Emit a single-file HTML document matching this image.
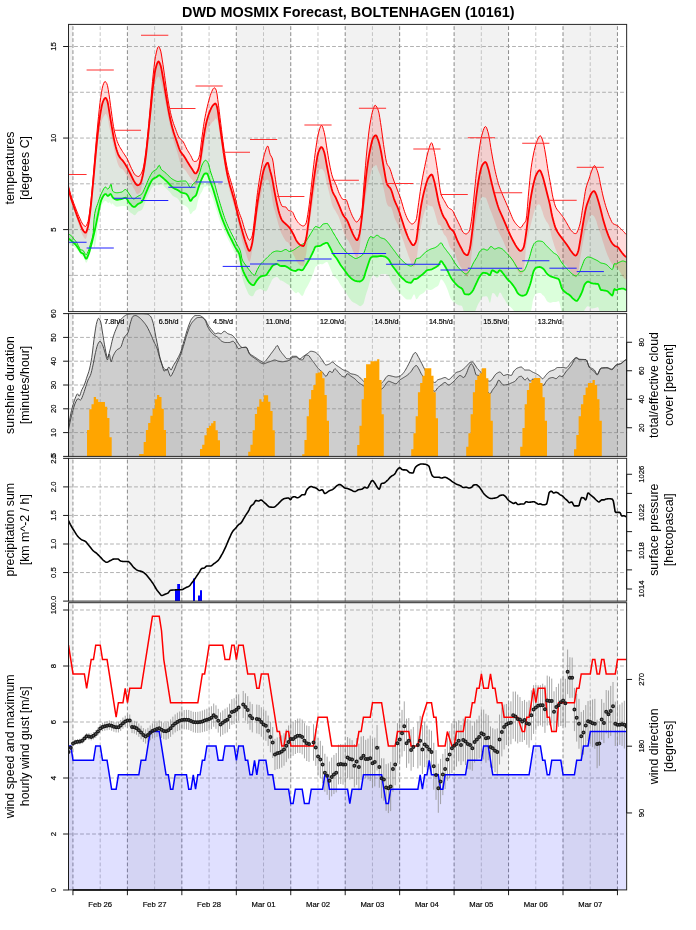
<!DOCTYPE html>
<html><head><meta charset="utf-8"><title>DWD MOSMIX Forecast, BOLTENHAGEN (10161)</title>
<style>html,body{margin:0;padding:0;background:#fff}svg{display:block}.s{stroke:#000;stroke-width:.18px}#w{will-change:transform;width:696px;height:930px}</style></head>
<body>
<div id="w">
<svg width="696" height="930" viewBox="0 0 696 930" font-family="'Liberation Sans', Arial, Helvetica, sans-serif">
<defs>
<clipPath id="c1"><rect x="68.5" y="24.4" width="558.15" height="287.2"/></clipPath>
<clipPath id="c2"><rect x="68.5" y="313.6" width="558.15" height="142.8"/></clipPath>
<clipPath id="c3"><rect x="68.5" y="458.3" width="558.15" height="142.8"/></clipPath>
<clipPath id="c4"><rect x="68.5" y="602.7" width="558.15" height="287.2"/></clipPath>
</defs>
<text x="348.3" y="16.6" text-anchor="middle" font-size="14.4" font-weight="bold">DWD MOSMIX Forecast, BOLTENHAGEN (10161)</text>
<g id="p1">
<rect x="68.5" y="24.4" width="4.45" height="287.2" fill="#f2f2f2"/><rect x="127.4" y="24.4" width="54.45" height="287.2" fill="#f2f2f2"/><rect x="236.3" y="24.4" width="54.45" height="287.2" fill="#f2f2f2"/><rect x="345.2" y="24.4" width="54.45" height="287.2" fill="#f2f2f2"/><rect x="454.1" y="24.4" width="54.45" height="287.2" fill="#f2f2f2"/><rect x="563" y="24.4" width="54.45" height="287.2" fill="#f2f2f2"/>
<g stroke-width="0.75" stroke-dasharray="3 3" stroke-linecap="round" fill="none"><path stroke="#b4b4b4" d="M100.18 311.6V24.4M154.62 311.6V24.4M209.07 311.6V24.4M263.53 311.6V24.4M317.98 311.6V24.4M372.43 311.6V24.4M426.88 311.6V24.4M481.32 311.6V24.4M535.78 311.6V24.4M590.23 311.6V24.4"/><path stroke="#666666" d="M127.4 311.6V24.4M181.85 311.6V24.4M236.3 311.6V24.4M290.75 311.6V24.4M345.2 311.6V24.4M399.65 311.6V24.4M454.1 311.6V24.4M508.55 311.6V24.4M563 311.6V24.4M617.45 311.6V24.4"/><path stroke="#6e6e6e" d="M72.95 311.6V24.4"/></g>
<path stroke="#989898" stroke-width="0.75" stroke-dasharray="3 3" stroke-linecap="round" fill="none" d="M68.5 46.5H626.65M68.5 92.28H626.65M68.5 138.05H626.65M68.5 183.82H626.65M68.5 229.6H626.65M68.5 275.38H626.65"/>
<g clip-path="url(#c1)">
<polygon fill="#285a28" fill-opacity="0.15" points="68.5,188.5 69.25,191.69 70,194.68 70.75,197.36 71.5,199.78 72.25,202.04 73,204.2 73.75,206.32 74.5,208.47 75.25,210.62 76,212.75 76.75,214.85 77.5,216.91 78.25,218.92 79,220.87 79.75,222.79 80.5,224.79 81.25,226.73 82,228.47 82.75,229.88 83.5,230.95 84.25,231.93 85,232.6 85.75,232.66 86.5,231.43 87.25,229.2 88,226.5 88.75,222.66 89.5,217.24 90.25,211.07 91,204.6 91.75,197.2 92.5,189.29 93.25,181.34 94,173.06 94.75,164.64 95.5,156.5 96.25,148.6 97,140.87 97.75,133.7 98.5,127.26 99.25,121.2 100,115.81 100.75,111.35 101.5,107.31 102.25,103.87 103,101.5 103.75,99.86 104.5,98.53 105.25,97.8 106,98.07 106.75,99.48 107.5,101.5 108.25,105.06 109,109.96 109.75,114.47 110.5,119.03 111.25,123.57 112,127.94 112.75,132.29 113.5,136.48 114.25,140.25 115,143.63 115.75,146.73 116.5,149.45 117.25,151.75 118,153.82 118.75,155.56 119.5,156.9 120.25,157.92 121,158.76 121.75,159.54 122.5,160.37 123.25,161.35 124,162.43 124.75,163.58 125.5,164.78 126.25,166.03 127,167.31 127.75,168.65 128.5,170.06 129.25,171.53 130,173.01 130.75,174.5 131.5,176.09 132.25,177.72 133,179.29 133.75,180.7 134.5,181.87 135.25,183.04 136,184.13 136.75,184.94 137.5,185.25 138.25,185.12 139,184.75 139.75,184.21 140.5,183.26 141.25,181.21 142,178.47 142.75,175.47 143.5,171.8 144.25,167.42 145,162.5 145.75,157.14 146.5,150.79 147.25,143.72 148,136.5 148.75,129.19 149.5,121.63 150.25,114.01 151,106.36 151.75,98.45 152.5,90.94 153.25,84.43 154,78.27 154.75,72.86 155.5,69 156.25,66.25 157,63.85 157.75,62.15 158.5,61.5 159.25,62.22 160,63.91 160.75,66.02 161.5,69.31 162.25,73.47 163,77.75 163.75,82.05 164.5,86.62 165.25,91.24 166,95.79 166.75,100.42 167.5,104.92 168.25,109.1 169,113.05 169.75,116.78 170.5,120.25 171.25,123.5 172,126.55 172.75,129.37 173.5,131.93 174.25,134.31 175,136.54 175.75,138.69 176.5,140.8 177.25,142.94 178,145.17 178.75,147.34 179.5,149.34 180.25,151.03 181,152.33 181.75,153.37 182.5,154.29 183.25,155.17 184,156.14 184.75,157.27 185.5,158.5 186.25,159.79 187,161.08 187.75,162.35 188.5,163.55 189.25,164.73 190,165.9 190.75,167.04 191.5,168.14 192.25,169.28 193,170.59 193.75,171.87 194.5,172.9 195.25,173.46 196,173.32 196.75,172.51 197.5,171.23 198.25,169.65 199,166.88 199.75,163.13 200.5,159 201.25,154.22 202,148.67 202.75,143.18 203.5,138.26 204.25,133.48 205,129.08 205.75,125.32 206.5,122.03 207.25,119.09 208,116.5 208.75,114.2 209.5,112.13 210.25,110.3 211,108.67 211.75,107.14 212.5,105.87 213.25,105 214,104.27 214.75,103.72 215.5,103.5 216.25,104.52 217,106.86 217.75,110.25 218.5,115.74 219.25,121.5 220,126.73 220.75,131.98 221.5,137.25 222.25,142.54 223,147.92 223.75,153.17 224.5,158.11 225.25,162.87 226,167.39 226.75,171.5 227.5,175.2 228.25,178.61 229,181.75 229.75,184.64 230.5,187.26 231.25,189.78 232,192.37 232.75,194.94 233.5,197.54 234.25,200.25 235,203.15 235.75,206.19 236.5,209.24 237.25,212.27 238,215.31 238.75,218.31 239.5,221.2 240.25,223.99 241,226.72 241.75,229.38 242.5,232.01 243.25,234.69 244,237.32 244.75,239.81 245.5,242.07 246.25,244.15 247,246.36 247.75,248.44 248.5,250.07 249.25,250.94 250,250.59 250.75,248.75 251.5,246.01 252.25,242.87 253,238.19 253.75,232.39 254.5,226.5 255.25,220.53 256,214.24 256.75,208.29 257.5,203.1 258.25,198.22 259,193.62 259.75,189.3 260.5,185.27 261.25,181.45 262,177.62 262.75,173.99 263.5,170.82 264.25,168.37 265,166.63 265.75,165.04 266.5,163.74 267.25,162.92 268,162.92 268.75,165.01 269.5,168.23 270.25,171.13 271,173.78 271.75,176.68 272.5,180.18 273.25,184.37 274,188.75 274.75,192.81 275.5,196.72 276.25,200.49 277,204 277.75,207.31 278.5,210.44 279.25,213.2 280,215.52 280.75,217.63 281.5,219.38 282.25,220.6 283,221.5 283.75,222.23 284.5,222.88 285.25,223.53 286,224.25 286.75,224.95 287.5,225.64 288.25,226.36 289,227.16 289.75,228.07 290.5,229.16 291.25,230.39 292,231.72 292.75,233.09 293.5,234.47 294.25,236.03 295,237.7 295.75,239.32 296.5,240.74 297.25,241.83 298,242.79 298.75,243.66 299.5,244.4 300.25,244.98 301,245.36 301.75,245.67 302.5,245.91 303.25,246 304,245.29 304.75,243.5 305.5,241.1 306.25,238.05 307,233.3 307.75,227.71 308.5,222.17 309.25,216.3 310,210.13 310.75,204 311.5,197.92 312.25,191.81 313,185.89 313.75,180.28 314.5,174.84 315.25,169.69 316,164.93 316.75,160.1 317.5,155.76 318.25,152.75 319,150.76 319.75,149.02 320.5,147.71 321.25,147.05 322,147.26 322.75,148.43 323.5,150.2 324.25,152.25 325,155.44 325.75,159.52 326.5,163.83 327.25,167.76 328,171.61 328.75,175.41 329.5,179 330.25,182.5 331,185.97 331.75,189.07 332.5,191.5 333.25,193.24 334,194.63 334.75,195.89 335.5,197.24 336.25,198.83 337,200.54 337.75,202.32 338.5,204.12 339.25,205.91 340,207.7 340.75,209.59 341.5,211.48 342.25,213.26 343,214.81 343.75,216.03 344.5,217.02 345.25,217.89 346,218.79 346.75,219.84 347.5,221.18 348.25,222.84 349,224.69 349.75,226.6 350.5,228.43 351.25,230.13 352,231.87 352.75,233.58 353.5,235.18 354.25,236.59 355,237.85 355.75,239.12 356.5,240.04 357.25,240.16 358,238.95 358.75,236.72 359.5,234 360.25,229.95 361,224.28 361.75,218.19 362.5,211.28 363.25,203.81 364,196.5 364.75,189.31 365.5,182.04 366.25,175.12 367,169 367.75,163.61 368.5,158.63 369.25,154.15 370,150.25 370.75,146.65 371.5,143.22 372.25,140.3 373,138.21 373.75,136.99 374.5,136.02 375.25,135.39 376,135.33 376.75,136.37 377.5,138.19 378.25,140.25 379,142.65 379.75,145.68 380.5,149.08 381.25,152.77 382,157.07 382.75,161.67 383.5,166.19 384.25,170.38 385,174.79 385.75,179.07 386.5,182.51 387.25,184.5 388,185.67 388.75,186.52 389.5,187.28 390.25,188.19 391,189.5 391.75,191.45 392.5,193.84 393.25,196.39 394,198.82 394.75,200.89 395.5,202.68 396.25,204.35 397,206 397.75,207.74 398.5,209.67 399.25,211.8 400,214.06 400.75,216.4 401.5,218.73 402.25,221.01 403,223.32 403.75,225.66 404.5,227.96 405.25,230.14 406,232.16 406.75,234.11 407.5,236.01 408.25,237.77 409,239.34 409.75,240.68 410.5,242.04 411.25,243.35 412,244.43 412.75,245.11 413.5,245.21 414.25,244.66 415,243.56 415.75,242.06 416.5,239.5 417.25,234.22 418,227.88 418.75,222.22 419.5,216.68 420.25,211.26 421,206.5 421.75,202.39 422.5,198.59 423.25,195.09 424,191.89 424.75,189 425.5,186.25 426.25,183.6 427,181.2 427.75,179.19 428.5,177.75 429.25,176.65 430,175.67 430.75,174.92 431.5,174.53 432.25,174.95 433,176.85 433.75,179.41 434.5,182.09 435.25,185.44 436,189 436.75,192.76 437.5,196.73 438.25,200.42 439,203.49 439.75,206.25 440.5,208.74 441.25,210.97 442,213.05 442.75,214.92 443.5,216.5 444.25,217.73 445,218.77 445.75,219.84 446.5,221.18 447.25,222.77 448,224.45 448.75,226.05 449.5,227.39 450.25,228.35 451,229.07 451.75,229.7 452.5,230.35 453.25,231.17 454,232.33 454.75,233.95 455.5,235.85 456.25,237.83 457,239.69 457.75,241.32 458.5,242.89 459.25,244.41 460,245.88 460.75,247.29 461.5,248.69 462.25,250.17 463,251.61 463.75,252.86 464.5,253.79 465.25,254.37 466,254.86 466.75,255.18 467.5,255.16 468.25,253.93 469,251.7 469.75,249 470.5,245.11 471.25,239.61 472,233.5 472.75,227.32 473.5,220.44 474.25,213.42 475,206.88 475.75,200.56 476.5,194.51 477.25,189 478,183.94 478.75,179.23 479.5,175.16 480.25,171.8 481,168.74 481.75,166.32 482.5,164.86 483.25,163.75 484,162.84 484.75,162.23 485.5,162 486.25,162.78 487,164.67 487.75,166.99 488.5,169.41 489.25,172.46 490,175.85 490.75,179.2 491.5,182.3 492.25,185.4 493,188.47 493.75,191.46 494.5,194.33 495.25,197.06 496,199.75 496.75,202.34 497.5,204.79 498.25,207.05 499,209.07 499.75,210.9 500.5,212.6 501.25,214.25 502,215.92 502.75,217.67 503.5,219.42 504.25,221.17 505,222.92 505.75,224.67 506.5,226.43 507.25,228.22 508,230.01 508.75,231.76 509.5,233.46 510.25,235.07 511,236.64 511.75,238.16 512.5,239.63 513.25,241.04 514,242.41 514.75,243.79 515.5,245.11 516.25,246.34 517,247.43 517.75,248.4 518.5,249.41 519.25,250.3 520,250.87 520.75,250.97 521.5,250.57 522.25,249.76 523,248.63 523.75,247.14 524.5,243.81 525.25,239.07 526,234 526.75,228.46 527.5,222.16 528.25,215.93 529,210.26 529.75,204.74 530.5,199.59 531.25,195.06 532,190.99 532.75,187.29 533.5,184 534.25,180.91 535,178.06 535.75,175.81 536.5,174.26 537.25,172.85 538,171.63 538.75,170.74 539.5,170.28 540.25,170.57 541,171.95 541.75,173.92 542.5,175.93 543.25,178.35 544,181.14 544.75,184 545.5,186.9 546.25,189.94 547,192.99 547.75,195.96 548.5,198.86 549.25,201.86 550,205.16 550.75,209.03 551.5,213.01 552.25,216.5 553,219.48 553.75,222.29 554.5,224.86 555.25,227.12 556,229 556.75,230.54 557.5,231.87 558.25,233.05 559,234.16 559.75,235.25 560.5,236.32 561.25,237.33 562,238.3 562.75,239.27 563.5,240.25 564.25,241.24 565,242.22 565.75,243.2 566.5,244.21 567.25,245.25 568,246.38 568.75,247.58 569.5,248.79 570.25,249.95 571,251 571.75,252 572.5,253 573.25,253.93 574,254.7 574.75,255.25 575.5,255.59 576.25,255.25 577,254.15 577.75,252.58 578.5,250.29 579.25,246.34 580,242 580.75,237.69 581.5,233.08 582.25,228.43 583,224 583.75,219.66 584.5,215.32 585.25,211.33 586,208 586.75,205.34 587.5,203.04 588.25,200.96 589,199 589.75,196.99 590.5,195.06 591.25,193.51 592,192.51 592.75,191.68 593.5,191.12 594.25,191.07 595,192 595.75,193.49 596.5,195.2 597.25,197.51 598,200 598.75,202.51 599.5,205.16 600.25,207.95 601,210.95 601.75,214.07 602.5,217.11 603.25,219.9 604,222.55 604.75,225.08 605.5,227.48 606.25,229.74 607,231.88 607.75,233.92 608.5,235.82 609.25,237.57 610,239.28 610.75,240.87 611.5,242.25 612.25,243.33 613,244.25 613.75,245.04 614.5,245.68 615.25,246.13 616,246.4 616.75,246.62 617.5,246.94 618.25,247.58 619,248.58 619.75,249.66 620.5,250.67 621.25,251.74 622,252.79 622.75,253.73 623.5,254.54 624.25,255.38 625,256.16 625.75,256.74 626.5,257 626.65,257 626.65,290 626.5,290 625.75,289.8 625,289.42 624.25,288.99 623.5,288.67 622.75,288.6 622,288.63 621.25,288.69 620.5,288.78 619.75,288.88 619,289 618.25,289.22 617.5,289.56 616.75,289.87 616,290 615.25,289.55 614.5,289.01 613.75,290.64 613,294.17 612.25,295.59 611.5,295.15 610.75,294.36 610,293.6 609.25,292.88 608.5,292.1 607.75,291.42 607,291 606.25,290.79 605.5,290.64 604.75,290.52 604,290.4 603.25,290.31 602.5,290.23 601.75,290.15 601,290 600.25,288.99 599.5,286.98 598.75,284.99 598,284 597.25,283.88 596.5,283.8 595.75,283.75 595,283.7 594.25,283.63 593.5,283.53 592.75,283.4 592,283.25 591.25,283.07 590.5,282.8 589.75,282.35 589,281.9 588.25,281.62 587.5,281.69 586.75,282.13 586,282.83 585.25,283.69 584.5,284.86 583.75,286.84 583,289.18 582.25,291.39 581.5,293.13 580.75,294.75 580,296.25 579.25,297.59 578.5,298.86 577.75,300.14 577,300.94 576.25,300.92 575.5,300.56 574.75,300.02 574,299.4 573.25,298.8 572.5,298.09 571.75,297.28 571,296.46 570.25,295.69 569.5,295.06 568.75,294.54 568,294.08 567.25,293.62 566.5,293.13 565.75,292.55 565,291.95 564.25,291.3 563.5,290.56 562.75,289.68 562,288.57 561.25,286.58 560.5,284.03 559.75,281.52 559,279.62 558.25,278.86 557.5,278.53 556.75,278.29 556,278.09 555.25,277.9 554.5,277.67 553.75,277.44 553,277.22 552.25,276.98 551.5,276.71 550.75,276.39 550,276 549.25,275.54 548.5,275.02 547.75,274.43 547,273.75 546.25,272.79 545.5,271.64 544.75,270.47 544,269.48 543.25,268.81 542.5,268.24 541.75,267.72 541,267.31 540.25,267.05 539.5,267 538.75,267.06 538,267.18 537.25,267.35 536.5,267.57 535.75,267.88 535,268.68 534.25,269.95 533.5,271.5 532.75,273.92 532,277.27 531.25,280.57 530.5,283.17 529.75,285.53 529,287.68 528.25,289.65 527.5,291.7 526.75,293.49 526,294.5 525.25,294.92 524.5,295.27 523.75,295.53 523,295.69 522.25,295.75 521.5,295.66 520.75,295.4 520,295.01 519.25,294.53 518.5,294 517.75,293.18 517,291.94 516.25,290.49 515.5,289.02 514.75,287.75 514,286.66 513.25,285.6 512.5,284.59 511.75,283.64 511,282.75 510.25,281.95 509.5,281.22 508.75,280.53 508,279.8 507.25,279 506.5,278.07 505.75,277.03 505,275.97 504.25,274.93 503.5,274 502.75,273.06 502,272.06 501.25,271.16 500.5,270.5 499.75,270.25 499,270.79 498.25,271.87 497.5,272.68 496.75,272.66 496,272.28 495.25,271.79 494.5,271.36 493.75,270.88 493,270.44 492.25,270.25 491.5,271.33 490.75,273.49 490,275.11 489.25,275.09 488.5,274.48 487.75,273.79 487,273.42 486.25,273.19 485.5,273 484.75,272.85 484,272.77 483.25,272.78 482.5,273.15 481.75,273.86 481,274.79 480.25,275.82 479.5,276.85 478.75,278.14 478,279.67 477.25,281.31 476.5,282.96 475.75,284.51 475,286.17 474.25,287.87 473.5,289.48 472.75,290.82 472,291.79 471.25,292.64 470.5,293.42 469.75,294.04 469,294.42 468.25,294.5 467.5,294.46 466.75,294.39 466,294.28 465.25,294.12 464.5,293.83 463.75,292.39 463,290.42 462.25,289 461.5,288.34 460.75,287.85 460,287.44 459.25,287.02 458.5,286.5 457.75,285.86 457,285.16 456.25,284.4 455.5,283.59 454.75,282.75 454,281.87 453.25,280.95 452.5,279.96 451.75,278.9 451,277.75 450.25,276.42 449.5,274.9 448.75,273.3 448,271.71 447.25,270.25 446.5,268.89 445.75,267.57 445,266.29 444.25,265.09 443.5,264 442.75,262.84 442,261.72 441.25,261.05 440.5,261.36 439.75,262.82 439,264.49 438.25,265.49 437.5,266.11 436.75,266.63 436,267.07 435.25,267.48 434.5,267.89 433.75,268.3 433,268.69 432.25,269.04 431.5,269.34 430.75,269.57 430,269.72 429.25,269.84 428.5,269.95 427.75,270.11 427,270.35 426.25,270.83 425.5,271.51 424.75,272.29 424,273.05 423.25,273.71 422.5,274.33 421.75,274.95 421,275.55 420.25,276.13 419.5,276.69 418.75,277.33 418,277.99 417.25,278.55 416.5,278.92 415.75,279 415,279 414.25,279.05 413.5,279.66 412.75,280.69 412,281.78 411.25,282.57 410.5,282.75 409.75,282.68 409,282.55 408.25,282.37 407.5,282.16 406.75,281.91 406,281.48 405.25,280.88 404.5,280.18 403.75,279.46 403,278.78 402.25,278.09 401.5,277.37 400.75,276.61 400,275.81 399.25,274.96 398.5,274.02 397.75,273.01 397,271.97 396.25,270.93 395.5,269.92 394.75,268.95 394,267.98 393.25,267 392.5,265.97 391.75,264.86 391,263.54 390.25,262.11 389.5,260.74 388.75,259.58 388,258.76 387.25,258.09 386.5,257.5 385.75,257.01 385,256.65 384.25,256.45 383.5,256.29 382.75,256.16 382,256.07 381.25,256.01 380.5,256.01 379.75,256.09 379,256.23 378.25,256.37 377.5,256.48 376.75,256.5 376,256.5 375.25,256.5 374.5,256.5 373.75,256.5 373,256.52 372.25,256.74 371.5,257.17 370.75,257.75 370,258.98 369.25,261.02 368.5,263.29 367.75,265.41 367,267.66 366.25,269.98 365.5,272.29 364.75,274.95 364,277.43 363.25,279 362.5,279.81 361.75,280.5 361,281.03 360.25,281.38 359.5,281.5 358.75,281.47 358,281.4 357.25,281.29 356.5,281.15 355.75,281 355,280.77 354.25,280.43 353.5,280 352.75,279.52 352,279 351.25,278.41 350.5,277.72 349.75,276.94 349,276.11 348.25,275.25 347.5,274.34 346.75,273.35 346,272.32 345.25,271.27 344.5,270.25 343.75,269.27 343,268.3 342.25,267.33 341.5,266.32 340.75,265.25 340,264.07 339.25,262.78 338.5,261.47 337.75,260.18 337,259 336.25,257.96 335.5,257.02 334.75,256.09 334,255.11 333.25,254 332.5,252.66 331.75,251.11 331,249.48 330.25,247.9 329.5,246.5 328.75,245.07 328,243.66 327.25,242.82 326.5,242.79 325.75,242.96 325,243.23 324.25,243.56 323.5,243.89 322.75,244.24 322,244.69 321.25,245.17 320.5,245.61 319.75,245.93 319,246.09 318.25,246.17 317.5,246.24 316.75,246.31 316,246.44 315.25,246.94 314.5,248.46 313.75,250.36 313,252 312.25,253.54 311.5,255.08 310.75,256.6 310,258.07 309.25,259.45 308.5,260.78 307.75,262.07 307,263.31 306.25,264.49 305.5,265.64 304.75,266.92 304,268.24 303.25,269.37 302.5,270.09 301.75,270.24 301,270.12 300.25,269.91 299.5,269.69 298.75,269.54 298,269.54 297.25,270.03 296.5,270.68 295.75,271 295,270.96 294.25,270.85 293.5,270.68 292.75,270.48 292,270.25 291.25,269.91 290.5,269.4 289.75,268.82 289,268.24 288.25,267.75 287.5,267.3 286.75,266.84 286,266.42 285.25,266.12 284.5,266 283.75,266 283,266 282.25,266 281.5,266 280.75,266 280,265.79 279.25,265.3 278.5,264.7 277.75,264.21 277,264 276.25,264.07 275.5,264.25 274.75,264.52 274,264.86 273.25,265.25 272.5,265.87 271.75,266.82 271,267.96 270.25,269.15 269.5,270.25 268.75,271.36 268,272.57 267.25,273.73 266.5,274.68 265.75,275.25 265,275.52 264.25,275.71 263.5,275.85 262.75,275.97 262,276.12 261.25,276.32 260.5,276.62 259.75,277.16 259,277.89 258.25,278.76 257.5,279.66 256.75,280.56 256,281.74 255.25,283.07 254.5,284.27 253.75,285.07 253,285.23 252.25,285 251.5,284.54 250.75,283.93 250,283.23 249.25,282.49 248.5,281.52 247.75,280.31 247,278.94 246.25,277.48 245.5,276.02 244.75,274.55 244,273.01 243.25,271.28 242.5,269.28 241.75,266.81 241,262.9 240.25,258.42 239.5,254.78 238.75,252.84 238,251.46 237.25,250.35 236.5,249.32 235.75,248.19 235,246.82 234.25,245.35 233.5,243.83 232.75,242.29 232,240.75 231.25,239.26 230.5,237.79 229.75,236.33 229,234.83 228.25,233.28 227.5,231.66 226.75,229.98 226,228.24 225.25,226.45 224.5,224.62 223.75,222.75 223,220.85 222.25,218.89 221.5,216.86 220.75,214.73 220,212.47 219.25,210.04 218.5,207.49 217.75,204.91 217,202.34 216.25,199.81 215.5,197.23 214.75,194.65 214,192.13 213.25,189.75 212.5,187.55 211.75,185.47 211,183.48 210.25,181.54 209.5,179.63 208.75,177.54 208,175.17 207.25,173.63 206.5,173.5 205.75,173.5 205,173.5 204.25,173.97 203.5,175.17 202.75,176.77 202,178.47 201.25,180.09 200.5,181.93 199.75,183.95 199,186.09 198.25,188.27 197.5,190.66 196.75,193.38 196,195.25 195.25,196.07 194.5,196.63 193.75,197.12 193,197.75 192.25,198.83 191.5,200.1 190.75,200.93 190,200.59 189.25,198.92 188.5,196.95 187.75,195.67 187,194.72 186.25,193.96 185.5,193.5 184.75,193.29 184,193.16 183.25,193.05 182.5,192.93 181.75,192.75 181,192.41 180.25,191.91 179.5,191.33 178.75,190.75 178,190.25 177.25,189.85 176.5,189.5 175.75,189.17 175,188.84 174.25,188.48 173.5,188.07 172.75,187.57 172,186.92 171.25,186.16 170.5,185.34 169.75,184.52 169,183.75 168.25,182.99 167.5,182.22 166.75,181.46 166,180.72 165.25,180.02 164.5,179.33 163.75,178.66 163,178.01 162.25,177.39 161.5,176.8 160.75,176.11 160,175.51 159.25,175.25 158.5,175.53 157.75,176.16 157,176.83 156.25,177.28 155.5,177.63 154.75,177.96 154,178.33 153.25,178.81 152.5,179.49 151.75,180.53 151,181.82 150.25,183.27 149.5,184.76 148.75,186.28 148,187.98 147.25,189.8 146.5,191.65 145.75,193.43 145,195.18 144.25,197.08 143.5,198.95 142.75,200.57 142,201.75 141.25,202.38 140.5,202.81 139.75,203.15 139,203.47 138.25,203.85 137.5,204.39 136.75,205.13 136,205.93 135.25,206.6 134.5,206.97 133.75,206.93 133,206.58 132.25,206.01 131.5,205.27 130.75,204.44 130,203.58 129.25,202.75 128.5,201.73 127.75,200.42 127,199.13 126.25,198.14 125.5,197.75 124.75,197.85 124,198.11 123.25,198.45 122.5,198.77 121.75,199 121,199.16 120.25,199.32 119.5,199.46 118.75,199.59 118,199.68 117.25,199.74 116.5,199.74 115.75,199.56 115,199.2 114.25,198.72 113.5,198.15 112.75,197.48 112,196.14 111.25,194.68 110.5,194 109.75,194.43 109,195.3 108.25,195.94 107.5,195.79 106.75,195 106,194.21 105.25,194.03 104.5,194.48 103.75,195.37 103,196.59 102.25,198 101.5,199.56 100.75,201.88 100,204.92 99.25,208.44 98.5,212.14 97.75,215.77 97,219.46 96.25,223.37 95.5,227.04 94.75,230.44 94,233.7 93.25,236.89 92.5,240.06 91.75,243.17 91,246.1 90.25,248.81 89.5,251.44 88.75,253.78 88,255.67 87.25,257.46 86.5,258.67 85.75,258.53 85,257.21 84.25,255.46 83.5,254.02 82.75,253.44 82,253.15 81.25,252.8 80.5,252.03 79.75,250.79 79,249.55 78.25,248.37 77.5,247.17 76.75,246.05 76,245.08 75.25,244.26 74.5,243.51 73.75,242.82 73,242.17 72.25,241.53 71.5,240.89 70.75,240.28 70,239.7 69.25,239.14 68.5,238.6"/>
<polygon fill="#00ff00" fill-opacity="0.14" points="68.5,234.1 69.25,234.38 70,234.82 70.75,235.38 71.5,236.04 72.25,236.75 73,237.76 73.75,238.79 74.5,239.69 75.25,240.57 76,241.56 76.75,242.76 77.5,244.14 78.25,245.56 79,246.99 79.75,248.59 80.5,249.64 81.25,249.89 82,250.02 82.75,250.22 83.5,250.98 84.25,252.25 85,253.58 85.75,254.52 86.5,254.57 87.25,253.4 88,251.66 88.75,249.8 89.5,247.45 90.25,244.82 91,242.18 91.75,239.85 92.5,237 93.25,232.59 94,219.52 94.75,213.48 95.5,210.05 96.25,207.54 97,205.51 97.75,203.49 98.5,201.22 99.25,198.98 100,196.88 100.75,194.95 101.5,193.25 102.25,191.74 103,190.18 103.75,188.74 104.5,187.63 105.25,187.04 106,187.31 106.75,188.37 107.5,189 108.25,188.7 109,188.02 109.75,186.73 110.5,184.63 111.25,184.49 112,188.99 112.75,191.21 113.5,191.76 114.25,192.17 115,192.47 115.75,192.66 116.5,192.74 117.25,192.74 118,192.69 118.75,192.61 119.5,192.49 120.25,192.35 121,192.18 121.75,192 122.5,191.62 123.25,190.98 124,190.29 124.75,189.73 125.5,189.5 126.25,189.83 127,190.66 127.75,191.77 128.5,192.96 129.25,194 130,195.02 130.75,196.18 131.5,197.31 132.25,198.27 133,198.87 133.75,198.98 134.5,198.72 135.25,198.24 136,197.65 136.75,197.03 137.5,196.5 138.25,196.09 139,195.72 139.75,195.35 140.5,194.94 141.25,194.42 142,193.74 142.75,192.61 143.5,191.1 144.25,189.39 145,187.62 145.75,185.95 146.5,184.19 147.25,182.34 148,180.5 148.75,178.78 149.5,177.26 150.25,175.79 151,174.38 151.75,173.11 152.5,172.05 153.25,171.28 154,170.73 154.75,170.31 155.5,169.91 156.25,169.42 157,168.7 157.75,167.34 158.5,165.91 159.25,165.25 160,166.49 160.75,168.56 161.5,169.59 162.25,170.32 163,170.91 163.75,171.43 164.5,171.95 165.25,172.53 166,173.22 166.75,173.98 167.5,174.77 168.25,175.54 169,176.27 169.75,176.95 170.5,177.62 171.25,178.27 172,178.86 172.75,179.36 173.5,179.78 174.25,180.19 175,180.59 175.75,180.95 176.5,181.24 177.25,181.43 178,181.5 178.75,181.45 179.5,181.32 180.25,181.18 181,181.05 181.75,181 182.5,181 183.25,181 184,181 184.75,181 185.5,181 186.25,181.44 187,182.46 187.75,183.65 188.5,184.82 189.25,186.29 190,187.47 190.75,187.67 191.5,186.69 192.25,185.21 193,184 193.75,183.32 194.5,182.8 195.25,182.25 196,181.5 196.75,180.3 197.5,178.64 198.25,176.7 199,174.67 199.75,172.53 200.5,169.97 201.25,167.36 202,165.1 202.75,163.55 203.5,162.24 204.25,161.12 205,160.41 205.75,160.28 206.5,160.76 207.25,161.64 208,162.75 208.75,164.7 209.5,167.62 210.25,170.63 211,173.08 211.75,175.3 212.5,177.46 213.25,179.64 214,181.94 214.75,184.46 215.5,187.18 216.25,190.01 217,192.86 217.75,195.62 218.5,198.24 219.25,200.8 220,203.32 220.75,205.79 221.5,208.21 222.25,210.58 223,212.94 223.75,215.26 224.5,217.48 225.25,219.58 226,221.54 226.75,223.38 227.5,225.13 228.25,226.82 229,228.46 229.75,230.06 230.5,231.59 231.25,233.07 232,234.53 232.75,236 233.5,237.5 234.25,239 235,240.5 235.75,242 236.5,243.5 237.25,244.94 238,246.21 238.75,247.48 239.5,248.94 240.25,250.77 241,253.82 241.75,258.08 242.5,260.23 243.25,261.7 244,262.87 244.75,263.88 245.5,264.89 246.25,265.98 247,267.05 247.75,268.07 248.5,269.04 249.25,269.96 250,270.86 250.75,271.84 251.5,272.84 252.25,273.76 253,274.53 253.75,275.06 254.5,275.25 255.25,274.46 256,272.67 256.75,270.76 257.5,269.33 258.25,267.96 259,266.65 259.75,265.42 260.5,264.33 261.25,263.39 262,262.56 262.75,261.81 263.5,261.1 264.25,260.42 265,259.72 265.75,259 266.5,258.24 267.25,257.47 268,256.71 268.75,255.97 269.5,255.25 270.25,254.52 271,253.75 271.75,253.03 272.5,252.42 273.25,252 274,251.7 274.75,251.43 275.5,251.21 276.25,251.06 277,251 277.75,251.05 278.5,251.18 279.25,251.32 280,251.45 280.75,251.5 281.5,251.38 282.25,251.07 283,250.65 283.75,250.2 284.5,249.81 285.25,249.56 286,249.53 286.75,249.85 287.5,250.4 288.25,250.98 289,251.4 289.75,251.49 290.5,251.37 291.25,251.13 292,250.82 292.75,250.48 293.5,250.13 294.25,249.7 295,249.19 295.75,248.65 296.5,248.1 297.25,247.58 298,247.08 298.75,246.58 299.5,246.08 300.25,245.58 301,245.09 301.75,244.63 302.5,244.18 303.25,243.71 304,243.17 304.75,242.52 305.5,241.68 306.25,240.7 307,239.62 307.75,238.5 308.5,237.37 309.25,236.15 310,234.84 310.75,233.53 311.5,232.27 312.25,231.11 313,229.83 313.75,228.51 314.5,227.38 315.25,226.66 316,226.52 316.75,226.72 317.5,227.06 318.25,227.43 319,227.69 319.75,227.71 320.5,227.14 321.25,226.16 322,225.1 322.75,224.27 323.5,223.94 324.25,223.79 325,223.66 325.75,223.56 326.5,223.51 327.25,223.55 328,224.22 328.75,225.34 329.5,226.5 330.25,227.61 331,228.85 331.75,230.15 332.5,231.47 333.25,232.75 334,234 334.75,235.25 335.5,236.5 336.25,237.75 337,239 337.75,240.27 338.5,241.57 339.25,242.85 340,244.09 340.75,245.25 341.5,246.34 342.25,247.4 343,248.41 343.75,249.36 344.5,250.25 345.25,251.09 346,251.9 346.75,252.66 347.5,253.36 348.25,254 349,254.57 349.75,255.1 350.5,255.59 351.25,256.05 352,256.5 352.75,256.99 353.5,257.52 354.25,258.01 355,258.36 355.75,258.5 356.5,258.41 357.25,258.16 358,257.82 358.75,257.41 359.5,257 360.25,256.58 361,256.11 361.75,255.54 362.5,254.85 363.25,254 364,252.62 364.75,250.63 365.5,248.45 366.25,246.26 367,243.77 367.75,241.45 368.5,239.74 369.25,238.21 370,236.99 370.75,236.5 371.5,236.77 372.25,237.31 373,237.72 373.75,237.63 374.5,237.1 375.25,236.38 376,235.69 376.75,235.28 377.5,235.35 378.25,235.77 379,236.4 379.75,237.07 380.5,237.62 381.25,237.95 382,238.18 382.75,238.38 383.5,238.6 384.25,238.88 385,239.3 385.75,239.93 386.5,240.71 387.25,241.58 388,242.46 388.75,243.35 389.5,244.31 390.25,245.33 391,246.38 391.75,247.41 392.5,248.42 393.25,249.42 394,250.42 394.75,251.42 395.5,252.42 396.25,253.43 397,254.47 397.75,255.51 398.5,256.52 399.25,257.46 400,258.31 400.75,259.11 401.5,259.87 402.25,260.59 403,261.28 403.75,261.95 404.5,262.62 405.25,263.27 406,263.86 406.75,264.36 407.5,264.77 408.25,265.19 409,265.56 409.75,265.84 410.5,265.99 411.25,265.95 412,265.69 412.75,265.22 413.5,264.58 414.25,263.79 415,262.14 415.75,259.41 416.5,258.71 417.25,258.44 418,258.27 418.75,258.11 419.5,257.86 420.25,257.43 421,256.75 421.75,255.91 422.5,255.04 423.25,254.23 424,253.56 424.75,252.91 425.5,252.28 426.25,251.7 427,251.16 427.75,250.69 428.5,250.24 429.25,249.83 430,249.45 430.75,249.1 431.5,248.81 432.25,248.57 433,248.36 433.75,248.13 434.5,247.86 435.25,247.51 436,247.08 436.75,246.59 437.5,246.04 438.25,245.45 439,244.73 439.75,243.75 440.5,242.95 441.25,242.82 442,243.73 442.75,245.17 443.5,246.5 444.25,247.54 445,248.55 445.75,249.53 446.5,250.51 447.25,251.5 448,252.48 448.75,253.45 449.5,254.42 450.25,255.43 451,256.5 451.75,257.68 452.5,258.97 453.25,260.28 454,261.57 454.75,262.75 455.5,263.84 456.25,264.9 457,265.91 457.75,266.86 458.5,267.75 459.25,268.59 460,269.4 460.75,270.16 461.5,270.86 462.25,271.5 463,272.14 463.75,272.81 464.5,273.41 465.25,273.84 466,274 466.75,273.77 467.5,273.16 468.25,272.29 469,271.28 469.75,270.25 470.5,269.05 471.25,267.54 472,265.89 472.75,264.24 473.5,262.75 474.25,261.45 475,260.23 475.75,259.03 476.5,257.81 477.25,256.5 478,254.91 478.75,253.19 479.5,251.81 480.25,250.99 481,250.28 481.75,249.67 482.5,249.24 483.25,249.02 484,249.06 484.75,249.32 485.5,249.69 486.25,250.03 487,250.23 487.75,250.07 488.5,249.28 489.25,248.19 490,247.16 490.75,246.55 491.5,246.62 492.25,247.15 493,247.87 493.75,248.56 494.5,248.97 495.25,248.94 496,248.68 496.75,248.31 497.5,247.97 498.25,247.77 499,247.78 499.75,247.94 500.5,248.19 501.25,248.51 502,248.88 502.75,249.31 503.5,249.97 504.25,250.78 505,251.65 505.75,252.49 506.5,253.24 507.25,253.96 508,254.68 508.75,255.42 509.5,256.22 510.25,257.09 511,258.02 511.75,259.01 512.5,260.05 513.25,261.13 514,262.28 514.75,263.57 515.5,264.91 516.25,266.21 517,267.4 517.75,268.48 518.5,269.63 519.25,270.66 520,271.35 520.75,271.5 521.5,271.44 522.25,271.31 523,271.14 523.75,270.88 524.5,270.07 525.25,268.72 526,267.03 526.75,265.2 527.5,263.39 528.25,261.29 529,258.94 529.75,256.5 530.5,253.82 531.25,250.97 532,248.44 532.75,246.48 533.5,244.7 534.25,243.32 535,242.56 535.75,242.02 536.5,241.57 537.25,241.23 538,241.04 538.75,241 539.5,241.04 540.25,241.12 541,241.24 541.75,241.39 542.5,241.58 543.25,242.09 544,242.87 544.75,243.79 545.5,244.71 546.25,245.5 547,246.25 547.75,247 548.5,247.75 549.25,248.5 550,249.25 550.75,250.04 551.5,250.84 552.25,251.61 553,252.33 553.75,252.94 554.5,253.43 555.25,253.86 556,254.29 556.75,254.82 557.5,255.51 558.25,256.57 559,257.89 559.75,259.32 560.5,260.69 561.25,261.87 562,262.95 562.75,263.99 563.5,264.98 564.25,265.91 565,266.78 565.75,267.58 566.5,268.32 567.25,269.04 568,269.76 568.75,270.5 569.5,271.31 570.25,272.13 571,272.92 571.75,273.61 572.5,274.18 573.25,274.72 574,275.25 574.75,275.67 575.5,275.94 576.25,275.97 577,275.53 577.75,274.72 578.5,273.71 579.25,272.61 580,271.08 580.75,269.2 581.5,267.23 582.25,265.39 583,263.38 583.75,261.37 584.5,259.72 585.25,258.74 586,258.02 586.75,257.44 587.5,257.08 588.25,257.01 589,257.09 589.75,257.26 590.5,257.46 591.25,257.68 592,257.98 592.75,258.35 593.5,258.75 594.25,259.12 595,259.48 595.75,259.83 596.5,260.2 597.25,260.59 598,261 598.75,261.51 599.5,262.1 600.25,262.64 601,263 601.75,263.18 602.5,263.31 603.25,263.43 604,263.6 604.75,263.85 605.5,264.17 606.25,264.55 607,265 607.75,265.63 608.5,266.44 609.25,267.29 610,268 610.75,268.65 611.5,269.26 612.25,269.59 613,268.3 613.75,265.09 614.5,263.6 615.25,263.82 616,264 616.75,263.81 617.5,263.36 618.25,262.83 619,262.4 619.75,262.06 620.5,261.71 621.25,261.39 622,261.14 622.75,261.01 623.5,261.05 624.25,261.28 625,261.58 625.75,261.86 626.5,262 626.65,262 626.65,318 626.5,318 625.75,317.75 625,317.25 624.25,316.7 623.5,316.29 622.75,316.19 622,316.13 621.25,316 620.5,315.85 619.75,315.71 619,315.6 618.25,315.62 617.5,315.76 616.75,315.92 616,316 615.25,315.27 614.5,314.42 613.75,316.19 613,320.04 612.25,321.58 611.5,321.03 610.75,320.08 610,319.2 609.25,318.48 608.5,317.77 607.75,317.22 607,317 606.25,317.03 605.5,317.11 604.75,317.18 604,317.2 603.25,317.18 602.5,317.16 601.75,317.11 601,317 600.25,315.33 599.5,311.86 598.75,308.46 598,307 597.25,307.17 596.5,307.41 595.75,307.67 595,307.93 594.25,308.14 593.5,308.31 592.75,308.45 592,308.52 591.25,308.46 590.5,308.14 589.75,307.45 589,306.71 588.25,306.24 587.5,306.31 586.75,306.82 586,307.64 585.25,308.65 584.5,310.01 583.75,312.31 583,314.99 582.25,317.38 581.5,319.02 580.75,320.3 580,321.41 579.25,322.57 578.5,324.01 577.75,325.56 577,326.34 576.25,325.88 575.5,325.19 574.75,324.36 574,323.55 573.25,322.87 572.5,322.01 571.75,320.95 571,319.99 570.25,319.25 569.5,318.8 568.75,318.57 568,318.39 567.25,318.2 566.5,317.93 565.75,317.52 565,317.11 564.25,316.68 563.5,316.14 562.75,315.37 562,314.18 561.25,311.29 560.5,307.37 559.75,303.71 559,301.36 558.25,301.15 557.5,301.54 556.75,301.76 556,301.89 555.25,301.94 554.5,301.9 553.75,301.94 553,302.11 552.25,302.35 551.5,302.58 550.75,302.73 550,302.74 549.25,302.58 548.5,302.29 547.75,301.86 547,301.26 546.25,300.09 545.5,298.57 544.75,297.16 544,296.09 543.25,295.53 542.5,294.9 541.75,294.05 541,293.37 540.25,292.98 539.5,292.97 538.75,293.11 538,293.31 537.25,293.46 536.5,293.58 535.75,293.74 535,294.8 534.25,296.57 533.5,298.3 532.75,301.37 532,306.1 531.25,310.18 530.5,312.52 529.75,314.56 529,316.42 528.25,318.01 527.5,320.02 526.75,321.78 526,321.97 525.25,321.12 524.5,320.47 523.75,320.18 523,320.25 522.25,320.19 521.5,319.87 520.75,319.3 520,318.67 519.25,318.4 518.5,318.37 517.75,317.88 517,316.48 516.25,314.76 515.5,313.14 514.75,311.93 514,311.03 513.25,310.07 512.5,309.14 511.75,308.27 511,307.48 510.25,306.81 509.5,306.23 508.75,305.63 508,304.92 507.25,304.04 506.5,302.9 505.75,301.58 505,300.28 504.25,299.08 503.5,298.03 502.75,296.81 502,295.25 501.25,293.81 500.5,292.82 499.75,292.56 499,293.8 498.25,295.97 497.5,297.39 496.75,297.01 496,295.89 495.25,294.64 494.5,293.76 493.75,293.2 493,293.01 492.25,293.35 491.5,296.04 490.75,300.43 490,303.06 489.25,302 488.5,299.67 487.75,297.5 487,296.61 486.25,296.36 485.5,296.32 484.75,296.39 484,296.47 483.25,296.54 482.5,297.06 481.75,298.04 481,299.3 480.25,300.64 479.5,301.9 478.75,303.09 478,304.43 477.25,306.13 476.5,308.11 475.75,309.99 475,312.11 474.25,314.3 473.5,316.2 472.75,317.4 472,317.68 471.25,317.74 470.5,317.79 469.75,317.83 469,317.56 468.25,316.71 467.5,315.77 466.75,315.01 466,314.55 465.25,314.41 464.5,314.25 463.75,311.97 463,308.69 462.25,306.5 461.5,305.82 460.75,305.54 460,305.48 459.25,305.45 458.5,305.25 457.75,304.87 457,304.41 456.25,303.9 455.5,303.34 454.75,302.75 454,302.18 453.25,301.61 452.5,300.96 451.75,300.12 451,299 450.25,297.41 449.5,295.38 448.75,293.14 448,290.94 447.25,289 446.5,287.28 445.75,285.6 445,284.04 444.25,282.65 443.5,281.5 442.75,280.52 442,279.72 441.25,279.28 440.5,279.78 439.75,281.89 439,284.25 438.25,285.52 437.5,286.19 436.75,286.67 436,287.06 435.25,287.45 434.5,287.92 433.75,288.47 433,289.02 432.25,289.52 431.5,289.87 430.75,290.03 430,289.99 429.25,289.85 428.5,289.67 427.75,289.53 427,289.53 426.25,289.97 425.5,290.74 424.75,291.66 424,292.54 423.25,293.18 422.5,293.62 421.75,293.98 421,294.35 420.25,294.83 419.5,295.52 418.75,296.55 418,297.71 417.25,298.67 416.5,299.13 415.75,298.59 415,295.86 414.25,294.3 413.5,294.73 412.75,296.15 412,297.87 411.25,299.19 410.5,299.5 409.75,299.52 409,299.55 408.25,299.56 407.5,299.54 406.75,299.45 406,299.09 405.25,298.48 404.5,297.74 403.75,296.97 403,296.28 402.25,295.59 401.5,294.87 400.75,294.11 400,293.31 399.25,292.46 398.5,291.52 397.75,290.51 397,289.47 396.25,288.43 395.5,287.42 394.75,286.47 394,285.55 393.25,284.58 392.5,283.53 391.75,282.31 391,280.71 390.25,278.9 389.5,277.17 388.75,275.81 388,275.07 387.25,274.61 386.5,274.28 385.75,274.08 385,274 384.25,274.01 383.5,273.99 382.75,273.95 382,273.95 381.25,274.07 380.5,274.39 379.75,275.1 379,276.05 378.25,276.97 377.5,277.61 376.75,277.72 376,277.31 375.25,276.62 374.5,275.9 373.75,275.37 373,275.32 372.25,276.17 371.5,277.58 370.75,279 370,280.96 369.25,283.83 368.5,286.84 367.75,289.37 367,291.56 366.25,293.7 365.5,296.13 364.75,299.26 364,302.25 363.25,304 362.5,304.76 361.75,305.45 361,305.95 360.25,306.17 359.5,306 358.75,305.54 358,304.99 357.25,304.42 356.5,303.9 355.75,303.5 355,303.18 354.25,302.85 353.5,302.48 352.75,302.04 352,301.5 351.25,300.77 350.5,299.84 349.75,298.77 349,297.64 348.25,296.5 347.5,295.32 346.75,294.05 346,292.74 345.25,291.45 344.5,290.25 343.75,289.18 343,288.2 342.25,287.26 341.5,286.3 340.75,285.25 340,284.04 339.25,282.72 338.5,281.37 337.75,280.09 337,279 336.25,278.17 335.5,277.53 334.75,276.93 334,276.22 333.25,275.25 332.5,273.85 331.75,272.07 331,270.12 330.25,268.19 329.5,266.5 328.75,264.79 328,263.1 327.25,262.08 326.5,262.06 325.75,262.36 325,262.81 324.25,263.33 323.5,263.85 322.75,264.21 322,264.27 321.25,264.18 320.5,264.09 319.75,264.16 319,264.49 318.25,264.92 317.5,265.41 316.75,265.9 316,266.36 315.25,267.23 314.5,269.53 313.75,272.21 313,274.18 312.25,275.96 311.5,277.88 310.75,279.67 310,281.29 309.25,282.76 308.5,284.2 307.75,285.65 307,287 306.25,288.29 305.5,289.59 304.75,291.33 304,293.31 303.25,295.02 302.5,296.01 301.75,295.85 301,295.15 300.25,294.24 299.5,293.31 298.75,292.49 298,292 297.25,292.47 296.5,293.26 295.75,293.35 295,292.72 294.25,291.99 293.5,291.23 292.75,290.47 292,289.68 291.25,288.69 290.5,287.44 289.75,286.14 289,285.07 288.25,284.52 287.5,284.21 286.75,283.82 286,283.31 285.25,282.68 284.5,282.19 283.75,281.8 283,281.35 282.25,280.93 281.5,280.62 280.75,280.5 280,280.14 279.25,279.27 278.5,278.23 277.75,277.36 277,277 276.25,277.08 275.5,277.29 274.75,277.62 274,278.03 273.25,278.5 272.5,279.31 271.75,280.61 271,282.17 270.25,283.79 269.5,285.25 268.75,286.75 268,288.44 267.25,290 266.5,291.12 265.75,291.5 265,291.32 264.25,291 263.5,290.59 262.75,290.14 262,289.67 261.25,289.24 260.5,288.91 259.75,288.89 259,289.14 258.25,289.55 257.5,289.99 256.75,290.36 256,290.81 255.25,291.68 254.5,293.29 253.75,295.09 253,295.93 252.25,296.23 251.5,296.24 250.75,296.01 250,295.6 249.25,295.03 248.5,294 247.75,292.55 247,290.82 246.25,288.97 245.5,287.14 244.75,285.22 244,283.14 243.25,280.85 242.5,278.33 241.75,275.54 241,271.98 240.25,266.07 239.5,260.63 238.75,258.19 238,256.71 237.25,255.76 236.5,255.14 235.75,254.37 235,253.14 234.25,251.7 233.5,250.16 232.75,248.57 232,246.98 231.25,245.45 230.5,244 229.75,242.6 229,241.21 228.25,239.75 227.5,238.19 226.75,236.57 226,234.94 225.25,233.32 224.5,231.76 223.75,230.25 223,228.75 222.25,227.2 221.5,225.51 220.75,223.68 220,221.62 219.25,219.27 218.5,216.75 217.75,214.2 217,211.82 216.25,209.61 215.5,207.28 214.75,204.84 214,202.33 213.25,199.87 212.5,197.64 211.75,195.63 211,193.88 210.25,192.45 209.5,191.65 208.75,190.37 208,187.58 207.25,185.61 206.5,186.24 205.75,186.72 205,186.59 204.25,186.82 203.5,188.09 202.75,189.99 202,191.84 201.25,192.83 200.5,193.89 199.75,195.37 199,197.51 198.25,199.85 197.5,202.69 196.75,206.47 196,209 195.25,209.9 194.5,210.46 193.75,210.92 193,211.5 192.25,212.45 191.5,213.51 190.75,214.19 190,213.71 189.25,211.54 188.5,209.08 187.75,207.69 187,206.98 186.25,206.48 185.5,206 184.75,205.58 184,205.32 183.25,205.11 182.5,204.87 181.75,204.5 181,203.77 180.25,202.65 179.5,201.34 178.75,200.05 178,199 177.25,198.27 176.5,197.76 175.75,197.39 175,197.09 174.25,196.77 173.5,196.36 172.75,195.78 172,194.99 171.25,194.05 170.5,193.06 169.75,192.09 169,191.22 168.25,190.43 167.5,189.67 166.75,188.94 166,188.22 165.25,187.51 164.5,186.71 163.75,185.89 163,185.12 162.25,184.47 161.5,184 160.75,183.66 160,184.52 159.25,185.25 158.5,185.15 157.75,184.99 157,184.95 156.25,185.14 155.5,185.36 154.75,185.61 154,185.93 153.25,186.34 152.5,186.94 151.75,187.95 151,189.26 150.25,190.74 149.5,192.26 148.75,193.77 148,195.46 147.25,197.26 146.5,199.11 145.75,200.92 145,202.73 144.25,204.76 143.5,206.79 142.75,208.54 142,209.76 141.25,210.34 140.5,210.69 139.75,210.95 139,211.22 138.25,211.61 137.5,212.27 136.75,213.24 136,214.21 135.25,214.95 134.5,215.22 133.75,214.88 133,214.29 132.25,213.75 131.5,213.23 130.75,212.7 130,212.14 129.25,211.5 128.5,210.49 127.75,209.07 127,207.61 126.25,206.46 125.5,206 124.75,205.98 124,205.94 123.25,205.91 122.5,205.92 121.75,206 121,206.14 120.25,206.29 119.5,206.43 118.75,206.57 118,206.67 117.25,206.74 116.5,206.73 115.75,206.45 115,205.93 114.25,205.27 113.5,204.55 112.75,203.75 112,203.28 111.25,204.88 110.5,203.37 109.75,202.13 109,202.58 108.25,203.18 107.5,202.58 106.75,201.63 106,201.1 105.25,201.02 104.5,201.34 103.75,202.01 103,203 102.25,204.26 101.5,205.87 100.75,208.81 100,212.97 99.25,217.89 98.5,223.06 97.75,228.04 97,233.42 96.25,239.2 95.5,244.02 94.75,247.39 94,247.89 93.25,241.19 92.5,243.11 91.75,246.49 91,250.02 90.25,252.81 89.5,255.42 88.75,257.77 88,259.68 87.25,261.52 86.5,262.76 85.75,262.55 85,260.85 84.25,258.66 83.5,257.06 82.75,256.65 82,256.28 81.25,255.71 80.5,254.41 79.75,252.98 79,252.11 78.25,251.18 77.5,250.2 76.75,249.34 76,248.61 75.25,247.95 74.5,247.34 73.75,246.85 73,246.58 72.25,246.3 71.5,245.75 70.75,245.19 70,244.58 69.25,243.89 68.5,243.1"/>
<polygon fill="#ff0000" fill-opacity="0.14" points="68.5,186 69.25,189.24 70,192.22 70.75,194.82 71.5,197.13 72.25,199.24 73,201.24 73.75,203.19 74.5,205.16 75.25,207.14 76,209.1 76.75,211.02 77.5,212.9 78.25,214.71 79,216.44 79.75,218.13 80.5,219.86 81.25,221.53 82,223.02 82.75,224.2 83.5,225.06 84.25,225.85 85,226.38 85.75,226.43 86.5,225.47 87.25,223.7 88,221.5 88.75,218.13 89.5,213.13 90.25,207.26 91,200.85 91.75,193.12 92.5,184.67 93.25,176.15 94,167.16 94.75,157.93 95.5,149 96.25,140.4 97,131.99 97.75,124.02 98.5,116.54 99.25,109.29 100,102.73 100.75,97.29 101.5,92.36 102.25,88.15 103,85.25 103.75,83.26 104.5,81.83 105.25,81.55 106,82.24 106.75,83.5 107.5,85.65 108.25,89.73 109,94.29 109.75,99.58 110.5,105.31 111.25,110.81 112,116.41 112.75,121.83 113.5,126.5 114.25,130.41 115,133.89 115.75,136.87 116.5,139.36 117.25,141.51 118,143.38 118.75,145.03 119.5,146.47 120.25,147.78 121,149.01 121.75,150.25 122.5,151.47 123.25,152.63 124,153.75 124.75,154.88 125.5,156.03 126.25,157.24 127,158.54 127.75,159.99 128.5,161.63 129.25,163.38 130,165.18 130.75,166.91 131.5,168.51 132.25,169.98 133,171.49 133.75,172.94 134.5,174.17 135.25,175.06 136,175.57 136.75,176 137.5,176.32 138.25,176.49 139,176.36 139.75,175.7 140.5,174.72 141.25,173.6 142,172.01 142.75,169.84 143.5,166.9 144.25,162.66 145,157.59 145.75,152.13 146.5,145.86 147.25,138.86 148,131.5 148.75,123.65 149.5,115.26 150.25,106.77 151,98.36 151.75,89.71 152.5,81.44 153.25,74.17 154,67.27 154.75,61.11 155.5,56.5 156.25,52.93 157,49.71 157.75,47.39 158.5,46.5 159.25,47.19 160,48.87 160.75,51.1 161.5,55.03 162.25,59.91 163,64.73 163.75,69.92 164.5,75.25 165.25,80.72 166,86.27 166.75,91.5 167.5,96.34 168.25,100.94 169,105.19 169.75,109.02 170.5,112.59 171.25,115.82 172,118.65 172.75,121.17 173.5,123.49 174.25,125.64 175,127.68 175.75,129.66 176.5,131.67 177.25,133.64 178,135.43 178.75,136.95 179.5,138.08 180.25,138.9 181,139.55 181.75,140.18 182.5,140.9 183.25,141.86 184,143.18 184.75,144.75 185.5,146.42 186.25,148.03 187,149.45 187.75,150.75 188.5,151.99 189.25,153.21 190,154.43 190.75,155.69 191.5,157.24 192.25,158.89 193,160.34 193.75,161.29 194.5,161.49 195.25,161.41 196,161.24 196.75,161 197.5,160.35 198.25,159.03 199,157.2 199.75,154.32 200.5,149.04 201.25,142.83 202,137.22 202.75,131.72 203.5,126.32 204.25,121.5 205,117.36 205.75,113.6 206.5,110.12 207.25,106.81 208,103.68 208.75,100.78 209.5,98.14 210.25,95.61 211,93.31 211.75,91.5 212.5,89.95 213.25,88.59 214,87.81 214.75,87.94 215.5,88.84 216.25,90.25 217,93.9 217.75,99.64 218.5,105.21 219.25,111.21 220,117.43 220.75,123.51 221.5,129.63 222.25,135.7 223,141.5 223.75,147.11 224.5,152.53 225.25,157.5 226,161.84 226.75,165.79 227.5,169.35 228.25,172.5 229,175.22 229.75,177.72 230.5,180.25 231.25,182.84 232,185.42 232.75,188.08 233.5,190.91 234.25,193.92 235,196.98 235.75,200.01 236.5,203.16 237.25,206.24 238,209 238.75,211.35 239.5,213.45 240.25,215.43 241,217.4 241.75,219.5 242.5,221.86 243.25,224.49 244,227.21 244.75,229.81 245.5,232.09 246.25,234.05 247,236.08 247.75,237.96 248.5,239.42 249.25,240.19 250,240.06 250.75,239.15 251.5,237.68 252.25,235.69 253,231.34 253.75,225.28 254.5,219 255.25,212.46 256,205.32 256.75,198.52 257.5,192.7 258.25,187.25 259,182.12 259.75,177.32 260.5,172.89 261.25,168.77 262,164.8 262.75,161.08 263.5,157.72 264.25,154.83 265,152.34 265.75,149.85 266.5,147.69 267.25,146.3 268,146.21 268.75,148.7 269.5,152.21 270.25,154.59 271,155.94 271.75,157.18 272.5,159 273.25,162.91 274,168.76 274.75,174.77 275.5,179.74 276.25,184.52 277,188.92 277.75,192.69 278.5,196.11 279.25,199.12 280,201.5 280.75,203.51 281.5,205.27 282.25,206.36 283,206.62 283.75,206.72 284.5,206.79 285.25,206.89 286,207.14 286.75,208.11 287.5,209.39 288.25,210.25 289,210.58 289.75,210.78 290.5,210.95 291.25,211.16 292,211.5 292.75,212.36 293.5,213.87 294.25,215.7 295,217.52 295.75,219 296.5,220.2 297.25,221.35 298,222.4 298.75,223.31 299.5,224 300.25,224.57 301,225.12 301.75,225.57 302.5,225.88 303.25,226 304,225.79 304.75,225.2 305.5,224.34 306.25,222.75 307,219.24 307.75,214.66 308.5,209.88 309.25,204.28 310,197.96 310.75,191.5 311.5,184.86 312.25,177.94 313,171.15 313.75,164.76 314.5,158.5 315.25,152.6 316,147.28 316.75,142.16 317.5,137.55 318.25,134 319,131.14 319.75,128.49 320.5,126.42 321.25,125.33 322,125.62 322.75,127.29 323.5,129.74 324.25,132.46 325,136.26 325.75,140.95 326.5,145.89 327.25,150.5 328,155.2 328.75,159.83 329.5,164 330.25,167.76 331,171.31 331.75,174.46 332.5,177 333.25,178.91 334,180.47 334.75,181.9 335.5,183.43 336.25,185.27 337,187.39 337.75,189.59 338.5,191.69 339.25,193.5 340,194.98 340.75,196.48 341.5,197.85 342.25,198.91 343,199.46 343.75,199.5 344.5,199.5 345.25,199.5 346,199.58 346.75,200.69 347.5,202.72 348.25,205.19 349,207.63 349.75,209.61 350.5,211.52 351.25,213.42 352,215.23 352.75,216.84 353.5,218.18 354.25,219.51 355,220.74 355.75,221.65 356.5,222 357.25,221.74 358,221.05 358.75,220.09 359.5,219 360.25,217.7 361,215.78 361.75,212.61 362.5,204.83 363.25,194.19 364,184 364.75,174.91 365.5,165.71 366.25,156.91 367,149 367.75,141.83 368.5,135.09 369.25,129.05 370,124 370.75,119.7 371.5,115.82 372.25,112.47 373,109.75 373.75,107.54 374.5,105.71 375.25,105.29 376,105.85 376.75,106.97 377.5,108.48 378.25,110.25 379,113.14 379.75,117.51 380.5,122.41 381.25,127.34 382,132.95 382.75,138.82 383.5,144.42 384.25,149.33 385,154.21 385.75,158.79 386.5,162.43 387.25,164.53 388,165.68 388.75,166.58 389.5,167.75 390.25,169.52 391,171.75 391.75,174.22 392.5,176.71 393.25,179 394,181.08 394.75,183.08 395.5,185.06 396.25,187.02 397,189 397.75,190.96 398.5,192.89 399.25,194.84 400,196.86 400.75,199 401.5,201.39 402.25,204.01 403,206.68 403.75,209.24 404.5,211.5 405.25,213.56 406,215.56 406.75,217.4 407.5,219 408.25,220.25 409,221.31 409.75,222.33 410.5,223.18 411.25,223.78 412,224 412.75,223.85 413.5,223.42 414.25,222.74 415,221.81 415.75,220.67 416.5,218.54 417.25,213.69 418,207.71 418.75,202.28 419.5,196.88 420.25,191.46 421,186.5 421.75,182.06 422.5,177.88 423.25,173.92 424,170.14 424.75,166.5 425.5,162.89 426.25,159.33 427,155.94 427.75,152.87 428.5,150.25 429.25,147.75 430,145.32 430.75,143.48 431.5,142.75 432.25,143.76 433,146.21 433.75,149.25 434.5,152.44 435.25,156.45 436,161.04 436.75,165.85 437.5,170.62 438.25,176.1 439,181.99 439.75,187.52 440.5,191.99 441.25,194.74 442,196.61 442.75,198.12 443.5,199.4 444.25,200.63 445,201.96 445.75,203.39 446.5,204.8 447.25,206.11 448,207.19 448.75,207.97 449.5,208.51 450.25,208.91 451,209.31 451.75,209.81 452.5,210.53 453.25,211.71 454,213.25 454.75,214.97 455.5,216.69 456.25,218.25 457,219.75 457.75,221.25 458.5,222.75 459.25,224.25 460,225.77 460.75,227.49 461.5,229.29 462.25,230.93 463,232.21 463.75,232.94 464.5,233.47 465.25,233.85 466,234 466.75,233.81 467.5,233.29 468.25,232.5 469,231.5 469.75,229.5 470.5,226.06 471.25,221.77 472,216.61 472.75,209.51 473.5,201.6 474.25,194.03 475,186.33 475.75,178.63 476.5,171.5 477.25,164.99 478,158.88 478.75,153.25 479.5,148.04 480.25,143 481,138.68 481.75,135.59 482.5,132.89 483.25,130.41 484,128.38 484.75,127.01 485.5,126.5 486.25,127.17 487,128.91 487.75,131.32 488.5,134 489.25,137.66 490,142.54 490.75,147.51 491.5,151.84 492.25,156.06 493,160.19 493.75,164.14 494.5,167.84 495.25,171.26 496,174.54 496.75,177.65 497.5,180.54 498.25,183.18 499,185.54 499.75,187.68 500.5,189.65 501.25,191.53 502,193.38 502.75,195.23 503.5,197 504.25,198.73 505,200.45 505.75,202.17 506.5,203.92 507.25,205.67 508,207.42 508.75,209.17 509.5,210.92 510.25,212.7 511,214.59 511.75,216.48 512.5,218.26 513.25,219.81 514,221.07 514.75,222.22 515.5,223.26 516.25,224.18 517,225 517.75,225.76 518.5,226.53 519.25,227.21 520,227.65 520.75,227.7 521.5,227.08 522.25,225.99 523,224.75 523.75,223.68 524.5,222.82 525.25,221.81 526,220.25 526.75,215.23 527.5,206.3 528.25,196.75 529,188.72 529.75,180.64 530.5,173.18 531.25,167.17 532,162.17 532.75,157.82 533.5,154 534.25,150.5 535,147.34 535.75,144.72 536.5,142.64 537.25,140.6 538,138.73 538.75,137.18 539.5,136.14 540.25,135.75 541,136.36 541.75,137.91 542.5,140.01 543.25,142.32 544,145.61 544.75,149.69 545.5,154 546.25,158.65 547,163.74 547.75,168.72 548.5,173.15 549.25,177.27 550,181.29 550.75,185.4 551.5,189.82 552.25,194.11 553,197.75 553.75,200.8 554.5,203.59 555.25,205.96 556,207.75 556.75,209.04 557.5,210.08 558.25,210.97 559,211.82 559.75,212.75 560.5,213.73 561.25,214.7 562,215.67 562.75,216.68 563.5,217.75 564.25,218.91 565,220.15 565.75,221.43 566.5,222.73 567.25,224 568,225.31 568.75,226.69 569.5,228.03 570.25,229.25 571,230.25 571.75,231.12 572.5,231.96 573.25,232.7 574,233.24 574.75,233.5 575.5,233.58 576.25,233.51 577,232.36 577.75,230.59 578.5,228.8 579.25,226.65 580,224 580.75,220.38 581.5,215.78 582.25,210.79 583,206 583.75,201.22 584.5,196.25 585.25,191.66 586,188 586.75,185.33 587.5,183.14 588.25,181.13 589,179 589.75,176.6 590.5,174.14 591.25,171.9 592,170 592.75,168.07 593.5,166.45 594.25,165.63 595,165.95 595.75,167.15 596.5,168.82 597.25,170.63 598,173.05 598.75,175.97 599.5,179.28 600.25,183.19 601,187 601.75,190.47 602.5,193.84 603.25,197.04 604,200 604.75,202.74 605.5,205.3 606.25,207.72 607,210 607.75,212.19 608.5,214.29 609.25,216.24 610,218 610.75,219.7 611.5,221.34 612.25,222.72 613,223.6 613.75,224.07 614.5,224.4 615.25,224.68 616,225 616.75,225.34 617.5,225.71 618.25,226.18 619,226.85 619.75,227.64 620.5,228.48 621.25,229.25 622,230 622.75,230.75 623.5,231.5 624.25,232.27 625,233.24 625.75,234.14 626.5,234.59 626.65,234.6 626.65,279.4 626.5,279.4 625.75,279.34 625,279.08 624.25,278.5 623.5,277.58 622.75,276.71 622,275.58 621.25,274.23 620.5,272.87 619.75,271.68 619,270.31 618.25,268.98 617.5,268.18 616.75,267.9 616,267.8 615.25,267.57 614.5,266.96 613.75,266.02 613,264.9 612.25,263.94 611.5,263.16 610.75,262.04 610,260.55 609.25,258.91 608.5,257.35 607.75,255.65 607,253.77 606.25,251.75 605.5,249.66 604.75,247.43 604,245.1 603.25,242.77 602.5,240.38 601.75,237.67 601,234.91 600.25,232.7 599.5,231.04 598.75,229.04 598,226.95 597.25,224.38 596.5,221.58 595.75,219.83 595,218.05 594.25,216.52 593.5,215.8 592.75,215.3 592,215.03 591.25,215.12 590.5,215.98 589.75,217.38 589,219 588.25,220.8 587.5,222.93 586.75,225.35 586,228 585.25,231 584.5,234.39 583.75,238.1 583,242 582.25,246.07 581.5,250.39 580.75,255.01 580,260 579.25,266.03 578.5,271.78 577.75,274.57 577,275.94 576.25,277 575.5,277.6 574.75,277 574,276.16 573.25,275.16 572.5,274.04 571.75,272.88 571,271.75 570.25,270.64 569.5,269.54 568.75,268.46 568,267.44 567.25,266.5 566.5,265.68 565.75,264.97 565,264.28 564.25,263.57 563.5,262.75 562.75,261.86 562,260.94 561.25,259.96 560.5,258.91 559.75,257.75 559,256.49 558.25,255.13 557.5,253.66 556.75,252.04 556,250.25 555.25,248.28 554.5,246.13 553.75,243.77 553,241.21 552.25,238.89 551.5,236.2 550.75,232.65 550,229.03 549.25,226.45 548.5,224.58 547.75,223.21 547,222.25 546.25,221.22 545.5,219.8 544.75,218.31 544,216.67 543.25,214.38 542.5,211.85 541.75,209.92 541,207.55 540.25,205.38 539.5,204.43 538.75,204.29 538,204.54 537.25,205.1 536.5,205.88 535.75,206.89 535,208.78 534.25,211.32 533.5,214 532.75,216.77 532,219.8 531.25,222.95 530.5,226 529.75,228.84 529,231.79 528.25,235.1 527.5,238.03 526.75,241.69 526,247.75 525.25,256.34 524.5,264.8 523.75,270.6 523,272.51 522.25,273.52 521.5,274.05 520.75,274.24 520,274.09 519.25,273.38 518.5,272.29 517.75,271.05 517,269.85 516.25,268.5 515.5,266.96 514.75,265.35 514,263.76 513.25,262.28 512.5,261 511.75,259.83 511,258.68 510.25,257.43 509.5,255.99 508.75,254.36 508,252.6 507.25,250.77 506.5,248.94 505.75,247.16 505,245.39 504.25,243.6 503.5,241.83 502.75,240.11 502,238.47 501.25,236.96 500.5,235.54 499.75,234.11 499,232.6 498.25,230.92 497.5,229.04 496.75,227.04 496,224.96 495.25,222.87 494.5,220.82 493.75,218.78 493,216.74 492.25,214.73 491.5,212.77 490.75,210.89 490,209.16 489.25,207.26 488.5,204.82 487.75,202.67 487,200.43 486.25,198.39 485.5,197.5 484.75,197.45 484,197.3 483.25,197.09 482.5,196.82 481.75,197.05 481,198.81 480.25,200.61 479.5,202.28 478.75,205.2 478,209 477.25,213.01 476.5,217.51 475.75,222.48 475,227.43 474.25,232.81 473.5,239.27 472.75,245.12 472,250.4 471.25,257.45 470.5,264.15 469.75,268.5 469,271.91 468.25,275.37 467.5,277.03 466.75,276.55 466,275.71 465.25,274.88 464.5,274.11 463.75,272.78 463,271.01 462.25,269.41 461.5,268.1 460.75,267.09 460,265.99 459.25,264.57 458.5,263.02 457.75,261.39 457,259.63 456.25,257.41 455.5,255.01 454.75,252.92 454,251.4 453.25,250.62 452.5,250.17 451.75,249.58 451,248.84 450.25,247.79 449.5,246.28 448.75,244.13 448,241.71 447.25,239.43 446.5,237.55 445.75,236.3 445,235.58 444.25,234.83 443.5,233.6 442.75,231.73 442,229.49 441.25,227.21 440.5,225.49 439.75,224.98 439,225 438.25,224.74 437.5,222.85 436.75,219.68 436,216.96 435.25,214.42 434.5,211.75 433.75,209.57 433,207.49 432.25,206.13 431.5,206.31 430.75,206.36 430,206.01 429.25,205.55 428.5,205.25 427.75,205.51 427,206.45 426.25,207.87 425.5,209.62 424.75,211.5 424,213.64 423.25,216.26 422.5,219.3 421.75,222.73 421,226.5 420.25,231.06 419.5,236.48 418.75,242.16 418,248.04 417.25,254.74 416.5,260.46 415.75,263.45 415,265.31 414.25,266.58 413.5,267 412.75,266.36 412,264.85 411.25,262.91 410.5,260.9 409.75,259.04 409,257.37 408.25,255.29 407.5,253.01 406.75,250.83 406,248.76 405.25,246.72 404.5,244.42 403.75,242.09 403,239.96 402.25,238 401.5,236.06 400.75,233.79 400,231.27 399.25,228.76 398.5,226.44 397.75,224.52 397,223 396.25,221.68 395.5,220.31 394.75,218.7 394,216.57 393.25,213.78 392.5,210.97 391.75,208.69 391,207.26 390.25,206.86 389.5,206.8 388.75,206.45 388,205.66 387.25,204.48 386.5,202.6 385.75,199.35 385,195.37 384.25,191.43 383.5,187.97 382.75,184.51 382,181.19 381.25,178.21 380.5,175.75 379.75,173.86 379,172.16 378.25,170.25 377.5,167.9 376.75,165.77 376,164.81 375.25,165.48 374.5,166.33 373.75,166.45 373,166.66 372.25,168.12 371.5,170.62 370.75,173.59 370,176.5 369.25,179.24 368.5,182.17 367.75,185.38 367,189 366.25,193.33 365.5,198.37 364.75,203.71 364,209 363.25,213.43 362.5,217.73 361.75,223.77 361,232.78 360.25,242.2 359.5,249 358.75,253.35 358,256.84 357.25,258.58 356.5,258.08 355.75,256.6 355,254.95 354.25,253.67 353.5,252.18 352.75,250.32 352,248.51 351.25,246.85 350.5,245.34 349.75,243.58 349,241.76 348.25,240.5 347.5,239.65 346.75,238.99 346,238 345.25,236.29 344.5,234.54 343.75,232.56 343,230.15 342.25,227.61 341.5,225.12 340.75,222.71 340,220.43 339.25,218.33 338.5,216.55 337.75,215.04 337,213.69 336.25,212.39 335.5,211.06 334.75,209.89 334,208.79 333.25,207.56 332.5,206 331.75,203.68 331,200.62 330.25,197.25 329.5,194 328.75,190.99 328,188.02 327.25,185.02 326.5,181.78 325.75,178.1 325,174.62 324.25,172.04 323.5,170.65 322.75,169.57 322,168.9 321.25,168.77 320.5,169.01 319.75,169.55 319,170.37 318.25,171.5 317.5,173.96 316.75,178.04 316,182.58 315.25,186.79 314.5,191.19 313.75,195.81 313,200.63 312.25,205.68 311.5,210.97 310.75,216.5 310,222.3 309.25,228.32 308.5,234.45 307.75,240.77 307,247.37 306.25,253.34 305.5,257.86 304.75,261.79 304,264.8 303.25,266 302.5,265.93 301.75,265.78 301,265.61 300.25,265.38 299.5,264.8 298.75,264.01 298,263.17 297.25,262.31 296.5,261.28 295.75,259.64 295,257.88 294.25,256.36 293.5,255.07 292.75,253.81 292,251.93 291.25,249.62 290.5,247.38 289.75,245.36 289,243.74 288.25,242.47 287.5,241.89 286.75,241.79 286,241.36 285.25,240.17 284.5,238.97 283.75,237.75 283,236.39 282.25,234.85 281.5,233.48 280.75,231.74 280,229.53 279.25,227.28 278.5,224.77 277.75,221.93 277,219.08 276.25,216.46 275.5,213.69 274.75,210.85 274,208.74 273.25,205.84 272.5,201.36 271.75,196.17 271,191.61 270.25,187.66 269.5,184.26 268.75,181.31 268,179.63 267.25,179.54 266.5,179.78 265.75,180.23 265,180.91 264.25,181.9 263.5,183.93 262.75,186.9 262,190.43 261.25,194.13 260.5,197.66 259.75,201.27 259,205.12 258.25,209.19 257.5,213.5 256.75,218.07 256,223.17 255.25,228.59 254.5,234 253.75,239.5 253,245.04 252.25,250.05 251.5,254.34 250.75,258.35 250,261.13 249.25,261.68 248.5,260.72 247.75,258.92 247,256.64 246.25,254.24 245.5,252.04 244.75,249.82 244,247.44 243.25,244.89 242.5,242.17 241.75,239.25 241,236.03 240.25,232.56 239.5,228.95 238.75,225.27 238,221.62 237.25,218.29 236.5,215.33 235.75,212.36 235,209.33 234.25,206.58 233.5,204.16 232.75,201.81 232,199.32 231.25,196.73 230.5,194.27 229.75,191.56 229,188.28 228.25,184.71 227.5,181.05 226.75,177.21 226,172.94 225.25,168.25 224.5,163.69 223.75,159.24 223,154.34 222.25,149.39 221.5,144.87 220.75,140.46 220,136.03 219.25,131.79 218.5,126.28 217.75,120.85 217,119.83 216.25,118.79 215.5,118.16 214.75,119.5 214,120.73 213.25,121.4 212.5,121.78 211.75,122.78 211,124.03 210.25,125 209.5,126.12 208.75,127.61 208,129.32 207.25,131.37 206.5,133.93 205.75,137.04 205,140.8 204.25,145.46 203.5,150.19 202.75,154.63 202,160.12 201.25,165.62 200.5,168.96 199.75,171.93 199,176.56 198.25,180.27 197.5,182.12 196.75,184.01 196,185.41 195.25,185.51 194.5,184.31 193.75,182.45 193,180.83 192.25,179.66 191.5,179.04 190.75,178.38 190,177.37 189.25,176.25 188.5,175.1 187.75,173.94 187,172.72 186.25,171.54 185.5,170.58 184.75,169.79 184,169.11 183.25,168.49 182.5,167.68 181.75,166.57 181,165.1 180.25,163.16 179.5,160.6 178.75,157.74 178,154.9 177.25,152.25 176.5,149.92 175.75,147.71 175,145.4 174.25,142.97 173.5,140.38 172.75,137.57 172,134.45 171.25,131.17 170.5,127.91 169.75,124.53 169,120.91 168.25,117.26 167.5,113.51 166.75,109.34 166,105.32 165.25,101.76 164.5,97.99 163.75,94.17 163,90.77 162.25,87.03 161.5,83.58 160.75,80.94 160,78.95 159.25,77.24 158.5,76.5 157.75,76.9 157,77.98 156.25,79.58 155.5,81.5 154.75,84.6 154,89.28 153.25,94.68 152.5,100.43 151.75,107.19 151,114.36 150.25,121.25 149.5,127.99 148.75,134.73 148,141.5 147.25,148.57 146.5,155.71 145.75,162.15 145,167.41 144.25,172.18 143.5,176.7 142.75,181.09 142,184.93 141.25,188.81 140.5,191.79 139.75,192.71 139,193.14 138.25,193.74 137.5,194.18 136.75,193.88 136,192.7 135.25,191.03 134.5,189.57 133.75,188.47 133,187.09 132.25,185.46 131.5,183.66 130.75,182.09 130,180.85 129.25,179.67 128.5,178.49 127.75,177.31 127,176.09 126.25,174.82 125.5,173.53 124.75,172.28 124,171.1 123.25,170.06 122.5,169.26 121.75,168.82 121,168.5 120.25,168.05 119.5,167.32 118.75,166.1 118,164.26 117.25,162 116.5,159.54 115.75,156.59 115,153.37 114.25,150.09 113.5,146.46 112.75,142.76 112,139.48 111.25,136.34 110.5,132.76 109.75,129.36 109,125.63 108.25,120.4 107.5,117.35 106.75,115.45 106,113.89 105.25,114.06 104.5,115.23 103.75,116.47 103,117.75 102.25,119.59 101.5,122.25 100.75,125.4 100,128.9 99.25,133.12 98.5,137.98 97.75,143.38 97,149.75 96.25,156.8 95.5,164 94.75,171.35 94,178.96 93.25,186.54 92.5,193.92 91.75,201.28 91,208.36 90.25,214.89 89.5,221.35 88.75,227.2 88,231.5 87.25,234.7 86.5,237.39 85.75,238.89 85,238.82 84.25,238.01 83.5,236.83 82.75,235.56 82,233.93 81.25,231.92 80.5,229.71 79.75,227.45 79,225.29 78.25,223.13 77.5,220.92 76.75,218.68 76,216.4 75.25,214.09 74.5,211.78 73.75,209.46 73,207.17 72.25,204.84 71.5,202.44 70.75,199.89 70,197.14 69.25,194.15 68.5,191"/>
<polyline fill="none" stroke="#00e000" stroke-width="1" points="68.5,234.1 69.25,234.38 70,234.82 70.75,235.38 71.5,236.04 72.25,236.75 73,237.76 73.75,238.79 74.5,239.69 75.25,240.57 76,241.56 76.75,242.76 77.5,244.14 78.25,245.56 79,246.99 79.75,248.59 80.5,249.64 81.25,249.89 82,250.02 82.75,250.22 83.5,250.98 84.25,252.25 85,253.58 85.75,254.52 86.5,254.57 87.25,253.4 88,251.66 88.75,249.8 89.5,247.45 90.25,244.82 91,242.18 91.75,239.85 92.5,237 93.25,232.59 94,219.52 94.75,213.48 95.5,210.05 96.25,207.54 97,205.51 97.75,203.49 98.5,201.22 99.25,198.98 100,196.88 100.75,194.95 101.5,193.25 102.25,191.74 103,190.18 103.75,188.74 104.5,187.63 105.25,187.04 106,187.31 106.75,188.37 107.5,189 108.25,188.7 109,188.02 109.75,186.73 110.5,184.63 111.25,184.49 112,188.99 112.75,191.21 113.5,191.76 114.25,192.17 115,192.47 115.75,192.66 116.5,192.74 117.25,192.74 118,192.69 118.75,192.61 119.5,192.49 120.25,192.35 121,192.18 121.75,192 122.5,191.62 123.25,190.98 124,190.29 124.75,189.73 125.5,189.5 126.25,189.83 127,190.66 127.75,191.77 128.5,192.96 129.25,194 130,195.02 130.75,196.18 131.5,197.31 132.25,198.27 133,198.87 133.75,198.98 134.5,198.72 135.25,198.24 136,197.65 136.75,197.03 137.5,196.5 138.25,196.09 139,195.72 139.75,195.35 140.5,194.94 141.25,194.42 142,193.74 142.75,192.61 143.5,191.1 144.25,189.39 145,187.62 145.75,185.95 146.5,184.19 147.25,182.34 148,180.5 148.75,178.78 149.5,177.26 150.25,175.79 151,174.38 151.75,173.11 152.5,172.05 153.25,171.28 154,170.73 154.75,170.31 155.5,169.91 156.25,169.42 157,168.7 157.75,167.34 158.5,165.91 159.25,165.25 160,166.49 160.75,168.56 161.5,169.59 162.25,170.32 163,170.91 163.75,171.43 164.5,171.95 165.25,172.53 166,173.22 166.75,173.98 167.5,174.77 168.25,175.54 169,176.27 169.75,176.95 170.5,177.62 171.25,178.27 172,178.86 172.75,179.36 173.5,179.78 174.25,180.19 175,180.59 175.75,180.95 176.5,181.24 177.25,181.43 178,181.5 178.75,181.45 179.5,181.32 180.25,181.18 181,181.05 181.75,181 182.5,181 183.25,181 184,181 184.75,181 185.5,181 186.25,181.44 187,182.46 187.75,183.65 188.5,184.82 189.25,186.29 190,187.47 190.75,187.67 191.5,186.69 192.25,185.21 193,184 193.75,183.32 194.5,182.8 195.25,182.25 196,181.5 196.75,180.3 197.5,178.64 198.25,176.7 199,174.67 199.75,172.53 200.5,169.97 201.25,167.36 202,165.1 202.75,163.55 203.5,162.24 204.25,161.12 205,160.41 205.75,160.28 206.5,160.76 207.25,161.64 208,162.75 208.75,164.7 209.5,167.62 210.25,170.63 211,173.08 211.75,175.3 212.5,177.46 213.25,179.64 214,181.94 214.75,184.46 215.5,187.18 216.25,190.01 217,192.86 217.75,195.62 218.5,198.24 219.25,200.8 220,203.32 220.75,205.79 221.5,208.21 222.25,210.58 223,212.94 223.75,215.26 224.5,217.48 225.25,219.58 226,221.54 226.75,223.38 227.5,225.13 228.25,226.82 229,228.46 229.75,230.06 230.5,231.59 231.25,233.07 232,234.53 232.75,236 233.5,237.5 234.25,239 235,240.5 235.75,242 236.5,243.5 237.25,244.94 238,246.21 238.75,247.48 239.5,248.94 240.25,250.77 241,253.82 241.75,258.08 242.5,260.23 243.25,261.7 244,262.87 244.75,263.88 245.5,264.89 246.25,265.98 247,267.05 247.75,268.07 248.5,269.04 249.25,269.96 250,270.86 250.75,271.84 251.5,272.84 252.25,273.76 253,274.53 253.75,275.06 254.5,275.25 255.25,274.46 256,272.67 256.75,270.76 257.5,269.33 258.25,267.96 259,266.65 259.75,265.42 260.5,264.33 261.25,263.39 262,262.56 262.75,261.81 263.5,261.1 264.25,260.42 265,259.72 265.75,259 266.5,258.24 267.25,257.47 268,256.71 268.75,255.97 269.5,255.25 270.25,254.52 271,253.75 271.75,253.03 272.5,252.42 273.25,252 274,251.7 274.75,251.43 275.5,251.21 276.25,251.06 277,251 277.75,251.05 278.5,251.18 279.25,251.32 280,251.45 280.75,251.5 281.5,251.38 282.25,251.07 283,250.65 283.75,250.2 284.5,249.81 285.25,249.56 286,249.53 286.75,249.85 287.5,250.4 288.25,250.98 289,251.4 289.75,251.49 290.5,251.37 291.25,251.13 292,250.82 292.75,250.48 293.5,250.13 294.25,249.7 295,249.19 295.75,248.65 296.5,248.1 297.25,247.58 298,247.08 298.75,246.58 299.5,246.08 300.25,245.58 301,245.09 301.75,244.63 302.5,244.18 303.25,243.71 304,243.17 304.75,242.52 305.5,241.68 306.25,240.7 307,239.62 307.75,238.5 308.5,237.37 309.25,236.15 310,234.84 310.75,233.53 311.5,232.27 312.25,231.11 313,229.83 313.75,228.51 314.5,227.38 315.25,226.66 316,226.52 316.75,226.72 317.5,227.06 318.25,227.43 319,227.69 319.75,227.71 320.5,227.14 321.25,226.16 322,225.1 322.75,224.27 323.5,223.94 324.25,223.79 325,223.66 325.75,223.56 326.5,223.51 327.25,223.55 328,224.22 328.75,225.34 329.5,226.5 330.25,227.61 331,228.85 331.75,230.15 332.5,231.47 333.25,232.75 334,234 334.75,235.25 335.5,236.5 336.25,237.75 337,239 337.75,240.27 338.5,241.57 339.25,242.85 340,244.09 340.75,245.25 341.5,246.34 342.25,247.4 343,248.41 343.75,249.36 344.5,250.25 345.25,251.09 346,251.9 346.75,252.66 347.5,253.36 348.25,254 349,254.57 349.75,255.1 350.5,255.59 351.25,256.05 352,256.5 352.75,256.99 353.5,257.52 354.25,258.01 355,258.36 355.75,258.5 356.5,258.41 357.25,258.16 358,257.82 358.75,257.41 359.5,257 360.25,256.58 361,256.11 361.75,255.54 362.5,254.85 363.25,254 364,252.62 364.75,250.63 365.5,248.45 366.25,246.26 367,243.77 367.75,241.45 368.5,239.74 369.25,238.21 370,236.99 370.75,236.5 371.5,236.77 372.25,237.31 373,237.72 373.75,237.63 374.5,237.1 375.25,236.38 376,235.69 376.75,235.28 377.5,235.35 378.25,235.77 379,236.4 379.75,237.07 380.5,237.62 381.25,237.95 382,238.18 382.75,238.38 383.5,238.6 384.25,238.88 385,239.3 385.75,239.93 386.5,240.71 387.25,241.58 388,242.46 388.75,243.35 389.5,244.31 390.25,245.33 391,246.38 391.75,247.41 392.5,248.42 393.25,249.42 394,250.42 394.75,251.42 395.5,252.42 396.25,253.43 397,254.47 397.75,255.51 398.5,256.52 399.25,257.46 400,258.31 400.75,259.11 401.5,259.87 402.25,260.59 403,261.28 403.75,261.95 404.5,262.62 405.25,263.27 406,263.86 406.75,264.36 407.5,264.77 408.25,265.19 409,265.56 409.75,265.84 410.5,265.99 411.25,265.95 412,265.69 412.75,265.22 413.5,264.58 414.25,263.79 415,262.14 415.75,259.41 416.5,258.71 417.25,258.44 418,258.27 418.75,258.11 419.5,257.86 420.25,257.43 421,256.75 421.75,255.91 422.5,255.04 423.25,254.23 424,253.56 424.75,252.91 425.5,252.28 426.25,251.7 427,251.16 427.75,250.69 428.5,250.24 429.25,249.83 430,249.45 430.75,249.1 431.5,248.81 432.25,248.57 433,248.36 433.75,248.13 434.5,247.86 435.25,247.51 436,247.08 436.75,246.59 437.5,246.04 438.25,245.45 439,244.73 439.75,243.75 440.5,242.95 441.25,242.82 442,243.73 442.75,245.17 443.5,246.5 444.25,247.54 445,248.55 445.75,249.53 446.5,250.51 447.25,251.5 448,252.48 448.75,253.45 449.5,254.42 450.25,255.43 451,256.5 451.75,257.68 452.5,258.97 453.25,260.28 454,261.57 454.75,262.75 455.5,263.84 456.25,264.9 457,265.91 457.75,266.86 458.5,267.75 459.25,268.59 460,269.4 460.75,270.16 461.5,270.86 462.25,271.5 463,272.14 463.75,272.81 464.5,273.41 465.25,273.84 466,274 466.75,273.77 467.5,273.16 468.25,272.29 469,271.28 469.75,270.25 470.5,269.05 471.25,267.54 472,265.89 472.75,264.24 473.5,262.75 474.25,261.45 475,260.23 475.75,259.03 476.5,257.81 477.25,256.5 478,254.91 478.75,253.19 479.5,251.81 480.25,250.99 481,250.28 481.75,249.67 482.5,249.24 483.25,249.02 484,249.06 484.75,249.32 485.5,249.69 486.25,250.03 487,250.23 487.75,250.07 488.5,249.28 489.25,248.19 490,247.16 490.75,246.55 491.5,246.62 492.25,247.15 493,247.87 493.75,248.56 494.5,248.97 495.25,248.94 496,248.68 496.75,248.31 497.5,247.97 498.25,247.77 499,247.78 499.75,247.94 500.5,248.19 501.25,248.51 502,248.88 502.75,249.31 503.5,249.97 504.25,250.78 505,251.65 505.75,252.49 506.5,253.24 507.25,253.96 508,254.68 508.75,255.42 509.5,256.22 510.25,257.09 511,258.02 511.75,259.01 512.5,260.05 513.25,261.13 514,262.28 514.75,263.57 515.5,264.91 516.25,266.21 517,267.4 517.75,268.48 518.5,269.63 519.25,270.66 520,271.35 520.75,271.5 521.5,271.44 522.25,271.31 523,271.14 523.75,270.88 524.5,270.07 525.25,268.72 526,267.03 526.75,265.2 527.5,263.39 528.25,261.29 529,258.94 529.75,256.5 530.5,253.82 531.25,250.97 532,248.44 532.75,246.48 533.5,244.7 534.25,243.32 535,242.56 535.75,242.02 536.5,241.57 537.25,241.23 538,241.04 538.75,241 539.5,241.04 540.25,241.12 541,241.24 541.75,241.39 542.5,241.58 543.25,242.09 544,242.87 544.75,243.79 545.5,244.71 546.25,245.5 547,246.25 547.75,247 548.5,247.75 549.25,248.5 550,249.25 550.75,250.04 551.5,250.84 552.25,251.61 553,252.33 553.75,252.94 554.5,253.43 555.25,253.86 556,254.29 556.75,254.82 557.5,255.51 558.25,256.57 559,257.89 559.75,259.32 560.5,260.69 561.25,261.87 562,262.95 562.75,263.99 563.5,264.98 564.25,265.91 565,266.78 565.75,267.58 566.5,268.32 567.25,269.04 568,269.76 568.75,270.5 569.5,271.31 570.25,272.13 571,272.92 571.75,273.61 572.5,274.18 573.25,274.72 574,275.25 574.75,275.67 575.5,275.94 576.25,275.97 577,275.53 577.75,274.72 578.5,273.71 579.25,272.61 580,271.08 580.75,269.2 581.5,267.23 582.25,265.39 583,263.38 583.75,261.37 584.5,259.72 585.25,258.74 586,258.02 586.75,257.44 587.5,257.08 588.25,257.01 589,257.09 589.75,257.26 590.5,257.46 591.25,257.68 592,257.98 592.75,258.35 593.5,258.75 594.25,259.12 595,259.48 595.75,259.83 596.5,260.2 597.25,260.59 598,261 598.75,261.51 599.5,262.1 600.25,262.64 601,263 601.75,263.18 602.5,263.31 603.25,263.43 604,263.6 604.75,263.85 605.5,264.17 606.25,264.55 607,265 607.75,265.63 608.5,266.44 609.25,267.29 610,268 610.75,268.65 611.5,269.26 612.25,269.59 613,268.3 613.75,265.09 614.5,263.6 615.25,263.82 616,264 616.75,263.81 617.5,263.36 618.25,262.83 619,262.4 619.75,262.06 620.5,261.71 621.25,261.39 622,261.14 622.75,261.01 623.5,261.05 624.25,261.28 625,261.58 625.75,261.86 626.5,262 626.65,262"/>
<polyline fill="none" stroke="#ff0000" stroke-width="1" points="68.5,186 69.25,189.24 70,192.22 70.75,194.82 71.5,197.13 72.25,199.24 73,201.24 73.75,203.19 74.5,205.16 75.25,207.14 76,209.1 76.75,211.02 77.5,212.9 78.25,214.71 79,216.44 79.75,218.13 80.5,219.86 81.25,221.53 82,223.02 82.75,224.2 83.5,225.06 84.25,225.85 85,226.38 85.75,226.43 86.5,225.47 87.25,223.7 88,221.5 88.75,218.13 89.5,213.13 90.25,207.26 91,200.85 91.75,193.12 92.5,184.67 93.25,176.15 94,167.16 94.75,157.93 95.5,149 96.25,140.4 97,131.99 97.75,124.02 98.5,116.54 99.25,109.29 100,102.73 100.75,97.29 101.5,92.36 102.25,88.15 103,85.25 103.75,83.26 104.5,81.83 105.25,81.55 106,82.24 106.75,83.5 107.5,85.65 108.25,89.73 109,94.29 109.75,99.58 110.5,105.31 111.25,110.81 112,116.41 112.75,121.83 113.5,126.5 114.25,130.41 115,133.89 115.75,136.87 116.5,139.36 117.25,141.51 118,143.38 118.75,145.03 119.5,146.47 120.25,147.78 121,149.01 121.75,150.25 122.5,151.47 123.25,152.63 124,153.75 124.75,154.88 125.5,156.03 126.25,157.24 127,158.54 127.75,159.99 128.5,161.63 129.25,163.38 130,165.18 130.75,166.91 131.5,168.51 132.25,169.98 133,171.49 133.75,172.94 134.5,174.17 135.25,175.06 136,175.57 136.75,176 137.5,176.32 138.25,176.49 139,176.36 139.75,175.7 140.5,174.72 141.25,173.6 142,172.01 142.75,169.84 143.5,166.9 144.25,162.66 145,157.59 145.75,152.13 146.5,145.86 147.25,138.86 148,131.5 148.75,123.65 149.5,115.26 150.25,106.77 151,98.36 151.75,89.71 152.5,81.44 153.25,74.17 154,67.27 154.75,61.11 155.5,56.5 156.25,52.93 157,49.71 157.75,47.39 158.5,46.5 159.25,47.19 160,48.87 160.75,51.1 161.5,55.03 162.25,59.91 163,64.73 163.75,69.92 164.5,75.25 165.25,80.72 166,86.27 166.75,91.5 167.5,96.34 168.25,100.94 169,105.19 169.75,109.02 170.5,112.59 171.25,115.82 172,118.65 172.75,121.17 173.5,123.49 174.25,125.64 175,127.68 175.75,129.66 176.5,131.67 177.25,133.64 178,135.43 178.75,136.95 179.5,138.08 180.25,138.9 181,139.55 181.75,140.18 182.5,140.9 183.25,141.86 184,143.18 184.75,144.75 185.5,146.42 186.25,148.03 187,149.45 187.75,150.75 188.5,151.99 189.25,153.21 190,154.43 190.75,155.69 191.5,157.24 192.25,158.89 193,160.34 193.75,161.29 194.5,161.49 195.25,161.41 196,161.24 196.75,161 197.5,160.35 198.25,159.03 199,157.2 199.75,154.32 200.5,149.04 201.25,142.83 202,137.22 202.75,131.72 203.5,126.32 204.25,121.5 205,117.36 205.75,113.6 206.5,110.12 207.25,106.81 208,103.68 208.75,100.78 209.5,98.14 210.25,95.61 211,93.31 211.75,91.5 212.5,89.95 213.25,88.59 214,87.81 214.75,87.94 215.5,88.84 216.25,90.25 217,93.9 217.75,99.64 218.5,105.21 219.25,111.21 220,117.43 220.75,123.51 221.5,129.63 222.25,135.7 223,141.5 223.75,147.11 224.5,152.53 225.25,157.5 226,161.84 226.75,165.79 227.5,169.35 228.25,172.5 229,175.22 229.75,177.72 230.5,180.25 231.25,182.84 232,185.42 232.75,188.08 233.5,190.91 234.25,193.92 235,196.98 235.75,200.01 236.5,203.16 237.25,206.24 238,209 238.75,211.35 239.5,213.45 240.25,215.43 241,217.4 241.75,219.5 242.5,221.86 243.25,224.49 244,227.21 244.75,229.81 245.5,232.09 246.25,234.05 247,236.08 247.75,237.96 248.5,239.42 249.25,240.19 250,240.06 250.75,239.15 251.5,237.68 252.25,235.69 253,231.34 253.75,225.28 254.5,219 255.25,212.46 256,205.32 256.75,198.52 257.5,192.7 258.25,187.25 259,182.12 259.75,177.32 260.5,172.89 261.25,168.77 262,164.8 262.75,161.08 263.5,157.72 264.25,154.83 265,152.34 265.75,149.85 266.5,147.69 267.25,146.3 268,146.21 268.75,148.7 269.5,152.21 270.25,154.59 271,155.94 271.75,157.18 272.5,159 273.25,162.91 274,168.76 274.75,174.77 275.5,179.74 276.25,184.52 277,188.92 277.75,192.69 278.5,196.11 279.25,199.12 280,201.5 280.75,203.51 281.5,205.27 282.25,206.36 283,206.62 283.75,206.72 284.5,206.79 285.25,206.89 286,207.14 286.75,208.11 287.5,209.39 288.25,210.25 289,210.58 289.75,210.78 290.5,210.95 291.25,211.16 292,211.5 292.75,212.36 293.5,213.87 294.25,215.7 295,217.52 295.75,219 296.5,220.2 297.25,221.35 298,222.4 298.75,223.31 299.5,224 300.25,224.57 301,225.12 301.75,225.57 302.5,225.88 303.25,226 304,225.79 304.75,225.2 305.5,224.34 306.25,222.75 307,219.24 307.75,214.66 308.5,209.88 309.25,204.28 310,197.96 310.75,191.5 311.5,184.86 312.25,177.94 313,171.15 313.75,164.76 314.5,158.5 315.25,152.6 316,147.28 316.75,142.16 317.5,137.55 318.25,134 319,131.14 319.75,128.49 320.5,126.42 321.25,125.33 322,125.62 322.75,127.29 323.5,129.74 324.25,132.46 325,136.26 325.75,140.95 326.5,145.89 327.25,150.5 328,155.2 328.75,159.83 329.5,164 330.25,167.76 331,171.31 331.75,174.46 332.5,177 333.25,178.91 334,180.47 334.75,181.9 335.5,183.43 336.25,185.27 337,187.39 337.75,189.59 338.5,191.69 339.25,193.5 340,194.98 340.75,196.48 341.5,197.85 342.25,198.91 343,199.46 343.75,199.5 344.5,199.5 345.25,199.5 346,199.58 346.75,200.69 347.5,202.72 348.25,205.19 349,207.63 349.75,209.61 350.5,211.52 351.25,213.42 352,215.23 352.75,216.84 353.5,218.18 354.25,219.51 355,220.74 355.75,221.65 356.5,222 357.25,221.74 358,221.05 358.75,220.09 359.5,219 360.25,217.7 361,215.78 361.75,212.61 362.5,204.83 363.25,194.19 364,184 364.75,174.91 365.5,165.71 366.25,156.91 367,149 367.75,141.83 368.5,135.09 369.25,129.05 370,124 370.75,119.7 371.5,115.82 372.25,112.47 373,109.75 373.75,107.54 374.5,105.71 375.25,105.29 376,105.85 376.75,106.97 377.5,108.48 378.25,110.25 379,113.14 379.75,117.51 380.5,122.41 381.25,127.34 382,132.95 382.75,138.82 383.5,144.42 384.25,149.33 385,154.21 385.75,158.79 386.5,162.43 387.25,164.53 388,165.68 388.75,166.58 389.5,167.75 390.25,169.52 391,171.75 391.75,174.22 392.5,176.71 393.25,179 394,181.08 394.75,183.08 395.5,185.06 396.25,187.02 397,189 397.75,190.96 398.5,192.89 399.25,194.84 400,196.86 400.75,199 401.5,201.39 402.25,204.01 403,206.68 403.75,209.24 404.5,211.5 405.25,213.56 406,215.56 406.75,217.4 407.5,219 408.25,220.25 409,221.31 409.75,222.33 410.5,223.18 411.25,223.78 412,224 412.75,223.85 413.5,223.42 414.25,222.74 415,221.81 415.75,220.67 416.5,218.54 417.25,213.69 418,207.71 418.75,202.28 419.5,196.88 420.25,191.46 421,186.5 421.75,182.06 422.5,177.88 423.25,173.92 424,170.14 424.75,166.5 425.5,162.89 426.25,159.33 427,155.94 427.75,152.87 428.5,150.25 429.25,147.75 430,145.32 430.75,143.48 431.5,142.75 432.25,143.76 433,146.21 433.75,149.25 434.5,152.44 435.25,156.45 436,161.04 436.75,165.85 437.5,170.62 438.25,176.1 439,181.99 439.75,187.52 440.5,191.99 441.25,194.74 442,196.61 442.75,198.12 443.5,199.4 444.25,200.63 445,201.96 445.75,203.39 446.5,204.8 447.25,206.11 448,207.19 448.75,207.97 449.5,208.51 450.25,208.91 451,209.31 451.75,209.81 452.5,210.53 453.25,211.71 454,213.25 454.75,214.97 455.5,216.69 456.25,218.25 457,219.75 457.75,221.25 458.5,222.75 459.25,224.25 460,225.77 460.75,227.49 461.5,229.29 462.25,230.93 463,232.21 463.75,232.94 464.5,233.47 465.25,233.85 466,234 466.75,233.81 467.5,233.29 468.25,232.5 469,231.5 469.75,229.5 470.5,226.06 471.25,221.77 472,216.61 472.75,209.51 473.5,201.6 474.25,194.03 475,186.33 475.75,178.63 476.5,171.5 477.25,164.99 478,158.88 478.75,153.25 479.5,148.04 480.25,143 481,138.68 481.75,135.59 482.5,132.89 483.25,130.41 484,128.38 484.75,127.01 485.5,126.5 486.25,127.17 487,128.91 487.75,131.32 488.5,134 489.25,137.66 490,142.54 490.75,147.51 491.5,151.84 492.25,156.06 493,160.19 493.75,164.14 494.5,167.84 495.25,171.26 496,174.54 496.75,177.65 497.5,180.54 498.25,183.18 499,185.54 499.75,187.68 500.5,189.65 501.25,191.53 502,193.38 502.75,195.23 503.5,197 504.25,198.73 505,200.45 505.75,202.17 506.5,203.92 507.25,205.67 508,207.42 508.75,209.17 509.5,210.92 510.25,212.7 511,214.59 511.75,216.48 512.5,218.26 513.25,219.81 514,221.07 514.75,222.22 515.5,223.26 516.25,224.18 517,225 517.75,225.76 518.5,226.53 519.25,227.21 520,227.65 520.75,227.7 521.5,227.08 522.25,225.99 523,224.75 523.75,223.68 524.5,222.82 525.25,221.81 526,220.25 526.75,215.23 527.5,206.3 528.25,196.75 529,188.72 529.75,180.64 530.5,173.18 531.25,167.17 532,162.17 532.75,157.82 533.5,154 534.25,150.5 535,147.34 535.75,144.72 536.5,142.64 537.25,140.6 538,138.73 538.75,137.18 539.5,136.14 540.25,135.75 541,136.36 541.75,137.91 542.5,140.01 543.25,142.32 544,145.61 544.75,149.69 545.5,154 546.25,158.65 547,163.74 547.75,168.72 548.5,173.15 549.25,177.27 550,181.29 550.75,185.4 551.5,189.82 552.25,194.11 553,197.75 553.75,200.8 554.5,203.59 555.25,205.96 556,207.75 556.75,209.04 557.5,210.08 558.25,210.97 559,211.82 559.75,212.75 560.5,213.73 561.25,214.7 562,215.67 562.75,216.68 563.5,217.75 564.25,218.91 565,220.15 565.75,221.43 566.5,222.73 567.25,224 568,225.31 568.75,226.69 569.5,228.03 570.25,229.25 571,230.25 571.75,231.12 572.5,231.96 573.25,232.7 574,233.24 574.75,233.5 575.5,233.58 576.25,233.51 577,232.36 577.75,230.59 578.5,228.8 579.25,226.65 580,224 580.75,220.38 581.5,215.78 582.25,210.79 583,206 583.75,201.22 584.5,196.25 585.25,191.66 586,188 586.75,185.33 587.5,183.14 588.25,181.13 589,179 589.75,176.6 590.5,174.14 591.25,171.9 592,170 592.75,168.07 593.5,166.45 594.25,165.63 595,165.95 595.75,167.15 596.5,168.82 597.25,170.63 598,173.05 598.75,175.97 599.5,179.28 600.25,183.19 601,187 601.75,190.47 602.5,193.84 603.25,197.04 604,200 604.75,202.74 605.5,205.3 606.25,207.72 607,210 607.75,212.19 608.5,214.29 609.25,216.24 610,218 610.75,219.7 611.5,221.34 612.25,222.72 613,223.6 613.75,224.07 614.5,224.4 615.25,224.68 616,225 616.75,225.34 617.5,225.71 618.25,226.18 619,226.85 619.75,227.64 620.5,228.48 621.25,229.25 622,230 622.75,230.75 623.5,231.5 624.25,232.27 625,233.24 625.75,234.14 626.5,234.59 626.65,234.6"/>
<polyline fill="none" stroke="#00ee00" stroke-width="1.8" stroke-linejoin="round" points="68.5,238.6 69.25,239.14 70,239.7 70.75,240.28 71.5,240.89 72.25,241.53 73,242.17 73.75,242.82 74.5,243.51 75.25,244.26 76,245.08 76.75,246.05 77.5,247.17 78.25,248.37 79,249.55 79.75,250.79 80.5,252.03 81.25,252.8 82,253.15 82.75,253.44 83.5,254.02 84.25,255.46 85,257.21 85.75,258.53 86.5,258.67 87.25,257.46 88,255.67 88.75,253.78 89.5,251.44 90.25,248.81 91,246.1 91.75,243.17 92.5,240.06 93.25,236.89 94,233.7 94.75,230.44 95.5,227.04 96.25,223.37 97,219.46 97.75,215.77 98.5,212.14 99.25,208.44 100,204.92 100.75,201.88 101.5,199.56 102.25,198 103,196.59 103.75,195.37 104.5,194.48 105.25,194.03 106,194.21 106.75,195 107.5,195.79 108.25,195.94 109,195.3 109.75,194.43 110.5,194 111.25,194.68 112,196.14 112.75,197.48 113.5,198.15 114.25,198.72 115,199.2 115.75,199.56 116.5,199.74 117.25,199.74 118,199.68 118.75,199.59 119.5,199.46 120.25,199.32 121,199.16 121.75,199 122.5,198.77 123.25,198.45 124,198.11 124.75,197.85 125.5,197.75 126.25,198.14 127,199.13 127.75,200.42 128.5,201.73 129.25,202.75 130,203.58 130.75,204.44 131.5,205.27 132.25,206.01 133,206.58 133.75,206.93 134.5,206.97 135.25,206.6 136,205.93 136.75,205.13 137.5,204.39 138.25,203.85 139,203.47 139.75,203.15 140.5,202.81 141.25,202.38 142,201.75 142.75,200.57 143.5,198.95 144.25,197.08 145,195.18 145.75,193.43 146.5,191.65 147.25,189.8 148,187.98 148.75,186.28 149.5,184.76 150.25,183.27 151,181.82 151.75,180.53 152.5,179.49 153.25,178.81 154,178.33 154.75,177.96 155.5,177.63 156.25,177.28 157,176.83 157.75,176.16 158.5,175.53 159.25,175.25 160,175.51 160.75,176.11 161.5,176.8 162.25,177.39 163,178.01 163.75,178.66 164.5,179.33 165.25,180.02 166,180.72 166.75,181.46 167.5,182.22 168.25,182.99 169,183.75 169.75,184.52 170.5,185.34 171.25,186.16 172,186.92 172.75,187.57 173.5,188.07 174.25,188.48 175,188.84 175.75,189.17 176.5,189.5 177.25,189.85 178,190.25 178.75,190.75 179.5,191.33 180.25,191.91 181,192.41 181.75,192.75 182.5,192.93 183.25,193.05 184,193.16 184.75,193.29 185.5,193.5 186.25,193.96 187,194.72 187.75,195.67 188.5,196.95 189.25,198.92 190,200.59 190.75,200.93 191.5,200.1 192.25,198.83 193,197.75 193.75,197.12 194.5,196.63 195.25,196.07 196,195.25 196.75,193.38 197.5,190.66 198.25,188.27 199,186.09 199.75,183.95 200.5,181.93 201.25,180.09 202,178.47 202.75,176.77 203.5,175.17 204.25,173.97 205,173.5 205.75,173.5 206.5,173.5 207.25,173.63 208,175.17 208.75,177.54 209.5,179.63 210.25,181.54 211,183.48 211.75,185.47 212.5,187.55 213.25,189.75 214,192.13 214.75,194.65 215.5,197.23 216.25,199.81 217,202.34 217.75,204.91 218.5,207.49 219.25,210.04 220,212.47 220.75,214.73 221.5,216.86 222.25,218.89 223,220.85 223.75,222.75 224.5,224.62 225.25,226.45 226,228.24 226.75,229.98 227.5,231.66 228.25,233.28 229,234.83 229.75,236.33 230.5,237.79 231.25,239.26 232,240.75 232.75,242.29 233.5,243.83 234.25,245.35 235,246.82 235.75,248.19 236.5,249.32 237.25,250.35 238,251.46 238.75,252.84 239.5,254.78 240.25,258.42 241,262.9 241.75,266.81 242.5,269.28 243.25,271.28 244,273.01 244.75,274.55 245.5,276.02 246.25,277.48 247,278.94 247.75,280.31 248.5,281.52 249.25,282.49 250,283.23 250.75,283.93 251.5,284.54 252.25,285 253,285.23 253.75,285.07 254.5,284.27 255.25,283.07 256,281.74 256.75,280.56 257.5,279.66 258.25,278.76 259,277.89 259.75,277.16 260.5,276.62 261.25,276.32 262,276.12 262.75,275.97 263.5,275.85 264.25,275.71 265,275.52 265.75,275.25 266.5,274.68 267.25,273.73 268,272.57 268.75,271.36 269.5,270.25 270.25,269.15 271,267.96 271.75,266.82 272.5,265.87 273.25,265.25 274,264.86 274.75,264.52 275.5,264.25 276.25,264.07 277,264 277.75,264.21 278.5,264.7 279.25,265.3 280,265.79 280.75,266 281.5,266 282.25,266 283,266 283.75,266 284.5,266 285.25,266.12 286,266.42 286.75,266.84 287.5,267.3 288.25,267.75 289,268.24 289.75,268.82 290.5,269.4 291.25,269.91 292,270.25 292.75,270.48 293.5,270.68 294.25,270.85 295,270.96 295.75,271 296.5,270.68 297.25,270.03 298,269.54 298.75,269.54 299.5,269.69 300.25,269.91 301,270.12 301.75,270.24 302.5,270.09 303.25,269.37 304,268.24 304.75,266.92 305.5,265.64 306.25,264.49 307,263.31 307.75,262.07 308.5,260.78 309.25,259.45 310,258.07 310.75,256.6 311.5,255.08 312.25,253.54 313,252 313.75,250.36 314.5,248.46 315.25,246.94 316,246.44 316.75,246.31 317.5,246.24 318.25,246.17 319,246.09 319.75,245.93 320.5,245.61 321.25,245.17 322,244.69 322.75,244.24 323.5,243.89 324.25,243.56 325,243.23 325.75,242.96 326.5,242.79 327.25,242.82 328,243.66 328.75,245.07 329.5,246.5 330.25,247.9 331,249.48 331.75,251.11 332.5,252.66 333.25,254 334,255.11 334.75,256.09 335.5,257.02 336.25,257.96 337,259 337.75,260.18 338.5,261.47 339.25,262.78 340,264.07 340.75,265.25 341.5,266.32 342.25,267.33 343,268.3 343.75,269.27 344.5,270.25 345.25,271.27 346,272.32 346.75,273.35 347.5,274.34 348.25,275.25 349,276.11 349.75,276.94 350.5,277.72 351.25,278.41 352,279 352.75,279.52 353.5,280 354.25,280.43 355,280.77 355.75,281 356.5,281.15 357.25,281.29 358,281.4 358.75,281.47 359.5,281.5 360.25,281.38 361,281.03 361.75,280.5 362.5,279.81 363.25,279 364,277.43 364.75,274.95 365.5,272.29 366.25,269.98 367,267.66 367.75,265.41 368.5,263.29 369.25,261.02 370,258.98 370.75,257.75 371.5,257.17 372.25,256.74 373,256.52 373.75,256.5 374.5,256.5 375.25,256.5 376,256.5 376.75,256.5 377.5,256.48 378.25,256.37 379,256.23 379.75,256.09 380.5,256.01 381.25,256.01 382,256.07 382.75,256.16 383.5,256.29 384.25,256.45 385,256.65 385.75,257.01 386.5,257.5 387.25,258.09 388,258.76 388.75,259.58 389.5,260.74 390.25,262.11 391,263.54 391.75,264.86 392.5,265.97 393.25,267 394,267.98 394.75,268.95 395.5,269.92 396.25,270.93 397,271.97 397.75,273.01 398.5,274.02 399.25,274.96 400,275.81 400.75,276.61 401.5,277.37 402.25,278.09 403,278.78 403.75,279.46 404.5,280.18 405.25,280.88 406,281.48 406.75,281.91 407.5,282.16 408.25,282.37 409,282.55 409.75,282.68 410.5,282.75 411.25,282.57 412,281.78 412.75,280.69 413.5,279.66 414.25,279.05 415,279 415.75,279 416.5,278.92 417.25,278.55 418,277.99 418.75,277.33 419.5,276.69 420.25,276.13 421,275.55 421.75,274.95 422.5,274.33 423.25,273.71 424,273.05 424.75,272.29 425.5,271.51 426.25,270.83 427,270.35 427.75,270.11 428.5,269.95 429.25,269.84 430,269.72 430.75,269.57 431.5,269.34 432.25,269.04 433,268.69 433.75,268.3 434.5,267.89 435.25,267.48 436,267.07 436.75,266.63 437.5,266.11 438.25,265.49 439,264.49 439.75,262.82 440.5,261.36 441.25,261.05 442,261.72 442.75,262.84 443.5,264 444.25,265.09 445,266.29 445.75,267.57 446.5,268.89 447.25,270.25 448,271.71 448.75,273.3 449.5,274.9 450.25,276.42 451,277.75 451.75,278.9 452.5,279.96 453.25,280.95 454,281.87 454.75,282.75 455.5,283.59 456.25,284.4 457,285.16 457.75,285.86 458.5,286.5 459.25,287.02 460,287.44 460.75,287.85 461.5,288.34 462.25,289 463,290.42 463.75,292.39 464.5,293.83 465.25,294.12 466,294.28 466.75,294.39 467.5,294.46 468.25,294.5 469,294.42 469.75,294.04 470.5,293.42 471.25,292.64 472,291.79 472.75,290.82 473.5,289.48 474.25,287.87 475,286.17 475.75,284.51 476.5,282.96 477.25,281.31 478,279.67 478.75,278.14 479.5,276.85 480.25,275.82 481,274.79 481.75,273.86 482.5,273.15 483.25,272.78 484,272.77 484.75,272.85 485.5,273 486.25,273.19 487,273.42 487.75,273.79 488.5,274.48 489.25,275.09 490,275.11 490.75,273.49 491.5,271.33 492.25,270.25 493,270.44 493.75,270.88 494.5,271.36 495.25,271.79 496,272.28 496.75,272.66 497.5,272.68 498.25,271.87 499,270.79 499.75,270.25 500.5,270.5 501.25,271.16 502,272.06 502.75,273.06 503.5,274 504.25,274.93 505,275.97 505.75,277.03 506.5,278.07 507.25,279 508,279.8 508.75,280.53 509.5,281.22 510.25,281.95 511,282.75 511.75,283.64 512.5,284.59 513.25,285.6 514,286.66 514.75,287.75 515.5,289.02 516.25,290.49 517,291.94 517.75,293.18 518.5,294 519.25,294.53 520,295.01 520.75,295.4 521.5,295.66 522.25,295.75 523,295.69 523.75,295.53 524.5,295.27 525.25,294.92 526,294.5 526.75,293.49 527.5,291.7 528.25,289.65 529,287.68 529.75,285.53 530.5,283.17 531.25,280.57 532,277.27 532.75,273.92 533.5,271.5 534.25,269.95 535,268.68 535.75,267.88 536.5,267.57 537.25,267.35 538,267.18 538.75,267.06 539.5,267 540.25,267.05 541,267.31 541.75,267.72 542.5,268.24 543.25,268.81 544,269.48 544.75,270.47 545.5,271.64 546.25,272.79 547,273.75 547.75,274.43 548.5,275.02 549.25,275.54 550,276 550.75,276.39 551.5,276.71 552.25,276.98 553,277.22 553.75,277.44 554.5,277.67 555.25,277.9 556,278.09 556.75,278.29 557.5,278.53 558.25,278.86 559,279.62 559.75,281.52 560.5,284.03 561.25,286.58 562,288.57 562.75,289.68 563.5,290.56 564.25,291.3 565,291.95 565.75,292.55 566.5,293.13 567.25,293.62 568,294.08 568.75,294.54 569.5,295.06 570.25,295.69 571,296.46 571.75,297.28 572.5,298.09 573.25,298.8 574,299.4 574.75,300.02 575.5,300.56 576.25,300.92 577,300.94 577.75,300.14 578.5,298.86 579.25,297.59 580,296.25 580.75,294.75 581.5,293.13 582.25,291.39 583,289.18 583.75,286.84 584.5,284.86 585.25,283.69 586,282.83 586.75,282.13 587.5,281.69 588.25,281.62 589,281.9 589.75,282.35 590.5,282.8 591.25,283.07 592,283.25 592.75,283.4 593.5,283.53 594.25,283.63 595,283.7 595.75,283.75 596.5,283.8 597.25,283.88 598,284 598.75,284.99 599.5,286.98 600.25,288.99 601,290 601.75,290.15 602.5,290.23 603.25,290.31 604,290.4 604.75,290.52 605.5,290.64 606.25,290.79 607,291 607.75,291.42 608.5,292.1 609.25,292.88 610,293.6 610.75,294.36 611.5,295.15 612.25,295.59 613,294.17 613.75,290.64 614.5,289.01 615.25,289.55 616,290 616.75,289.87 617.5,289.56 618.25,289.22 619,289 619.75,288.88 620.5,288.78 621.25,288.69 622,288.63 622.75,288.6 623.5,288.67 624.25,288.99 625,289.42 625.75,289.8 626.5,290 626.65,290"/>
<polyline fill="none" stroke="#ff0000" stroke-width="1.8" stroke-linejoin="round" points="68.5,188.5 69.25,191.69 70,194.68 70.75,197.36 71.5,199.78 72.25,202.04 73,204.2 73.75,206.32 74.5,208.47 75.25,210.62 76,212.75 76.75,214.85 77.5,216.91 78.25,218.92 79,220.87 79.75,222.79 80.5,224.79 81.25,226.73 82,228.47 82.75,229.88 83.5,230.95 84.25,231.93 85,232.6 85.75,232.66 86.5,231.43 87.25,229.2 88,226.5 88.75,222.66 89.5,217.24 90.25,211.07 91,204.6 91.75,197.2 92.5,189.29 93.25,181.34 94,173.06 94.75,164.64 95.5,156.5 96.25,148.6 97,140.87 97.75,133.7 98.5,127.26 99.25,121.2 100,115.81 100.75,111.35 101.5,107.31 102.25,103.87 103,101.5 103.75,99.86 104.5,98.53 105.25,97.8 106,98.07 106.75,99.48 107.5,101.5 108.25,105.06 109,109.96 109.75,114.47 110.5,119.03 111.25,123.57 112,127.94 112.75,132.29 113.5,136.48 114.25,140.25 115,143.63 115.75,146.73 116.5,149.45 117.25,151.75 118,153.82 118.75,155.56 119.5,156.9 120.25,157.92 121,158.76 121.75,159.54 122.5,160.37 123.25,161.35 124,162.43 124.75,163.58 125.5,164.78 126.25,166.03 127,167.31 127.75,168.65 128.5,170.06 129.25,171.53 130,173.01 130.75,174.5 131.5,176.09 132.25,177.72 133,179.29 133.75,180.7 134.5,181.87 135.25,183.04 136,184.13 136.75,184.94 137.5,185.25 138.25,185.12 139,184.75 139.75,184.21 140.5,183.26 141.25,181.21 142,178.47 142.75,175.47 143.5,171.8 144.25,167.42 145,162.5 145.75,157.14 146.5,150.79 147.25,143.72 148,136.5 148.75,129.19 149.5,121.63 150.25,114.01 151,106.36 151.75,98.45 152.5,90.94 153.25,84.43 154,78.27 154.75,72.86 155.5,69 156.25,66.25 157,63.85 157.75,62.15 158.5,61.5 159.25,62.22 160,63.91 160.75,66.02 161.5,69.31 162.25,73.47 163,77.75 163.75,82.05 164.5,86.62 165.25,91.24 166,95.79 166.75,100.42 167.5,104.92 168.25,109.1 169,113.05 169.75,116.78 170.5,120.25 171.25,123.5 172,126.55 172.75,129.37 173.5,131.93 174.25,134.31 175,136.54 175.75,138.69 176.5,140.8 177.25,142.94 178,145.17 178.75,147.34 179.5,149.34 180.25,151.03 181,152.33 181.75,153.37 182.5,154.29 183.25,155.17 184,156.14 184.75,157.27 185.5,158.5 186.25,159.79 187,161.08 187.75,162.35 188.5,163.55 189.25,164.73 190,165.9 190.75,167.04 191.5,168.14 192.25,169.28 193,170.59 193.75,171.87 194.5,172.9 195.25,173.46 196,173.32 196.75,172.51 197.5,171.23 198.25,169.65 199,166.88 199.75,163.13 200.5,159 201.25,154.22 202,148.67 202.75,143.18 203.5,138.26 204.25,133.48 205,129.08 205.75,125.32 206.5,122.03 207.25,119.09 208,116.5 208.75,114.2 209.5,112.13 210.25,110.3 211,108.67 211.75,107.14 212.5,105.87 213.25,105 214,104.27 214.75,103.72 215.5,103.5 216.25,104.52 217,106.86 217.75,110.25 218.5,115.74 219.25,121.5 220,126.73 220.75,131.98 221.5,137.25 222.25,142.54 223,147.92 223.75,153.17 224.5,158.11 225.25,162.87 226,167.39 226.75,171.5 227.5,175.2 228.25,178.61 229,181.75 229.75,184.64 230.5,187.26 231.25,189.78 232,192.37 232.75,194.94 233.5,197.54 234.25,200.25 235,203.15 235.75,206.19 236.5,209.24 237.25,212.27 238,215.31 238.75,218.31 239.5,221.2 240.25,223.99 241,226.72 241.75,229.38 242.5,232.01 243.25,234.69 244,237.32 244.75,239.81 245.5,242.07 246.25,244.15 247,246.36 247.75,248.44 248.5,250.07 249.25,250.94 250,250.59 250.75,248.75 251.5,246.01 252.25,242.87 253,238.19 253.75,232.39 254.5,226.5 255.25,220.53 256,214.24 256.75,208.29 257.5,203.1 258.25,198.22 259,193.62 259.75,189.3 260.5,185.27 261.25,181.45 262,177.62 262.75,173.99 263.5,170.82 264.25,168.37 265,166.63 265.75,165.04 266.5,163.74 267.25,162.92 268,162.92 268.75,165.01 269.5,168.23 270.25,171.13 271,173.78 271.75,176.68 272.5,180.18 273.25,184.37 274,188.75 274.75,192.81 275.5,196.72 276.25,200.49 277,204 277.75,207.31 278.5,210.44 279.25,213.2 280,215.52 280.75,217.63 281.5,219.38 282.25,220.6 283,221.5 283.75,222.23 284.5,222.88 285.25,223.53 286,224.25 286.75,224.95 287.5,225.64 288.25,226.36 289,227.16 289.75,228.07 290.5,229.16 291.25,230.39 292,231.72 292.75,233.09 293.5,234.47 294.25,236.03 295,237.7 295.75,239.32 296.5,240.74 297.25,241.83 298,242.79 298.75,243.66 299.5,244.4 300.25,244.98 301,245.36 301.75,245.67 302.5,245.91 303.25,246 304,245.29 304.75,243.5 305.5,241.1 306.25,238.05 307,233.3 307.75,227.71 308.5,222.17 309.25,216.3 310,210.13 310.75,204 311.5,197.92 312.25,191.81 313,185.89 313.75,180.28 314.5,174.84 315.25,169.69 316,164.93 316.75,160.1 317.5,155.76 318.25,152.75 319,150.76 319.75,149.02 320.5,147.71 321.25,147.05 322,147.26 322.75,148.43 323.5,150.2 324.25,152.25 325,155.44 325.75,159.52 326.5,163.83 327.25,167.76 328,171.61 328.75,175.41 329.5,179 330.25,182.5 331,185.97 331.75,189.07 332.5,191.5 333.25,193.24 334,194.63 334.75,195.89 335.5,197.24 336.25,198.83 337,200.54 337.75,202.32 338.5,204.12 339.25,205.91 340,207.7 340.75,209.59 341.5,211.48 342.25,213.26 343,214.81 343.75,216.03 344.5,217.02 345.25,217.89 346,218.79 346.75,219.84 347.5,221.18 348.25,222.84 349,224.69 349.75,226.6 350.5,228.43 351.25,230.13 352,231.87 352.75,233.58 353.5,235.18 354.25,236.59 355,237.85 355.75,239.12 356.5,240.04 357.25,240.16 358,238.95 358.75,236.72 359.5,234 360.25,229.95 361,224.28 361.75,218.19 362.5,211.28 363.25,203.81 364,196.5 364.75,189.31 365.5,182.04 366.25,175.12 367,169 367.75,163.61 368.5,158.63 369.25,154.15 370,150.25 370.75,146.65 371.5,143.22 372.25,140.3 373,138.21 373.75,136.99 374.5,136.02 375.25,135.39 376,135.33 376.75,136.37 377.5,138.19 378.25,140.25 379,142.65 379.75,145.68 380.5,149.08 381.25,152.77 382,157.07 382.75,161.67 383.5,166.19 384.25,170.38 385,174.79 385.75,179.07 386.5,182.51 387.25,184.5 388,185.67 388.75,186.52 389.5,187.28 390.25,188.19 391,189.5 391.75,191.45 392.5,193.84 393.25,196.39 394,198.82 394.75,200.89 395.5,202.68 396.25,204.35 397,206 397.75,207.74 398.5,209.67 399.25,211.8 400,214.06 400.75,216.4 401.5,218.73 402.25,221.01 403,223.32 403.75,225.66 404.5,227.96 405.25,230.14 406,232.16 406.75,234.11 407.5,236.01 408.25,237.77 409,239.34 409.75,240.68 410.5,242.04 411.25,243.35 412,244.43 412.75,245.11 413.5,245.21 414.25,244.66 415,243.56 415.75,242.06 416.5,239.5 417.25,234.22 418,227.88 418.75,222.22 419.5,216.68 420.25,211.26 421,206.5 421.75,202.39 422.5,198.59 423.25,195.09 424,191.89 424.75,189 425.5,186.25 426.25,183.6 427,181.2 427.75,179.19 428.5,177.75 429.25,176.65 430,175.67 430.75,174.92 431.5,174.53 432.25,174.95 433,176.85 433.75,179.41 434.5,182.09 435.25,185.44 436,189 436.75,192.76 437.5,196.73 438.25,200.42 439,203.49 439.75,206.25 440.5,208.74 441.25,210.97 442,213.05 442.75,214.92 443.5,216.5 444.25,217.73 445,218.77 445.75,219.84 446.5,221.18 447.25,222.77 448,224.45 448.75,226.05 449.5,227.39 450.25,228.35 451,229.07 451.75,229.7 452.5,230.35 453.25,231.17 454,232.33 454.75,233.95 455.5,235.85 456.25,237.83 457,239.69 457.75,241.32 458.5,242.89 459.25,244.41 460,245.88 460.75,247.29 461.5,248.69 462.25,250.17 463,251.61 463.75,252.86 464.5,253.79 465.25,254.37 466,254.86 466.75,255.18 467.5,255.16 468.25,253.93 469,251.7 469.75,249 470.5,245.11 471.25,239.61 472,233.5 472.75,227.32 473.5,220.44 474.25,213.42 475,206.88 475.75,200.56 476.5,194.51 477.25,189 478,183.94 478.75,179.23 479.5,175.16 480.25,171.8 481,168.74 481.75,166.32 482.5,164.86 483.25,163.75 484,162.84 484.75,162.23 485.5,162 486.25,162.78 487,164.67 487.75,166.99 488.5,169.41 489.25,172.46 490,175.85 490.75,179.2 491.5,182.3 492.25,185.4 493,188.47 493.75,191.46 494.5,194.33 495.25,197.06 496,199.75 496.75,202.34 497.5,204.79 498.25,207.05 499,209.07 499.75,210.9 500.5,212.6 501.25,214.25 502,215.92 502.75,217.67 503.5,219.42 504.25,221.17 505,222.92 505.75,224.67 506.5,226.43 507.25,228.22 508,230.01 508.75,231.76 509.5,233.46 510.25,235.07 511,236.64 511.75,238.16 512.5,239.63 513.25,241.04 514,242.41 514.75,243.79 515.5,245.11 516.25,246.34 517,247.43 517.75,248.4 518.5,249.41 519.25,250.3 520,250.87 520.75,250.97 521.5,250.57 522.25,249.76 523,248.63 523.75,247.14 524.5,243.81 525.25,239.07 526,234 526.75,228.46 527.5,222.16 528.25,215.93 529,210.26 529.75,204.74 530.5,199.59 531.25,195.06 532,190.99 532.75,187.29 533.5,184 534.25,180.91 535,178.06 535.75,175.81 536.5,174.26 537.25,172.85 538,171.63 538.75,170.74 539.5,170.28 540.25,170.57 541,171.95 541.75,173.92 542.5,175.93 543.25,178.35 544,181.14 544.75,184 545.5,186.9 546.25,189.94 547,192.99 547.75,195.96 548.5,198.86 549.25,201.86 550,205.16 550.75,209.03 551.5,213.01 552.25,216.5 553,219.48 553.75,222.29 554.5,224.86 555.25,227.12 556,229 556.75,230.54 557.5,231.87 558.25,233.05 559,234.16 559.75,235.25 560.5,236.32 561.25,237.33 562,238.3 562.75,239.27 563.5,240.25 564.25,241.24 565,242.22 565.75,243.2 566.5,244.21 567.25,245.25 568,246.38 568.75,247.58 569.5,248.79 570.25,249.95 571,251 571.75,252 572.5,253 573.25,253.93 574,254.7 574.75,255.25 575.5,255.59 576.25,255.25 577,254.15 577.75,252.58 578.5,250.29 579.25,246.34 580,242 580.75,237.69 581.5,233.08 582.25,228.43 583,224 583.75,219.66 584.5,215.32 585.25,211.33 586,208 586.75,205.34 587.5,203.04 588.25,200.96 589,199 589.75,196.99 590.5,195.06 591.25,193.51 592,192.51 592.75,191.68 593.5,191.12 594.25,191.07 595,192 595.75,193.49 596.5,195.2 597.25,197.51 598,200 598.75,202.51 599.5,205.16 600.25,207.95 601,210.95 601.75,214.07 602.5,217.11 603.25,219.9 604,222.55 604.75,225.08 605.5,227.48 606.25,229.74 607,231.88 607.75,233.92 608.5,235.82 609.25,237.57 610,239.28 610.75,240.87 611.5,242.25 612.25,243.33 613,244.25 613.75,245.04 614.5,245.68 615.25,246.13 616,246.4 616.75,246.62 617.5,246.94 618.25,247.58 619,248.58 619.75,249.66 620.5,250.67 621.25,251.74 622,252.79 622.75,253.73 623.5,254.54 624.25,255.38 625,256.16 625.75,256.74 626.5,257 626.65,257"/>
<path fill="none" stroke="#ff3030" stroke-width="1" d="M68.5 174.5H86.6M86.6 70H113.8M113.8 130.25H141M141 35.25H168.3M168.3 108.5H195.5M195.5 86H222.7M222.7 152.25H250M250 139.5H277.2M277.2 196.5H304.4M304.4 125H331.6M331.6 180.25H358.9M358.9 108.25H386.1M386.1 183.5H413.3M413.3 149H440.5M440.5 194.5H467.8M467.8 137.75H495M495 192.75H522.2M522.2 143.25H549.4M549.4 200.3H576.7M576.7 167.3H603.9"/>
<path fill="none" stroke="#2020ff" stroke-width="1" d="M68.5 242.25H86.6M86.6 248H113.8M113.8 198.25H141M141 200.5H168.3M168.3 187.25H195.5M195.5 182H222.7M222.7 266.4H250M250 264H277.2M277.2 260.75H304.4M304.4 259H331.6M331.6 253.5H358.9M358.9 253.5H386.1M386.1 264.25H413.3M413.3 264.25H440.5M440.5 270H467.8M467.8 268.25H495M495 268.25H522.2M522.2 260.75H549.4M549.4 268.2H576.7M576.7 271.6H603.9"/>
</g>
<rect x="68.5" y="24.4" width="558.15" height="287.2" fill="none" stroke="#262626" stroke-width="1"/>
<path stroke="#1a1a1a" stroke-width="1" fill="none" d="M63.1 46.5H68.5M63.1 138.05H68.5M63.1 229.6H68.5M68.5 46.5V229.6"/><text transform="translate(56.3 46.5) rotate(-90)" text-anchor="middle" class="s" font-size="7.7">15</text><text transform="translate(56.3 138.05) rotate(-90)" text-anchor="middle" class="s" font-size="7.7">10</text><text transform="translate(56.3 229.6) rotate(-90)" text-anchor="middle" class="s" font-size="7.7">5</text>
<text transform="translate(14.3 168) rotate(-90)" text-anchor="middle" font-size="12.4">temperatures</text><text transform="translate(28.8 168) rotate(-90)" text-anchor="middle" font-size="12.4">[degrees C]</text>
</g>
<g id="p2">
<rect x="68.5" y="313.6" width="4.45" height="142.8" fill="#f2f2f2"/><rect x="127.4" y="313.6" width="54.45" height="142.8" fill="#f2f2f2"/><rect x="236.3" y="313.6" width="54.45" height="142.8" fill="#f2f2f2"/><rect x="345.2" y="313.6" width="54.45" height="142.8" fill="#f2f2f2"/><rect x="454.1" y="313.6" width="54.45" height="142.8" fill="#f2f2f2"/><rect x="563" y="313.6" width="54.45" height="142.8" fill="#f2f2f2"/>
<g stroke-width="0.75" stroke-dasharray="3 3" stroke-linecap="round" fill="none"><path stroke="#b4b4b4" d="M100.18 456.4V313.6M154.62 456.4V313.6M209.07 456.4V313.6M263.53 456.4V313.6M317.98 456.4V313.6M372.43 456.4V313.6M426.88 456.4V313.6M481.32 456.4V313.6M535.78 456.4V313.6M590.23 456.4V313.6"/><path stroke="#666666" d="M127.4 456.4V313.6M181.85 456.4V313.6M236.3 456.4V313.6M290.75 456.4V313.6M345.2 456.4V313.6M399.65 456.4V313.6M454.1 456.4V313.6M508.55 456.4V313.6M563 456.4V313.6M617.45 456.4V313.6"/><path stroke="#6e6e6e" d="M72.95 456.4V313.6"/></g>
<path stroke="#989898" stroke-width="0.75" stroke-dasharray="3 3" stroke-linecap="round" fill="none" d="M68.5 337.4H626.65M68.5 361.2H626.65M68.5 385H626.65M68.5 408.8H626.65M68.5 432.6H626.65"/>
<g clip-path="url(#c2)">
<polygon fill="#828282" fill-opacity="0.216" points="68.5,427.5 69.25,422.29 70,417.66 70.75,413.8 71.5,410.53 72.25,407.65 73,405 73.75,402.48 74.5,400.14 75.25,398.1 76,396.27 76.75,394.53 77.5,393.75 78.25,394.73 79,396.11 79.75,395.78 80.5,393.82 81.25,391.36 82,389.46 82.75,388.02 83.5,386.61 84.25,385 85,382.97 85.75,380.64 86.5,378.26 87.25,376.06 88,373.98 88.75,371.74 89.5,369.03 90.25,365.73 91,361.87 91.75,357.5 92.5,352 93.25,345.53 94,339.31 94.75,334.02 95.5,328.91 96.25,324.59 97,321.64 97.75,319.3 98.5,318.25 99.25,318.78 100,320.12 100.75,322.03 101.5,326.02 102.25,330.97 103,335.53 103.75,340.31 104.5,344.87 105.25,348.75 106,352.75 106.75,356.1 107.5,357.5 108.25,356.43 109,353.89 109.75,350.91 110.5,348.1 111.25,344.82 112,341.43 112.75,338.37 113.5,335.91 114.25,333.72 115,331.71 115.75,329.84 116.5,328.07 117.25,326.35 118,324.66 118.75,323.04 119.5,321.59 120.25,320.35 121,319.36 121.75,318.48 122.5,317.7 123.25,317.02 124,316.43 124.75,315.9 125.5,315.39 126.25,314.93 127,314.56 127.75,314.3 128.5,314.17 129.25,314.05 130,313.95 130.75,313.87 131.5,313.8 132.25,313.76 133,313.75 133.75,313.75 134.5,313.75 135.25,313.75 136,313.75 136.75,313.75 137.5,313.75 138.25,313.75 139,313.75 139.75,313.75 140.5,313.75 141.25,313.75 142,313.76 142.75,313.78 143.5,313.81 144.25,313.84 145,313.88 145.75,313.93 146.5,313.98 147.25,314.08 148,314.35 148.75,314.77 149.5,315.33 150.25,316 151,316.96 151.75,318.65 152.5,320.86 153.25,323.41 154,326.9 154.75,330.99 155.5,335 156.25,338.75 157,342.5 157.75,346.25 158.5,350.14 159.25,354.29 160,358.06 160.75,360.81 161.5,363.13 162.25,365.22 163,366.95 163.75,368.22 164.5,368.94 165.25,369.47 166,369.85 166.75,370 167.5,369.05 168.25,367.47 169,367.1 169.75,368.25 170.5,369.62 171.25,369.89 172,368.57 172.75,366.75 173.5,365.38 174.25,364.15 175,362.94 175.75,361.73 176.5,360.45 177.25,359.1 178,357.74 178.75,356.33 179.5,354.8 180.25,353.11 181,351.15 181.75,348.8 182.5,346.2 183.25,343.5 184,340.85 184.75,338.3 185.5,335.67 186.25,333.04 187,330.52 187.75,328.21 188.5,326.12 189.25,324.06 190,322.12 190.75,320.43 191.5,319.09 192.25,318.12 193,317.21 193.75,316.41 194.5,315.82 195.25,315.52 196,315.5 196.75,315.5 197.5,315.5 198.25,315.5 199,315.5 199.75,315.56 200.5,315.82 201.25,316.25 202,316.77 202.75,317.32 203.5,317.88 204.25,318.56 205,319.37 205.75,320.37 206.5,321.85 207.25,323.53 208,325 208.75,326.16 209.5,327.22 210.25,328.21 211,329.13 211.75,330 212.5,330.94 213.25,331.94 214,332.84 214.75,333.5 215.5,333.75 216.25,333.59 217,333.26 217.75,333.02 218.5,333.06 219.25,333.28 220,333.56 220.75,333.74 221.5,333.59 222.25,332.93 223,332.07 223.75,331.41 224.5,331.27 225.25,331.6 226,332.18 226.75,332.85 227.5,333.46 228.25,333.85 229,334.11 229.75,334.32 230.5,334.52 231.25,334.78 232,335.14 232.75,335.68 233.5,336.39 234.25,337.22 235,338.12 235.75,339.09 236.5,340.33 237.25,341.72 238,343.03 238.75,344.07 239.5,345.09 240.25,346.07 241,346.88 241.75,347.39 242.5,347.49 243.25,347.41 244,347.27 244.75,347.13 245.5,347.02 246.25,347.07 247,347.99 247.75,349.61 248.5,351.46 249.25,353.06 250,353.98 250.75,354.58 251.5,355.07 252.25,355.5 253,355.93 253.75,356.42 254.5,356.92 255.25,357.42 256,357.92 256.75,358.42 257.5,358.92 258.25,359.44 259,359.96 259.75,360.47 260.5,360.95 261.25,361.4 262,361.89 262.75,362.32 263.5,362.5 264.25,362.25 265,361.59 265.75,360.69 266.5,359.69 267.25,358.75 268,357.84 268.75,356.85 269.5,355.82 270.25,354.77 271,353.75 271.75,352.75 272.5,351.74 273.25,350.74 274,349.74 274.75,348.75 275.5,347.56 276.25,346.33 277,345.56 277.75,345.84 278.5,347.27 279.25,349.04 280,350.38 280.75,351.49 281.5,352.52 282.25,353.5 283,354.42 283.75,355.3 284.5,356.27 285.25,357.26 286,358.1 286.75,358.63 287.5,358.75 288.25,358.75 289,358.75 289.75,358.75 290.5,358.21 291.25,357.13 292,356.32 292.75,356.25 293.5,356.25 294.25,356.25 295,356.25 295.75,356.25 296.5,356.37 297.25,356.9 298,357.62 298.75,358.31 299.5,358.72 300.25,358.67 301,358.29 301.75,357.71 302.5,357.05 303.25,356.43 304,355.92 304.75,355.42 305.5,354.92 306.25,354.42 307,353.92 307.75,353.38 308.5,352.73 309.25,352.08 310,351.56 310.75,351.27 311.5,351.27 312.25,351.36 313,351.5 313.75,351.7 314.5,351.92 315.25,352.21 316,352.68 316.75,353.29 317.5,354 318.25,354.75 319,355.54 319.75,356.48 320.5,357.52 321.25,358.6 322,359.66 322.75,360.74 323.5,362.04 324.25,363.33 325,364.38 325.75,364.96 326.5,364.97 327.25,364.8 328,364.54 328.75,364.22 329.5,363.87 330.25,363.42 331,362.73 331.75,362.14 332.5,362.03 333.25,362.38 334,363.03 334.75,363.82 335.5,364.58 336.25,365.18 337,365.7 337.75,366.2 338.5,366.68 339.25,367.17 340,367.67 340.75,368.21 341.5,368.76 342.25,369.29 343,369.75 343.75,370.11 344.5,370.37 345.25,370.59 346,370.8 346.75,371.05 347.5,371.37 348.25,371.87 349,372.46 349.75,373.05 350.5,373.54 351.25,373.82 352,373.99 352.75,374.12 353.5,374.24 354.25,374.38 355,374.57 355.75,374.83 356.5,375.15 357.25,375.52 358,375.94 358.75,376.42 359.5,377.07 360.25,377.86 361,378.71 361.75,379.52 362.5,380.23 363.25,380.94 364,381.67 364.75,382.4 365.5,383.09 366.25,383.73 367,384.28 367.75,384.71 368.5,385 369.25,385.21 370,385.4 370.75,385.58 371.5,385.74 372.25,385.89 373,386.01 373.75,386.11 374.5,386.19 375.25,386.23 376,386.25 376.75,386.18 377.5,385.97 378.25,385.64 379,385.2 379.75,384.67 380.5,384.08 381.25,383.42 382,382.72 382.75,381.99 383.5,381.25 384.25,380.24 385,378.96 385.75,377.79 386.5,376.96 387.25,376.17 388,375.62 388.75,375.51 389.5,375.59 390.25,375.75 391,375.94 391.75,376.14 392.5,376.3 393.25,376.49 394,376.69 394.75,376.86 395.5,376.98 396.25,377 397,376.93 397.75,376.81 398.5,376.63 399.25,376.41 400,376.15 400.75,375.71 401.5,375.06 402.25,374.28 403,373.4 403.75,372.5 404.5,371.49 405.25,370.3 406,369 406.75,367.63 407.5,366.25 408.25,364.84 409,363.35 409.75,361.82 410.5,360.27 411.25,358.75 412,357.1 412.75,355.4 413.5,354.05 414.25,353.24 415,352.64 415.75,352.57 416.5,353.42 417.25,354.82 418,356.25 418.75,357.58 419.5,359.01 420.25,360.51 421,362.01 421.75,363.49 422.5,364.99 423.25,366.5 424,368.01 424.75,369.63 425.5,371.33 426.25,373.02 427,374.62 427.75,376.04 428.5,377.19 429.25,378.08 430,378.95 430.75,379.78 431.5,380.55 432.25,381.23 433,381.8 433.75,382.21 434.5,382.45 435.25,382.44 436,381.74 436.75,380.73 437.5,380 438.25,379.66 439,379.4 439.75,379.18 440.5,378.98 441.25,378.75 442,378.46 442.75,378.13 443.5,377.82 444.25,377.59 445,377.5 445.75,377.71 446.5,378.2 447.25,378.8 448,379.29 448.75,379.5 449.5,379.27 450.25,378.69 451,377.9 451.75,377.03 452.5,376.25 453.25,375.47 454,374.61 454.75,373.76 455.5,373.02 456.25,372.5 457,372.18 457.75,371.95 458.5,371.75 459.25,371.53 460,371.25 460.75,370.87 461.5,370.42 462.25,369.9 463,369.34 463.75,368.75 464.5,368.1 465.25,367.36 466,366.57 466.75,365.77 467.5,365 468.25,364.15 469,363.26 469.75,362.61 470.5,362.34 471.25,362.15 472,362.03 472.75,362.05 473.5,362.74 474.25,363.86 475,365 475.75,366.11 476.5,367.32 477.25,368.43 478,369.3 478.75,370.01 479.5,370.71 480.25,371.56 481,372.66 481.75,373.93 482.5,375.26 483.25,376.55 484,377.68 484.75,378.54 485.5,379.12 486.25,379.67 487,380.17 487.75,380.6 488.5,380.95 489.25,381.17 490,381.25 490.75,380.89 491.5,380.04 492.25,379.05 493,378.12 493.75,377.02 494.5,375.85 495.25,374.78 496,373.95 496.75,373.41 497.5,372.91 498.25,372.49 499,372.17 499.75,372.01 500.5,372.17 501.25,372.91 502,373.92 502.75,374.89 503.5,375.46 504.25,375.45 505,375.24 505.75,374.95 506.5,374.68 507.25,374.51 508,374.55 508.75,374.76 509.5,375.05 510.25,375.32 511,375.49 511.75,375.15 512.5,373.74 513.25,372.07 514,370.96 514.75,370.13 515.5,369.38 516.25,368.74 517,368.24 517.75,367.9 518.5,367.61 519.25,367.35 520,367.15 520.75,367.03 521.5,367.04 522.25,367.53 523,368.35 523.75,369.22 524.5,369.85 525.25,370 526,370 526.75,370 527.5,370 528.25,370 529,370.02 529.75,370.25 530.5,370.68 531.25,371.2 532,371.72 532.75,372.12 533.5,372.47 534.25,372.8 535,373.13 535.75,373.49 536.5,373.89 537.25,374.33 538,374.8 538.75,375.3 539.5,375.86 540.25,376.48 541,377.42 541.75,378.34 542.5,378.75 543.25,378.44 544,377.65 544.75,376.63 545.5,375.59 546.25,374.74 547,373.9 547.75,373.06 548.5,372.3 549.25,371.72 550,371.31 550.75,370.99 551.5,370.72 552.25,370.48 553,370.22 553.75,369.94 554.5,369.58 555.25,369.02 556,368.37 556.75,367.81 557.5,367.51 558.25,367.5 559,367.5 559.75,367.5 560.5,367.5 561.25,367.5 562,367.5 562.75,367.5 563.5,367.5 564.25,367.61 565,367.82 565.75,367.99 566.5,367.89 567.25,367.38 568,366.55 568.75,365.53 569.5,364.43 570.25,363.38 571,362.5 571.75,361.67 572.5,360.75 573.25,359.82 574,358.95 574.75,358.23 575.5,357.72 576.25,357.5 577,357.69 577.75,358.21 578.5,358.79 579.25,359.15 580,359.25 580.75,359.31 581.5,359.36 582.25,359.39 583,359.42 583.75,359.45 584.5,359.49 585.25,359.56 586,359.67 586.75,360.51 587.5,362.33 588.25,364.45 589,366.19 589.75,367.07 590.5,367.65 591.25,368.09 592,368.48 592.75,368.87 593.5,369.32 594.25,369.92 595,370.95 595.75,372.42 596.5,373.7 597.25,374.16 598,373.44 598.75,371.95 599.5,370.19 600.25,368.7 601,368 601.75,367.88 602.5,367.77 603.25,367.69 604,367.62 604.75,367.56 605.5,367.53 606.25,367.5 607,367.51 607.75,367.65 608.5,367.93 609.25,368.29 610,368.66 610.75,368.97 611.5,369.15 612.25,369.07 613,368.49 613.75,367.57 614.5,366.54 615.25,365.61 616,365 616.75,364.67 617.5,364.41 618.25,364.19 619,364 619.75,363.79 620.5,363.54 621.25,363.21 622,362.7 622.75,362.05 623.5,361.36 624.25,360.69 625,360.13 625.75,359.76 626.5,359.67 626.65,359.67 626.65,456.4 68.5,456.4"/>
<polygon fill="#828282" fill-opacity="0.216" points="68.5,430 69.25,426.03 70,422.31 70.75,418.89 71.5,415.7 72.25,412.72 73,410 73.75,407.44 74.5,405.04 75.25,403.04 76,401.47 76.75,400 77.5,398.98 78.25,398.79 79,399.19 79.75,399.73 80.5,400 81.25,399.3 82,397.62 82.75,395.63 83.5,393.69 84.25,391.44 85,389.05 85.75,386.74 86.5,384.36 87.25,382.03 88,380 88.75,378.46 89.5,377.14 90.25,375.63 91,373.46 91.75,370.56 92.5,367.25 93.25,363.84 94,359.99 94.75,356.01 95.5,352.5 96.25,349.38 97,346.49 97.75,344.27 98.5,342.85 99.25,341.72 100,341.25 100.75,341.75 101.5,342.96 102.25,344.49 103,346.18 103.75,348.44 104.5,350.92 105.25,353.32 106,356.22 106.75,358.85 107.5,360 108.25,357.54 109,354.1 109.75,355.39 110.5,360.36 111.25,361.81 112,359.67 112.75,356.91 113.5,355.19 114.25,353.69 115,352.34 115.75,351.18 116.5,350.25 117.25,349.58 118,349.12 118.75,348.74 119.5,348.33 120.25,347.75 121,346.72 121.75,344.81 122.5,342.42 123.25,340 124,338 124.75,336.71 125.5,335.79 126.25,335.01 127,334.14 127.75,332.99 128.5,331.04 129.25,327.81 130,324.36 130.75,321.71 131.5,319.32 132.25,317.31 133,316.25 133.75,315.89 134.5,315.64 135.25,315.51 136,315.56 136.75,315.83 137.5,316.25 138.25,316.78 139,317.32 139.75,317.88 140.5,318.54 141.25,319.3 142,320.11 142.75,320.96 143.5,321.83 144.25,322.74 145,323.7 145.75,324.74 146.5,325.86 147.25,327.09 148,328.49 148.75,330 149.5,331.59 150.25,333.21 151,334.86 151.75,336.62 152.5,338.43 153.25,340.23 154,341.96 154.75,343.5 155.5,344.87 156.25,346.34 157,348.19 157.75,350.72 158.5,353.57 159.25,356.25 160,358.58 160.75,360.81 161.5,363.13 162.25,365.49 163,368.44 163.75,370.71 164.5,371.14 165.25,369.93 166,369.85 166.75,370 167.5,369.05 168.25,371.07 169,373.13 169.75,375.2 170.5,376.25 171.25,375.72 172,374.47 172.75,372.97 173.5,371.53 174.25,369.88 175,368.07 175.75,366.19 176.5,364.34 177.25,362.6 178,360.92 178.75,359.24 179.5,357.5 180.25,355.65 181,353.62 181.75,351.41 182.5,349.08 183.25,346.7 184,344.19 184.75,341.6 185.5,339.01 186.25,336.54 187,334.25 187.75,332 188.5,329.8 189.25,327.76 190,325.98 190.75,324.56 191.5,323.34 192.25,322.25 193,321.3 193.75,320.47 194.5,319.77 195.25,319.08 196,318.43 196.75,317.9 197.5,317.57 198.25,317.5 199,317.5 199.75,317.5 200.5,317.5 201.25,317.5 202,317.52 202.75,317.81 203.5,318.37 204.25,319.13 205,320 205.75,321.48 206.5,323.61 207.25,325.69 208,327.23 208.75,328.6 209.5,329.84 210.25,330.93 211,331.86 211.75,332.7 212.5,333.46 213.25,334.16 214,334.8 214.75,335.38 215.5,335.87 216.25,336.33 217,336.79 217.75,337.31 218.5,337.95 219.25,338.78 220,339.66 220.75,340.48 221.5,341.11 222.25,341.5 223,341.85 223.75,342.16 224.5,342.38 225.25,342.49 226,342.5 226.75,342.5 227.5,342.5 228.25,342.5 229,342.5 229.75,342.44 230.5,342.18 231.25,341.81 232,341.47 232.75,341.27 233.5,341.41 234.25,342.11 235,343.09 235.75,344.11 236.5,345.6 237.25,347.25 238,348.47 238.75,348.73 239.5,348.53 240.25,348.19 241,347.82 241.75,347.56 242.5,347.5 243.25,347.5 244,347.5 244.75,347.5 245.5,347.5 246.25,347.57 247,348.51 247.75,350.16 248.5,352.06 249.25,353.74 250,354.77 250.75,355.49 251.5,356.09 252.25,356.63 253,357.15 253.75,357.68 254.5,358.19 255.25,358.67 256,359.15 256.75,359.65 257.5,360.19 258.25,360.83 259,361.53 259.75,362.19 260.5,362.74 261.25,363.11 262,363.42 262.75,363.65 263.5,363.75 264.25,363.66 265,363.43 265.75,363.12 266.5,362.79 267.25,362.5 268,362.25 268.75,362 269.5,361.75 270.25,361.5 271,361.25 271.75,360.96 272.5,360.63 273.25,360.32 274,360.09 274.75,360 275.5,360.11 276.25,360.37 277,360.71 277.75,361.03 278.5,361.25 279.25,361.39 280,361.53 280.75,361.64 281.5,361.72 282.25,361.75 283,361.72 283.75,361.64 284.5,361.53 285.25,361.39 286,361.25 286.75,361.09 287.5,360.89 288.25,360.65 289,360.36 289.75,360 290.5,359.31 291.25,358.35 292,357.61 292.75,357.38 293.5,357.23 294.25,357.12 295,357.04 295.75,357 296.5,357.1 297.25,357.57 298,358.23 298.75,358.9 299.5,359.4 300.25,359.65 301,359.84 301.75,359.97 302.5,359.94 303.25,359.12 304,357.75 304.75,356.3 305.5,355.24 306.25,355.01 307,355.09 307.75,355.26 308.5,355.5 309.25,356.12 310,357.22 310.75,358.4 311.5,359.41 312.25,360.41 313,361.41 313.75,362.41 314.5,363.42 315.25,364.43 316,365.5 316.75,366.56 317.5,367.57 318.25,368.48 319,369.25 319.75,369.9 320.5,370.51 321.25,371.11 322,371.76 322.75,372.58 323.5,373.65 324.25,374.76 325,375.7 325.75,376.21 326.5,376.01 327.25,374.95 328,373.5 328.75,372.13 329.5,371.31 330.25,371.38 331,371.88 331.75,372.37 332.5,372.39 333.25,371.18 334,369.56 334.75,368.75 335.5,369.02 336.25,369.71 337,370.64 337.75,371.63 338.5,372.5 339.25,373.32 340,374.2 340.75,375.05 341.5,375.77 342.25,376.25 343,376.58 343.75,376.84 344.5,376.99 345.25,376.66 346,375.38 346.75,374.09 347.5,373.77 348.25,374.06 349,374.58 349.75,375.23 350.5,375.88 351.25,376.41 352,376.89 352.75,377.36 353.5,377.84 354.25,378.37 355,378.96 355.75,379.68 356.5,380.49 357.25,381.31 358,382.06 358.75,382.7 359.5,383.25 360.25,383.75 361,384.23 361.75,384.69 362.5,385.16 363.25,385.67 364,386.22 364.75,386.78 365.5,387.36 366.25,387.91 367,388.44 367.75,388.91 368.5,389.33 369.25,389.65 370,389.88 370.75,389.99 371.5,390 372.25,390 373,390 373.75,390 374.5,390 375.25,390 376,390 376.75,390 377.5,390 378.25,390 379,389.97 379.75,389.8 380.5,389.51 381.25,389.13 382,388.68 382.75,388.17 383.5,387.52 384.25,386.46 385,385.21 385.75,384.07 386.5,383.12 387.25,382.14 388,381.42 388.75,381.26 389.5,381.4 390.25,381.67 391,381.99 391.75,382.31 392.5,382.59 393.25,382.9 394,383.23 394.75,383.52 395.5,383.71 396.25,383.71 397,383.24 397.75,382.4 398.5,381.4 399.25,380.47 400,379.81 400.75,379.3 401.5,378.83 402.25,378.4 403,377.96 403.75,377.5 404.5,377.03 405.25,376.56 406,376.08 406.75,375.57 407.5,375 408.25,374.37 409,373.69 409.75,372.94 410.5,372.13 411.25,371.25 412,370.16 412.75,368.9 413.5,367.79 414.25,366.96 415,366.17 415.75,365.62 416.5,365.56 417.25,366.27 418,367.47 418.75,368.75 419.5,370.14 420.25,371.75 421,373.3 421.75,374.57 422.5,375.68 423.25,376.75 424,377.89 424.75,379.14 425.5,380.46 426.25,381.8 427,383.14 427.75,384.42 428.5,385.6 429.25,386.64 430,387.5 430.75,388.27 431.5,389.05 432.25,389.78 433,390.41 433.75,390.9 434.5,391.19 435.25,391.18 436,390.35 436.75,389.07 437.5,388 438.25,387.29 439,386.66 439.75,386.09 440.5,385.54 441.25,385 442,384.39 442.75,383.73 443.5,383.12 444.25,382.67 445,382.5 445.75,382.76 446.5,383.38 447.25,384.12 448,384.74 448.75,385 449.5,384.84 450.25,384.41 451,383.81 451.75,383.14 452.5,382.5 453.25,381.84 454,381.08 454.75,380.28 455.5,379.49 456.25,378.75 457,377.97 457.75,377.1 458.5,376.31 459.25,375.73 460,375.5 460.75,375.71 461.5,376.2 462.25,376.8 463,377.29 463.75,377.5 464.5,376.99 465.25,375.75 466,374.23 466.75,372.65 467.5,370.62 468.25,368.6 469,367.02 469.75,365.5 470.5,364.26 471.25,363.75 472,364.25 472.75,365.46 473.5,366.99 474.25,368.89 475,371.76 475.75,374.26 476.5,375.08 477.25,375.23 478,375.33 478.75,375.5 479.5,376.05 480.25,377.11 481,378.57 481.75,380.28 482.5,382.12 483.25,383.96 484,385.66 484.75,387.1 485.5,388.28 486.25,389.53 487,390.78 487.75,391.93 488.5,392.87 489.25,393.51 490,393.75 490.75,393.16 491.5,391.83 492.25,390.39 493,389.32 493.75,388.37 494.5,387.44 495.25,386.47 496,385.39 496.75,383.96 497.5,381.99 498.25,380.39 499,380.06 499.75,380.83 500.5,382 501.25,383 502,383.78 502.75,384.53 503.5,384.97 504.25,384.99 505,384.93 505.75,384.82 506.5,384.7 507.25,384.55 508,384.38 508.75,384.12 509.5,383.8 510.25,383.46 511,383.11 511.75,382.79 512.5,382.49 513.25,382.18 514,381.83 514.75,381.41 515.5,380.82 516.25,379.91 517,378.85 517.75,377.86 518.5,377.14 519.25,376.78 520,376.48 520.75,376.29 521.5,376.3 522.25,376.91 523,377.94 523.75,379.03 524.5,379.82 525.25,379.94 526,379.3 526.75,378.43 527.5,378 528.25,378.7 529,380.11 529.75,381.16 530.5,381.06 531.25,380.31 532,379.49 532.75,379.17 533.5,379.29 534.25,379.57 535,379.97 535.75,380.44 536.5,380.94 537.25,381.42 538,381.87 538.75,382.4 539.5,383 540.25,383.63 541,384.23 541.75,384.75 542.5,385.13 543.25,385.32 544,385.05 544.75,383.88 545.5,382.43 546.25,381.36 547,380.44 547.75,379.58 548.5,378.85 549.25,378.37 550,378.08 550.75,377.82 551.5,377.63 552.25,377.52 553,377.53 553.75,377.79 554.5,378.17 555.25,378.52 556,378.67 556.75,378.36 557.5,377.63 558.25,376.78 559,376.08 559.75,375.84 560.5,376.11 561.25,376.52 562,376.65 562.75,376.23 563.5,375.38 564.25,374.27 565,373.08 565.75,371.98 566.5,371.08 567.25,370.23 568,369.38 568.75,368.54 569.5,367.68 570.25,366.78 571,365.83 571.75,364.69 572.5,363.32 573.25,361.85 574,360.44 574.75,359.23 575.5,358.37 576.25,358 577,358.21 577.75,358.76 578.5,359.35 579.25,359.66 580,359.67 580.75,359.67 581.5,359.67 582.25,359.67 583,359.67 583.75,359.67 584.5,359.67 585.25,359.67 586,359.67 586.75,360.51 587.5,362.53 588.25,364.93 589,366.94 589.75,368 590.5,368.74 591.25,369.34 592,369.87 592.75,370.38 593.5,370.93 594.25,371.59 595,372.52 595.75,373.68 596.5,374.65 597.25,374.99 598,374.21 598.75,372.57 599.5,370.66 600.25,369.06 601,368.33 601.75,368.25 602.5,368.18 603.25,368.12 604,368.08 604.75,368.04 605.5,368.02 606.25,368 607,368.01 607.75,368.15 608.5,368.43 609.25,368.79 610,369.16 610.75,369.47 611.5,369.65 612.25,369.56 613,368.96 613.75,368 614.5,366.93 615.25,365.96 616,365.33 616.75,365 617.5,364.74 618.25,364.52 619,364.33 619.75,364.12 620.5,363.87 621.25,363.54 622,363.03 622.75,362.39 623.5,361.69 624.25,361.02 625,360.46 625.75,360.1 626.5,360 626.65,360 626.65,456.4 68.5,456.4"/>
<polyline fill="none" stroke="#3c3c3c" stroke-width="0.9" points="68.5,427.5 69.25,422.29 70,417.66 70.75,413.8 71.5,410.53 72.25,407.65 73,405 73.75,402.48 74.5,400.14 75.25,398.1 76,396.27 76.75,394.53 77.5,393.75 78.25,394.73 79,396.11 79.75,395.78 80.5,393.82 81.25,391.36 82,389.46 82.75,388.02 83.5,386.61 84.25,385 85,382.97 85.75,380.64 86.5,378.26 87.25,376.06 88,373.98 88.75,371.74 89.5,369.03 90.25,365.73 91,361.87 91.75,357.5 92.5,352 93.25,345.53 94,339.31 94.75,334.02 95.5,328.91 96.25,324.59 97,321.64 97.75,319.3 98.5,318.25 99.25,318.78 100,320.12 100.75,322.03 101.5,326.02 102.25,330.97 103,335.53 103.75,340.31 104.5,344.87 105.25,348.75 106,352.75 106.75,356.1 107.5,357.5 108.25,356.43 109,353.89 109.75,350.91 110.5,348.1 111.25,344.82 112,341.43 112.75,338.37 113.5,335.91 114.25,333.72 115,331.71 115.75,329.84 116.5,328.07 117.25,326.35 118,324.66 118.75,323.04 119.5,321.59 120.25,320.35 121,319.36 121.75,318.48 122.5,317.7 123.25,317.02 124,316.43 124.75,315.9 125.5,315.39 126.25,314.93 127,314.56 127.75,314.3 128.5,314.17 129.25,314.05 130,313.95 130.75,313.87 131.5,313.8 132.25,313.76 133,313.75 133.75,313.75 134.5,313.75 135.25,313.75 136,313.75 136.75,313.75 137.5,313.75 138.25,313.75 139,313.75 139.75,313.75 140.5,313.75 141.25,313.75 142,313.76 142.75,313.78 143.5,313.81 144.25,313.84 145,313.88 145.75,313.93 146.5,313.98 147.25,314.08 148,314.35 148.75,314.77 149.5,315.33 150.25,316 151,316.96 151.75,318.65 152.5,320.86 153.25,323.41 154,326.9 154.75,330.99 155.5,335 156.25,338.75 157,342.5 157.75,346.25 158.5,350.14 159.25,354.29 160,358.06 160.75,360.81 161.5,363.13 162.25,365.22 163,366.95 163.75,368.22 164.5,368.94 165.25,369.47 166,369.85 166.75,370 167.5,369.05 168.25,367.47 169,367.1 169.75,368.25 170.5,369.62 171.25,369.89 172,368.57 172.75,366.75 173.5,365.38 174.25,364.15 175,362.94 175.75,361.73 176.5,360.45 177.25,359.1 178,357.74 178.75,356.33 179.5,354.8 180.25,353.11 181,351.15 181.75,348.8 182.5,346.2 183.25,343.5 184,340.85 184.75,338.3 185.5,335.67 186.25,333.04 187,330.52 187.75,328.21 188.5,326.12 189.25,324.06 190,322.12 190.75,320.43 191.5,319.09 192.25,318.12 193,317.21 193.75,316.41 194.5,315.82 195.25,315.52 196,315.5 196.75,315.5 197.5,315.5 198.25,315.5 199,315.5 199.75,315.56 200.5,315.82 201.25,316.25 202,316.77 202.75,317.32 203.5,317.88 204.25,318.56 205,319.37 205.75,320.37 206.5,321.85 207.25,323.53 208,325 208.75,326.16 209.5,327.22 210.25,328.21 211,329.13 211.75,330 212.5,330.94 213.25,331.94 214,332.84 214.75,333.5 215.5,333.75 216.25,333.59 217,333.26 217.75,333.02 218.5,333.06 219.25,333.28 220,333.56 220.75,333.74 221.5,333.59 222.25,332.93 223,332.07 223.75,331.41 224.5,331.27 225.25,331.6 226,332.18 226.75,332.85 227.5,333.46 228.25,333.85 229,334.11 229.75,334.32 230.5,334.52 231.25,334.78 232,335.14 232.75,335.68 233.5,336.39 234.25,337.22 235,338.12 235.75,339.09 236.5,340.33 237.25,341.72 238,343.03 238.75,344.07 239.5,345.09 240.25,346.07 241,346.88 241.75,347.39 242.5,347.49 243.25,347.41 244,347.27 244.75,347.13 245.5,347.02 246.25,347.07 247,347.99 247.75,349.61 248.5,351.46 249.25,353.06 250,353.98 250.75,354.58 251.5,355.07 252.25,355.5 253,355.93 253.75,356.42 254.5,356.92 255.25,357.42 256,357.92 256.75,358.42 257.5,358.92 258.25,359.44 259,359.96 259.75,360.47 260.5,360.95 261.25,361.4 262,361.89 262.75,362.32 263.5,362.5 264.25,362.25 265,361.59 265.75,360.69 266.5,359.69 267.25,358.75 268,357.84 268.75,356.85 269.5,355.82 270.25,354.77 271,353.75 271.75,352.75 272.5,351.74 273.25,350.74 274,349.74 274.75,348.75 275.5,347.56 276.25,346.33 277,345.56 277.75,345.84 278.5,347.27 279.25,349.04 280,350.38 280.75,351.49 281.5,352.52 282.25,353.5 283,354.42 283.75,355.3 284.5,356.27 285.25,357.26 286,358.1 286.75,358.63 287.5,358.75 288.25,358.75 289,358.75 289.75,358.75 290.5,358.21 291.25,357.13 292,356.32 292.75,356.25 293.5,356.25 294.25,356.25 295,356.25 295.75,356.25 296.5,356.37 297.25,356.9 298,357.62 298.75,358.31 299.5,358.72 300.25,358.67 301,358.29 301.75,357.71 302.5,357.05 303.25,356.43 304,355.92 304.75,355.42 305.5,354.92 306.25,354.42 307,353.92 307.75,353.38 308.5,352.73 309.25,352.08 310,351.56 310.75,351.27 311.5,351.27 312.25,351.36 313,351.5 313.75,351.7 314.5,351.92 315.25,352.21 316,352.68 316.75,353.29 317.5,354 318.25,354.75 319,355.54 319.75,356.48 320.5,357.52 321.25,358.6 322,359.66 322.75,360.74 323.5,362.04 324.25,363.33 325,364.38 325.75,364.96 326.5,364.97 327.25,364.8 328,364.54 328.75,364.22 329.5,363.87 330.25,363.42 331,362.73 331.75,362.14 332.5,362.03 333.25,362.38 334,363.03 334.75,363.82 335.5,364.58 336.25,365.18 337,365.7 337.75,366.2 338.5,366.68 339.25,367.17 340,367.67 340.75,368.21 341.5,368.76 342.25,369.29 343,369.75 343.75,370.11 344.5,370.37 345.25,370.59 346,370.8 346.75,371.05 347.5,371.37 348.25,371.87 349,372.46 349.75,373.05 350.5,373.54 351.25,373.82 352,373.99 352.75,374.12 353.5,374.24 354.25,374.38 355,374.57 355.75,374.83 356.5,375.15 357.25,375.52 358,375.94 358.75,376.42 359.5,377.07 360.25,377.86 361,378.71 361.75,379.52 362.5,380.23 363.25,380.94 364,381.67 364.75,382.4 365.5,383.09 366.25,383.73 367,384.28 367.75,384.71 368.5,385 369.25,385.21 370,385.4 370.75,385.58 371.5,385.74 372.25,385.89 373,386.01 373.75,386.11 374.5,386.19 375.25,386.23 376,386.25 376.75,386.18 377.5,385.97 378.25,385.64 379,385.2 379.75,384.67 380.5,384.08 381.25,383.42 382,382.72 382.75,381.99 383.5,381.25 384.25,380.24 385,378.96 385.75,377.79 386.5,376.96 387.25,376.17 388,375.62 388.75,375.51 389.5,375.59 390.25,375.75 391,375.94 391.75,376.14 392.5,376.3 393.25,376.49 394,376.69 394.75,376.86 395.5,376.98 396.25,377 397,376.93 397.75,376.81 398.5,376.63 399.25,376.41 400,376.15 400.75,375.71 401.5,375.06 402.25,374.28 403,373.4 403.75,372.5 404.5,371.49 405.25,370.3 406,369 406.75,367.63 407.5,366.25 408.25,364.84 409,363.35 409.75,361.82 410.5,360.27 411.25,358.75 412,357.1 412.75,355.4 413.5,354.05 414.25,353.24 415,352.64 415.75,352.57 416.5,353.42 417.25,354.82 418,356.25 418.75,357.58 419.5,359.01 420.25,360.51 421,362.01 421.75,363.49 422.5,364.99 423.25,366.5 424,368.01 424.75,369.63 425.5,371.33 426.25,373.02 427,374.62 427.75,376.04 428.5,377.19 429.25,378.08 430,378.95 430.75,379.78 431.5,380.55 432.25,381.23 433,381.8 433.75,382.21 434.5,382.45 435.25,382.44 436,381.74 436.75,380.73 437.5,380 438.25,379.66 439,379.4 439.75,379.18 440.5,378.98 441.25,378.75 442,378.46 442.75,378.13 443.5,377.82 444.25,377.59 445,377.5 445.75,377.71 446.5,378.2 447.25,378.8 448,379.29 448.75,379.5 449.5,379.27 450.25,378.69 451,377.9 451.75,377.03 452.5,376.25 453.25,375.47 454,374.61 454.75,373.76 455.5,373.02 456.25,372.5 457,372.18 457.75,371.95 458.5,371.75 459.25,371.53 460,371.25 460.75,370.87 461.5,370.42 462.25,369.9 463,369.34 463.75,368.75 464.5,368.1 465.25,367.36 466,366.57 466.75,365.77 467.5,365 468.25,364.15 469,363.26 469.75,362.61 470.5,362.34 471.25,362.15 472,362.03 472.75,362.05 473.5,362.74 474.25,363.86 475,365 475.75,366.11 476.5,367.32 477.25,368.43 478,369.3 478.75,370.01 479.5,370.71 480.25,371.56 481,372.66 481.75,373.93 482.5,375.26 483.25,376.55 484,377.68 484.75,378.54 485.5,379.12 486.25,379.67 487,380.17 487.75,380.6 488.5,380.95 489.25,381.17 490,381.25 490.75,380.89 491.5,380.04 492.25,379.05 493,378.12 493.75,377.02 494.5,375.85 495.25,374.78 496,373.95 496.75,373.41 497.5,372.91 498.25,372.49 499,372.17 499.75,372.01 500.5,372.17 501.25,372.91 502,373.92 502.75,374.89 503.5,375.46 504.25,375.45 505,375.24 505.75,374.95 506.5,374.68 507.25,374.51 508,374.55 508.75,374.76 509.5,375.05 510.25,375.32 511,375.49 511.75,375.15 512.5,373.74 513.25,372.07 514,370.96 514.75,370.13 515.5,369.38 516.25,368.74 517,368.24 517.75,367.9 518.5,367.61 519.25,367.35 520,367.15 520.75,367.03 521.5,367.04 522.25,367.53 523,368.35 523.75,369.22 524.5,369.85 525.25,370 526,370 526.75,370 527.5,370 528.25,370 529,370.02 529.75,370.25 530.5,370.68 531.25,371.2 532,371.72 532.75,372.12 533.5,372.47 534.25,372.8 535,373.13 535.75,373.49 536.5,373.89 537.25,374.33 538,374.8 538.75,375.3 539.5,375.86 540.25,376.48 541,377.42 541.75,378.34 542.5,378.75 543.25,378.44 544,377.65 544.75,376.63 545.5,375.59 546.25,374.74 547,373.9 547.75,373.06 548.5,372.3 549.25,371.72 550,371.31 550.75,370.99 551.5,370.72 552.25,370.48 553,370.22 553.75,369.94 554.5,369.58 555.25,369.02 556,368.37 556.75,367.81 557.5,367.51 558.25,367.5 559,367.5 559.75,367.5 560.5,367.5 561.25,367.5 562,367.5 562.75,367.5 563.5,367.5 564.25,367.61 565,367.82 565.75,367.99 566.5,367.89 567.25,367.38 568,366.55 568.75,365.53 569.5,364.43 570.25,363.38 571,362.5 571.75,361.67 572.5,360.75 573.25,359.82 574,358.95 574.75,358.23 575.5,357.72 576.25,357.5 577,357.69 577.75,358.21 578.5,358.79 579.25,359.15 580,359.25 580.75,359.31 581.5,359.36 582.25,359.39 583,359.42 583.75,359.45 584.5,359.49 585.25,359.56 586,359.67 586.75,360.51 587.5,362.33 588.25,364.45 589,366.19 589.75,367.07 590.5,367.65 591.25,368.09 592,368.48 592.75,368.87 593.5,369.32 594.25,369.92 595,370.95 595.75,372.42 596.5,373.7 597.25,374.16 598,373.44 598.75,371.95 599.5,370.19 600.25,368.7 601,368 601.75,367.88 602.5,367.77 603.25,367.69 604,367.62 604.75,367.56 605.5,367.53 606.25,367.5 607,367.51 607.75,367.65 608.5,367.93 609.25,368.29 610,368.66 610.75,368.97 611.5,369.15 612.25,369.07 613,368.49 613.75,367.57 614.5,366.54 615.25,365.61 616,365 616.75,364.67 617.5,364.41 618.25,364.19 619,364 619.75,363.79 620.5,363.54 621.25,363.21 622,362.7 622.75,362.05 623.5,361.36 624.25,360.69 625,360.13 625.75,359.76 626.5,359.67 626.65,359.67"/>
<polyline fill="none" stroke="#3c3c3c" stroke-width="0.9" points="68.5,430 69.25,426.03 70,422.31 70.75,418.89 71.5,415.7 72.25,412.72 73,410 73.75,407.44 74.5,405.04 75.25,403.04 76,401.47 76.75,400 77.5,398.98 78.25,398.79 79,399.19 79.75,399.73 80.5,400 81.25,399.3 82,397.62 82.75,395.63 83.5,393.69 84.25,391.44 85,389.05 85.75,386.74 86.5,384.36 87.25,382.03 88,380 88.75,378.46 89.5,377.14 90.25,375.63 91,373.46 91.75,370.56 92.5,367.25 93.25,363.84 94,359.99 94.75,356.01 95.5,352.5 96.25,349.38 97,346.49 97.75,344.27 98.5,342.85 99.25,341.72 100,341.25 100.75,341.75 101.5,342.96 102.25,344.49 103,346.18 103.75,348.44 104.5,350.92 105.25,353.32 106,356.22 106.75,358.85 107.5,360 108.25,357.54 109,354.1 109.75,355.39 110.5,360.36 111.25,361.81 112,359.67 112.75,356.91 113.5,355.19 114.25,353.69 115,352.34 115.75,351.18 116.5,350.25 117.25,349.58 118,349.12 118.75,348.74 119.5,348.33 120.25,347.75 121,346.72 121.75,344.81 122.5,342.42 123.25,340 124,338 124.75,336.71 125.5,335.79 126.25,335.01 127,334.14 127.75,332.99 128.5,331.04 129.25,327.81 130,324.36 130.75,321.71 131.5,319.32 132.25,317.31 133,316.25 133.75,315.89 134.5,315.64 135.25,315.51 136,315.56 136.75,315.83 137.5,316.25 138.25,316.78 139,317.32 139.75,317.88 140.5,318.54 141.25,319.3 142,320.11 142.75,320.96 143.5,321.83 144.25,322.74 145,323.7 145.75,324.74 146.5,325.86 147.25,327.09 148,328.49 148.75,330 149.5,331.59 150.25,333.21 151,334.86 151.75,336.62 152.5,338.43 153.25,340.23 154,341.96 154.75,343.5 155.5,344.87 156.25,346.34 157,348.19 157.75,350.72 158.5,353.57 159.25,356.25 160,358.58 160.75,360.81 161.5,363.13 162.25,365.49 163,368.44 163.75,370.71 164.5,371.14 165.25,369.93 166,369.85 166.75,370 167.5,369.05 168.25,371.07 169,373.13 169.75,375.2 170.5,376.25 171.25,375.72 172,374.47 172.75,372.97 173.5,371.53 174.25,369.88 175,368.07 175.75,366.19 176.5,364.34 177.25,362.6 178,360.92 178.75,359.24 179.5,357.5 180.25,355.65 181,353.62 181.75,351.41 182.5,349.08 183.25,346.7 184,344.19 184.75,341.6 185.5,339.01 186.25,336.54 187,334.25 187.75,332 188.5,329.8 189.25,327.76 190,325.98 190.75,324.56 191.5,323.34 192.25,322.25 193,321.3 193.75,320.47 194.5,319.77 195.25,319.08 196,318.43 196.75,317.9 197.5,317.57 198.25,317.5 199,317.5 199.75,317.5 200.5,317.5 201.25,317.5 202,317.52 202.75,317.81 203.5,318.37 204.25,319.13 205,320 205.75,321.48 206.5,323.61 207.25,325.69 208,327.23 208.75,328.6 209.5,329.84 210.25,330.93 211,331.86 211.75,332.7 212.5,333.46 213.25,334.16 214,334.8 214.75,335.38 215.5,335.87 216.25,336.33 217,336.79 217.75,337.31 218.5,337.95 219.25,338.78 220,339.66 220.75,340.48 221.5,341.11 222.25,341.5 223,341.85 223.75,342.16 224.5,342.38 225.25,342.49 226,342.5 226.75,342.5 227.5,342.5 228.25,342.5 229,342.5 229.75,342.44 230.5,342.18 231.25,341.81 232,341.47 232.75,341.27 233.5,341.41 234.25,342.11 235,343.09 235.75,344.11 236.5,345.6 237.25,347.25 238,348.47 238.75,348.73 239.5,348.53 240.25,348.19 241,347.82 241.75,347.56 242.5,347.5 243.25,347.5 244,347.5 244.75,347.5 245.5,347.5 246.25,347.57 247,348.51 247.75,350.16 248.5,352.06 249.25,353.74 250,354.77 250.75,355.49 251.5,356.09 252.25,356.63 253,357.15 253.75,357.68 254.5,358.19 255.25,358.67 256,359.15 256.75,359.65 257.5,360.19 258.25,360.83 259,361.53 259.75,362.19 260.5,362.74 261.25,363.11 262,363.42 262.75,363.65 263.5,363.75 264.25,363.66 265,363.43 265.75,363.12 266.5,362.79 267.25,362.5 268,362.25 268.75,362 269.5,361.75 270.25,361.5 271,361.25 271.75,360.96 272.5,360.63 273.25,360.32 274,360.09 274.75,360 275.5,360.11 276.25,360.37 277,360.71 277.75,361.03 278.5,361.25 279.25,361.39 280,361.53 280.75,361.64 281.5,361.72 282.25,361.75 283,361.72 283.75,361.64 284.5,361.53 285.25,361.39 286,361.25 286.75,361.09 287.5,360.89 288.25,360.65 289,360.36 289.75,360 290.5,359.31 291.25,358.35 292,357.61 292.75,357.38 293.5,357.23 294.25,357.12 295,357.04 295.75,357 296.5,357.1 297.25,357.57 298,358.23 298.75,358.9 299.5,359.4 300.25,359.65 301,359.84 301.75,359.97 302.5,359.94 303.25,359.12 304,357.75 304.75,356.3 305.5,355.24 306.25,355.01 307,355.09 307.75,355.26 308.5,355.5 309.25,356.12 310,357.22 310.75,358.4 311.5,359.41 312.25,360.41 313,361.41 313.75,362.41 314.5,363.42 315.25,364.43 316,365.5 316.75,366.56 317.5,367.57 318.25,368.48 319,369.25 319.75,369.9 320.5,370.51 321.25,371.11 322,371.76 322.75,372.58 323.5,373.65 324.25,374.76 325,375.7 325.75,376.21 326.5,376.01 327.25,374.95 328,373.5 328.75,372.13 329.5,371.31 330.25,371.38 331,371.88 331.75,372.37 332.5,372.39 333.25,371.18 334,369.56 334.75,368.75 335.5,369.02 336.25,369.71 337,370.64 337.75,371.63 338.5,372.5 339.25,373.32 340,374.2 340.75,375.05 341.5,375.77 342.25,376.25 343,376.58 343.75,376.84 344.5,376.99 345.25,376.66 346,375.38 346.75,374.09 347.5,373.77 348.25,374.06 349,374.58 349.75,375.23 350.5,375.88 351.25,376.41 352,376.89 352.75,377.36 353.5,377.84 354.25,378.37 355,378.96 355.75,379.68 356.5,380.49 357.25,381.31 358,382.06 358.75,382.7 359.5,383.25 360.25,383.75 361,384.23 361.75,384.69 362.5,385.16 363.25,385.67 364,386.22 364.75,386.78 365.5,387.36 366.25,387.91 367,388.44 367.75,388.91 368.5,389.33 369.25,389.65 370,389.88 370.75,389.99 371.5,390 372.25,390 373,390 373.75,390 374.5,390 375.25,390 376,390 376.75,390 377.5,390 378.25,390 379,389.97 379.75,389.8 380.5,389.51 381.25,389.13 382,388.68 382.75,388.17 383.5,387.52 384.25,386.46 385,385.21 385.75,384.07 386.5,383.12 387.25,382.14 388,381.42 388.75,381.26 389.5,381.4 390.25,381.67 391,381.99 391.75,382.31 392.5,382.59 393.25,382.9 394,383.23 394.75,383.52 395.5,383.71 396.25,383.71 397,383.24 397.75,382.4 398.5,381.4 399.25,380.47 400,379.81 400.75,379.3 401.5,378.83 402.25,378.4 403,377.96 403.75,377.5 404.5,377.03 405.25,376.56 406,376.08 406.75,375.57 407.5,375 408.25,374.37 409,373.69 409.75,372.94 410.5,372.13 411.25,371.25 412,370.16 412.75,368.9 413.5,367.79 414.25,366.96 415,366.17 415.75,365.62 416.5,365.56 417.25,366.27 418,367.47 418.75,368.75 419.5,370.14 420.25,371.75 421,373.3 421.75,374.57 422.5,375.68 423.25,376.75 424,377.89 424.75,379.14 425.5,380.46 426.25,381.8 427,383.14 427.75,384.42 428.5,385.6 429.25,386.64 430,387.5 430.75,388.27 431.5,389.05 432.25,389.78 433,390.41 433.75,390.9 434.5,391.19 435.25,391.18 436,390.35 436.75,389.07 437.5,388 438.25,387.29 439,386.66 439.75,386.09 440.5,385.54 441.25,385 442,384.39 442.75,383.73 443.5,383.12 444.25,382.67 445,382.5 445.75,382.76 446.5,383.38 447.25,384.12 448,384.74 448.75,385 449.5,384.84 450.25,384.41 451,383.81 451.75,383.14 452.5,382.5 453.25,381.84 454,381.08 454.75,380.28 455.5,379.49 456.25,378.75 457,377.97 457.75,377.1 458.5,376.31 459.25,375.73 460,375.5 460.75,375.71 461.5,376.2 462.25,376.8 463,377.29 463.75,377.5 464.5,376.99 465.25,375.75 466,374.23 466.75,372.65 467.5,370.62 468.25,368.6 469,367.02 469.75,365.5 470.5,364.26 471.25,363.75 472,364.25 472.75,365.46 473.5,366.99 474.25,368.89 475,371.76 475.75,374.26 476.5,375.08 477.25,375.23 478,375.33 478.75,375.5 479.5,376.05 480.25,377.11 481,378.57 481.75,380.28 482.5,382.12 483.25,383.96 484,385.66 484.75,387.1 485.5,388.28 486.25,389.53 487,390.78 487.75,391.93 488.5,392.87 489.25,393.51 490,393.75 490.75,393.16 491.5,391.83 492.25,390.39 493,389.32 493.75,388.37 494.5,387.44 495.25,386.47 496,385.39 496.75,383.96 497.5,381.99 498.25,380.39 499,380.06 499.75,380.83 500.5,382 501.25,383 502,383.78 502.75,384.53 503.5,384.97 504.25,384.99 505,384.93 505.75,384.82 506.5,384.7 507.25,384.55 508,384.38 508.75,384.12 509.5,383.8 510.25,383.46 511,383.11 511.75,382.79 512.5,382.49 513.25,382.18 514,381.83 514.75,381.41 515.5,380.82 516.25,379.91 517,378.85 517.75,377.86 518.5,377.14 519.25,376.78 520,376.48 520.75,376.29 521.5,376.3 522.25,376.91 523,377.94 523.75,379.03 524.5,379.82 525.25,379.94 526,379.3 526.75,378.43 527.5,378 528.25,378.7 529,380.11 529.75,381.16 530.5,381.06 531.25,380.31 532,379.49 532.75,379.17 533.5,379.29 534.25,379.57 535,379.97 535.75,380.44 536.5,380.94 537.25,381.42 538,381.87 538.75,382.4 539.5,383 540.25,383.63 541,384.23 541.75,384.75 542.5,385.13 543.25,385.32 544,385.05 544.75,383.88 545.5,382.43 546.25,381.36 547,380.44 547.75,379.58 548.5,378.85 549.25,378.37 550,378.08 550.75,377.82 551.5,377.63 552.25,377.52 553,377.53 553.75,377.79 554.5,378.17 555.25,378.52 556,378.67 556.75,378.36 557.5,377.63 558.25,376.78 559,376.08 559.75,375.84 560.5,376.11 561.25,376.52 562,376.65 562.75,376.23 563.5,375.38 564.25,374.27 565,373.08 565.75,371.98 566.5,371.08 567.25,370.23 568,369.38 568.75,368.54 569.5,367.68 570.25,366.78 571,365.83 571.75,364.69 572.5,363.32 573.25,361.85 574,360.44 574.75,359.23 575.5,358.37 576.25,358 577,358.21 577.75,358.76 578.5,359.35 579.25,359.66 580,359.67 580.75,359.67 581.5,359.67 582.25,359.67 583,359.67 583.75,359.67 584.5,359.67 585.25,359.67 586,359.67 586.75,360.51 587.5,362.53 588.25,364.93 589,366.94 589.75,368 590.5,368.74 591.25,369.34 592,369.87 592.75,370.38 593.5,370.93 594.25,371.59 595,372.52 595.75,373.68 596.5,374.65 597.25,374.99 598,374.21 598.75,372.57 599.5,370.66 600.25,369.06 601,368.33 601.75,368.25 602.5,368.18 603.25,368.12 604,368.08 604.75,368.04 605.5,368.02 606.25,368 607,368.01 607.75,368.15 608.5,368.43 609.25,368.79 610,369.16 610.75,369.47 611.5,369.65 612.25,369.56 613,368.96 613.75,368 614.5,366.93 615.25,365.96 616,365.33 616.75,365 617.5,364.74 618.25,364.52 619,364.33 619.75,364.12 620.5,363.87 621.25,363.54 622,363.03 622.75,362.39 623.5,361.69 624.25,361.02 625,360.46 625.75,360.1 626.5,360 626.65,360"/>
</g>
<path fill="#ffa500" d="M87 456.4V430H89.25V409.2H91.49V404.2H93.74V397H95.98V399.2H98.23V402H100.47V402H102.72V402H104.96V406.7H107.21V418H109.45V437.2H111.7V456.4ZM139.2 456.4V454H141.43V454H143.67V442H145.9V430H148.13V423H150.37V415.8H152.6V408.7H154.83V399.2H157.07V395H159.3V397H161.53V408.7H163.77V430H166V456.4ZM200 456.4V449H202.22V444.8H204.44V435.2H206.67V428H208.89V425.7H211.11V423.2H213.33V421H215.56V430.2H217.78V440.2H220V456.4ZM248.2 456.4V451.8H250.42V444.8H252.63V430.2H254.85V414H257.07V406.8H259.28V399.3H261.5V401.8H263.72V395.2H265.93V395.2H268.15V401.8H270.37V411H272.58V430.2H274.8V456.4ZM302.2 456.4V454.2H304.43V440H306.67V416.3H308.9V399.2H311.13V390H313.37V385H315.6V373.3H317.83V372.5H320.07V371.3H322.3V378.3H324.53V395H326.77V420.8H329V456.4ZM357.2 456.4V445H359.42V425.8H361.63V399.2H363.85V378H366.07V364.2H368.28V364.2H370.5V361.3H372.72V361.3H374.93V361.3H377.15V359.2H379.37V380H381.58V414.2H383.8V456.4ZM411.2 456.4V449.2H413.43V433.3H415.67V416.3H417.9V392.2H420.13V383H422.37V375.8H424.6V368.3H426.83V368.3H429.07V368.3H431.3V375.8H433.53V392.2H435.77V418.3H438V456.4ZM466.2 456.4V446.7H468.42V433.3H470.63V414.2H472.85V392.2H475.07V380H477.28V375.8H479.5V373.3H481.72V368.3H483.93V368.3H486.15V378.3H488.37V393.3H490.58V420.8H492.8V456.4ZM520.2 456.4V446.7H522.43V428H524.67V404.2H526.9V390H529.13V383H531.37V380H533.6V378H535.83V378H538.07V378H540.3V383H542.53V397.2H544.77V420.8H547V456.4ZM574 456.4V449.2H576.32V435H578.63V416.3H580.95V404.2H583.27V395H585.58V387.5H587.9V383H590.22V383H592.53V380H594.85V385H597.17V399.2H599.48V420.8H601.8V456.4Z"/>
<text x="114.18" y="323.9" class="s" font-size="7.2" text-anchor="middle">7.8h/d</text>
<text x="168.62" y="323.9" class="s" font-size="7.2" text-anchor="middle">6.5h/d</text>
<text x="223.07" y="323.9" class="s" font-size="7.2" text-anchor="middle">4.5h/d</text>
<text x="277.53" y="323.9" class="s" font-size="7.2" text-anchor="middle">11.0h/d</text>
<text x="331.98" y="323.9" class="s" font-size="7.2" text-anchor="middle">12.0h/d</text>
<text x="386.43" y="323.9" class="s" font-size="7.2" text-anchor="middle">14.5h/d</text>
<text x="440.88" y="323.9" class="s" font-size="7.2" text-anchor="middle">14.5h/d</text>
<text x="495.32" y="323.9" class="s" font-size="7.2" text-anchor="middle">15.5h/d</text>
<text x="549.78" y="323.9" class="s" font-size="7.2" text-anchor="middle">13.2h/d</text>
<rect x="68.5" y="313.6" width="558.15" height="142.8" fill="none" stroke="#262626" stroke-width="1"/>
<path stroke="#1a1a1a" stroke-width="1" fill="none" d="M63.1 313.6H68.5M63.1 337.4H68.5M63.1 361.2H68.5M63.1 385H68.5M63.1 408.8H68.5M63.1 432.6H68.5M63.1 456.4H68.5M68.5 313.6V456.4"/><text transform="translate(56.3 313.6) rotate(-90)" text-anchor="middle" class="s" font-size="7.7">60</text><text transform="translate(56.3 337.4) rotate(-90)" text-anchor="middle" class="s" font-size="7.7">50</text><text transform="translate(56.3 361.2) rotate(-90)" text-anchor="middle" class="s" font-size="7.7">40</text><text transform="translate(56.3 385) rotate(-90)" text-anchor="middle" class="s" font-size="7.7">30</text><text transform="translate(56.3 408.8) rotate(-90)" text-anchor="middle" class="s" font-size="7.7">20</text><text transform="translate(56.3 432.6) rotate(-90)" text-anchor="middle" class="s" font-size="7.7">10</text><text transform="translate(56.3 456.4) rotate(-90)" text-anchor="middle" class="s" font-size="7.7">0</text>
<path stroke="#1a1a1a" stroke-width="1" fill="none" d="M626.65 342.25H632.05M626.65 370.75H632.05M626.65 399.25H632.05M626.65 427.75H632.05M626.65 342.25V427.75"/><text transform="translate(644.2 342.25) rotate(-90)" text-anchor="middle" class="s" font-size="7.7">80</text><text transform="translate(644.2 370.75) rotate(-90)" text-anchor="middle" class="s" font-size="7.7">60</text><text transform="translate(644.2 399.25) rotate(-90)" text-anchor="middle" class="s" font-size="7.7">40</text><text transform="translate(644.2 427.75) rotate(-90)" text-anchor="middle" class="s" font-size="7.7">20</text>
<text transform="translate(14.3 385) rotate(-90)" text-anchor="middle" font-size="12.4">sunshine duration</text><text transform="translate(28.8 385) rotate(-90)" text-anchor="middle" font-size="12.4">[minutes/hour]</text>
<text transform="translate(658.2 385) rotate(-90)" text-anchor="middle" font-size="12.4">total/effective cloud</text><text transform="translate(672.6 385) rotate(-90)" text-anchor="middle" font-size="12.4">cover [percent]</text>
</g>
<g id="p3">
<rect x="68.5" y="458.3" width="4.45" height="142.8" fill="#f2f2f2"/><rect x="127.4" y="458.3" width="54.45" height="142.8" fill="#f2f2f2"/><rect x="236.3" y="458.3" width="54.45" height="142.8" fill="#f2f2f2"/><rect x="345.2" y="458.3" width="54.45" height="142.8" fill="#f2f2f2"/><rect x="454.1" y="458.3" width="54.45" height="142.8" fill="#f2f2f2"/><rect x="563" y="458.3" width="54.45" height="142.8" fill="#f2f2f2"/>
<g stroke-width="0.75" stroke-dasharray="3 3" stroke-linecap="round" fill="none"><path stroke="#b4b4b4" d="M100.18 601.1V458.3M154.62 601.1V458.3M209.07 601.1V458.3M263.53 601.1V458.3M317.98 601.1V458.3M372.43 601.1V458.3M426.88 601.1V458.3M481.32 601.1V458.3M535.78 601.1V458.3M590.23 601.1V458.3"/><path stroke="#666666" d="M127.4 601.1V458.3M181.85 601.1V458.3M236.3 601.1V458.3M290.75 601.1V458.3M345.2 601.1V458.3M399.65 601.1V458.3M454.1 601.1V458.3M508.55 601.1V458.3M563 601.1V458.3M617.45 601.1V458.3"/><path stroke="#6e6e6e" d="M72.95 601.1V458.3"/></g>
<path stroke="#989898" stroke-width="0.75" stroke-dasharray="3 3" stroke-linecap="round" fill="none" d="M68.5 486.9H626.65M68.5 515.45H626.65M68.5 544H626.65M68.5 572.55H626.65"/>
<g clip-path="url(#c3)">
<path fill="#0000ff" d="M175 601.1V589.75H177.2V601.1ZM177.2 601.1V584H180V601.1ZM193 601.1V578.5H195V601.1ZM198 601.1V595.5H200V601.1ZM200 601.1V590.25H202V601.1Z"/>
<polyline fill="none" stroke="#000" stroke-width="1.6" stroke-linejoin="round" points="68.5,520.5 69.1,521.85 69.7,523.15 70.3,524.37 70.9,525.49 71.5,526.56 72.1,527.58 72.7,528.56 73.3,529.51 73.9,530.45 74.5,531.39 75.1,532.35 75.7,533.31 76.3,534.24 76.9,535.12 77.5,535.91 78.1,536.61 78.7,537.24 79.3,537.83 79.9,538.37 80.5,538.87 81.1,539.32 81.7,539.72 82.3,540.05 82.9,540.31 83.5,540.55 84.1,540.78 84.7,541.04 85.3,541.37 85.9,541.81 86.5,542.42 87.1,543.14 87.7,543.94 88.3,544.77 88.9,545.56 89.5,546.3 90.1,547.06 90.7,547.82 91.3,548.58 91.9,549.31 92.5,549.99 93.1,550.59 93.7,551.12 94.3,551.6 94.9,552.05 95.5,552.5 96.1,552.96 96.7,553.46 97.3,554.01 97.9,554.59 98.5,555.19 99.1,555.81 99.7,556.44 100.3,557.05 100.9,557.66 101.5,558.32 102.1,558.99 102.7,559.64 103.3,560.23 103.9,560.75 104.5,561.17 105.1,561.58 105.7,561.94 106.3,562.19 106.9,562.24 107.5,562.12 108.1,561.87 108.7,561.53 109.3,561.16 109.9,560.8 110.5,560.5 111.1,560.21 111.7,559.9 112.3,559.59 112.9,559.31 113.5,559.1 114.1,559 114.7,559 115.3,559 115.9,559 116.5,559 117.1,559 117.7,559 118.3,559.07 118.9,559.54 119.5,560.21 120.1,560.8 120.7,561.05 121.3,561.18 121.9,561.29 122.5,561.38 123.1,561.45 123.7,561.49 124.3,561.5 124.9,561.5 125.5,561.5 126.1,561.5 126.7,561.5 127.3,561.5 127.9,561.5 128.5,561.63 129.1,562.06 129.7,562.67 130.3,563.3 130.9,563.91 131.5,564.63 132.1,565.42 132.7,566.23 133.3,567 133.9,567.67 134.5,568.21 135.1,568.71 135.7,569.17 136.3,569.59 136.9,569.97 137.5,570.28 138.1,570.54 138.7,570.73 139.3,570.88 139.9,571.01 140.5,571.13 141.1,571.29 141.7,571.48 142.3,571.74 142.9,572.06 143.5,572.44 144.1,572.87 144.7,573.33 145.3,573.83 145.9,574.37 146.5,575 147.1,575.71 147.7,576.48 148.3,577.26 148.9,578.05 149.5,578.82 150.1,579.58 150.7,580.34 151.3,581.13 151.9,581.94 152.5,582.77 153.1,583.65 153.7,584.6 154.3,585.63 154.9,586.68 155.5,587.74 156.1,588.75 156.7,589.68 157.3,590.53 157.9,591.34 158.5,592.11 159.1,592.83 159.7,593.56 160.3,594.35 160.9,595.05 161.5,595.46 162.1,595.48 162.7,595.33 163.3,595.09 163.9,594.8 164.5,594.48 165.1,594.18 165.7,593.92 166.3,593.71 166.9,593.5 167.5,593.26 168.1,592.93 168.7,592.28 169.3,591.41 169.9,590.63 170.5,590.25 171.1,590.18 171.7,590.13 172.3,590.1 172.9,590.07 173.5,590.04 174.1,590.01 174.7,589.97 175.3,589.92 175.9,589.86 176.5,589.81 177.1,589.78 177.7,589.75 178.3,589.75 178.9,589.75 179.5,589.75 180.1,589.75 180.7,589.75 181.3,589.75 181.9,589.74 182.5,589.56 183.1,589.22 183.7,588.82 184.3,588.48 184.9,588.18 185.5,587.88 186.1,587.58 186.7,587.28 187.3,586.99 187.9,586.73 188.5,586.45 189.1,586.1 189.7,585.61 190.3,584.93 190.9,584.13 191.5,583.32 192.1,582.56 192.7,581.8 193.3,581.03 193.9,580.23 194.5,579.4 195.1,578.51 195.7,577.6 196.3,576.68 196.9,575.78 197.5,574.88 198.1,573.98 198.7,573.08 199.3,572.17 199.9,571.13 200.5,570.02 201.1,569.07 201.7,568.52 202.3,568.35 202.9,568.25 203.5,568.17 204.1,568.04 204.7,567.73 205.3,567.12 205.9,566.48 206.5,566.05 207.1,566 207.7,566 208.3,566 208.9,566 209.5,566 210.1,566 210.7,565.99 211.3,565.8 211.9,565.45 212.5,564.99 213.1,564.46 213.7,563.94 214.3,563.46 214.9,563.04 215.5,562.61 216.1,562.17 216.7,561.7 217.3,561.18 217.9,560.6 218.5,559.93 219.1,559.12 219.7,558.22 220.3,557.25 220.9,556.23 221.5,555.18 222.1,554.13 222.7,553.02 223.3,551.85 223.9,550.63 224.5,549.38 225.1,548.11 225.7,546.81 226.3,545.45 226.9,544.02 227.5,542.57 228.1,541.13 228.7,539.72 229.3,538.39 229.9,537.07 230.5,535.75 231.1,534.44 231.7,533.22 232.3,532.1 232.9,531.14 233.5,530.36 234.1,529.69 234.7,529.08 235.3,528.49 235.9,527.86 236.5,527.14 237.1,526.36 237.7,525.6 238.3,524.94 238.9,524.43 239.5,524.05 240.1,523.69 240.7,523.27 241.3,522.67 241.9,521.8 242.5,520.77 243.1,519.69 243.7,518.67 244.3,517.64 244.9,516.6 245.5,515.57 246.1,514.59 246.7,513.7 247.3,512.84 247.9,511.96 248.5,511 249.1,509.81 249.7,508.44 250.3,507.13 250.9,506.12 251.5,505.51 252.1,505.06 252.7,504.66 253.3,504.19 253.9,503.47 254.5,502.4 255.1,501.32 255.7,500.61 256.3,500.52 256.9,500.65 257.5,500.82 258.1,500.97 258.7,500.98 259.3,500.76 259.9,500.41 260.5,500.1 261.1,500.01 261.7,500.22 262.3,500.67 262.9,501.22 263.5,501.75 264.1,502.26 264.7,502.81 265.3,503.37 265.9,503.91 266.5,504.46 267.1,505.06 267.7,505.67 268.3,506.23 268.9,506.67 269.5,506.95 270.1,507.04 270.7,507.11 271.3,507.16 271.9,507.2 272.5,507.23 273.1,507.25 273.7,507.24 274.3,507.07 274.9,506.73 275.5,506.28 276.1,505.76 276.7,505.22 277.3,504.71 277.9,504.17 278.5,503.56 279.1,502.92 279.7,502.3 280.3,501.67 280.9,501 281.5,500.38 282.1,499.86 282.7,499.46 283.3,499.09 283.9,498.79 284.5,498.56 285.1,498.42 285.7,498.3 286.3,498.2 286.9,498.11 287.5,498.04 288.1,498.01 288.7,498.05 289.3,498.62 289.9,499.37 290.5,499.75 291.1,499.12 291.7,497.93 292.3,497.23 292.9,497.04 293.5,496.89 294.1,496.79 294.7,496.75 295.3,496.87 295.9,497.19 296.5,497.53 297.1,497.74 297.7,497.7 298.3,497.51 298.9,497.22 299.5,496.89 300.1,496.51 300.7,495.91 301.3,495.28 301.9,494.83 302.5,494.75 303.1,494.75 303.7,494.75 304.3,494.75 304.9,494.68 305.5,493.38 306.1,491.46 306.7,490.18 307.3,489.3 307.9,488.57 308.5,488 309.1,487.5 309.7,487.03 310.3,486.67 310.9,486.5 311.5,486.55 312.1,486.73 312.7,486.96 313.3,487.19 313.9,487.36 314.5,487.53 315.1,487.69 315.7,487.89 316.3,488.15 316.9,488.57 317.5,489.1 318.1,489.64 318.7,490.11 319.3,490.42 319.9,490.49 320.5,490.34 321.1,490.08 321.7,489.84 322.3,489.75 322.9,490.38 323.5,491.62 324.1,492.87 324.7,493.5 325.3,493.4 325.9,493.12 326.5,492.73 327.1,492.34 327.7,491.95 328.3,491.48 328.9,491.01 329.5,490.62 330.1,490.37 330.7,490.2 331.3,490.06 331.9,489.89 332.5,489.62 333.1,489.21 333.7,488.7 334.3,488.15 334.9,487.62 335.5,487.04 336.1,486.43 336.7,485.88 337.3,485.47 337.9,485.14 338.5,484.83 339.1,484.6 339.7,484.5 340.3,484.62 340.9,484.96 341.5,485.42 342.1,485.89 342.7,486.36 343.3,486.92 343.9,487.48 344.5,487.89 345.1,488.1 345.7,488.22 346.3,488.31 346.9,488.42 347.5,488.57 348.1,488.77 348.7,489 349.3,489.26 349.9,489.53 350.5,489.79 351.1,490.04 351.7,490.32 352.3,490.64 352.9,490.95 353.5,491.22 354.1,491.42 354.7,491.5 355.3,491.42 355.9,491.18 356.5,490.83 357.1,490.45 357.7,490.09 358.3,489.81 358.9,489.65 359.5,489.53 360.1,489.44 360.7,489.35 361.3,489.24 361.9,489.1 362.5,488.89 363.1,488.41 363.7,487.83 364.3,487.38 364.9,487.26 365.5,487.41 366.1,487.67 366.7,487.91 367.3,488 367.9,487.52 368.5,486.47 369.1,485.2 369.7,484.08 370.3,483.07 370.9,481.96 371.5,481.02 372.1,480.52 372.7,480.63 373.3,481.13 373.9,481.86 374.5,482.67 375.1,483.5 375.7,484.56 376.3,485.7 376.9,486.75 377.5,487.57 378.1,488.38 378.7,489.02 379.3,489.24 379.9,488.14 380.5,486.01 381.1,484.08 381.7,483.43 382.3,483.29 382.9,483.21 383.5,483.12 384.1,482.97 384.7,482.67 385.3,482.25 385.9,481.75 386.5,481.19 387.1,480.63 387.7,480.07 388.3,479.42 388.9,478.73 389.5,478.03 390.1,477.36 390.7,476.76 391.3,476.27 391.9,475.87 392.5,475.53 393.1,475.2 393.7,474.84 394.3,474.4 394.9,473.83 395.5,472.89 396.1,471.7 396.7,470.55 397.3,469.7 397.9,469.03 398.5,468.41 399.1,467.95 399.7,467.75 400.3,467.95 400.9,468.47 401.5,469.1 402.1,469.6 402.7,469.77 403.3,469.83 403.9,469.86 404.5,469.88 405.1,469.91 405.7,469.95 406.3,470.01 406.9,470.26 407.5,470.74 408.1,471.34 408.7,471.94 409.3,472.44 409.9,472.73 410.5,472.82 411.1,472.89 411.7,472.95 412.3,472.98 412.9,473 413.5,472.35 414.1,470.52 414.7,468.62 415.3,467.58 415.9,466.85 416.5,466.24 417.1,465.76 417.7,465.38 418.3,465.03 418.9,464.71 419.5,464.42 420.1,464.19 420.7,464.05 421.3,464 421.9,464.01 422.5,464.03 423.1,464.07 423.7,464.12 424.3,464.17 424.9,464.24 425.5,464.33 426.1,464.48 426.7,464.69 427.3,464.98 427.9,465.34 428.5,465.79 429.1,466.57 429.7,468.37 430.3,470.42 430.9,472.15 431.5,473.95 432.1,475.43 432.7,476.17 433.3,476.62 433.9,476.97 434.5,477.19 435.1,477.25 435.7,477.25 436.3,477.25 436.9,477.25 437.5,477.25 438.1,477.25 438.7,477.25 439.3,477.34 439.9,477.58 440.5,477.84 441.1,477.99 441.7,477.97 442.3,477.86 442.9,477.69 443.5,477.51 444.1,477.36 444.7,477.26 445.3,477.27 445.9,477.41 446.5,477.66 447.1,477.99 447.7,478.35 448.3,478.73 448.9,479.09 449.5,479.48 450.1,479.92 450.7,480.39 451.3,480.87 451.9,481.33 452.5,481.75 453.1,482.15 453.7,482.53 454.3,482.91 454.9,483.28 455.5,483.61 456.1,483.93 456.7,484.21 457.3,484.45 457.9,484.68 458.5,484.9 459.1,485.12 459.7,485.37 460.3,485.65 460.9,486.03 461.5,486.45 462.1,486.86 462.7,487.21 463.3,487.44 463.9,487.5 464.5,487.45 465.1,487.36 465.7,487.28 466.3,487.25 466.9,487.38 467.5,487.62 468.1,487.87 468.7,488 469.3,487.97 469.9,487.88 470.5,487.73 471.1,487.55 471.7,487.2 472.3,486.48 472.9,485.67 473.5,485.1 474.1,484.94 474.7,484.85 475.3,484.79 475.9,484.76 476.5,484.78 477.1,485.05 477.7,485.51 478.3,486.07 478.9,486.64 479.5,487.32 480.1,488.11 480.7,488.97 481.3,489.82 481.9,490.72 482.5,491.69 483.1,492.62 483.7,493.44 484.3,494.13 484.9,494.77 485.5,495.35 486.1,495.88 486.7,496.37 487.3,496.85 487.9,497.28 488.5,497.63 489.1,497.9 489.7,498.15 490.3,498.35 490.9,498.48 491.5,498.5 492.1,498.46 492.7,498.4 493.3,498.31 493.9,498.21 494.5,498.1 495.1,497.98 495.7,497.85 496.3,497.68 496.9,497.48 497.5,497.25 498.1,496.88 498.7,496.37 499.3,495.88 499.9,495.53 500.5,495.37 501.1,495.23 501.7,495.11 502.3,495.03 502.9,495 503.5,495.09 504.1,495.39 504.7,495.83 505.3,496.33 505.9,496.9 506.5,497.7 507.1,498.6 507.7,499.42 508.3,500.04 508.9,500.57 509.5,501.06 510.1,501.5 510.7,501.91 511.3,502.28 511.9,502.67 512.5,503.06 513.1,503.37 513.7,503.5 514.3,503.27 514.9,502.77 515.5,502.5 516.1,502.79 516.7,503.44 517.3,504.12 517.9,504.49 518.5,504.47 519.1,504.37 519.7,504.23 520.3,504.1 520.9,504.02 521.5,504 522.1,504 522.7,504 523.3,504 523.9,503.98 524.5,503.51 525.1,502.74 525.7,502.03 526.3,501.75 526.9,501.83 527.5,502 528.1,502.17 528.7,502.25 529.3,502.23 529.9,502.17 530.5,502.09 531.1,502.02 531.7,501.95 532.3,501.87 532.9,501.8 533.5,501.75 534.1,501.8 534.7,502.04 535.3,502.41 535.9,502.8 536.5,503.14 537.1,503.52 537.7,503.9 538.3,504.18 538.9,504.23 539.5,503.94 540.1,503.77 540.7,503.91 541.3,504.2 541.9,504.5 542.5,504.72 543.1,504.77 543.7,504.74 544.3,504.69 544.9,504.6 545.5,504.48 546.1,504.32 546.7,503.88 547.3,501.59 547.9,498.75 548.5,495.6 549.1,492.76 549.7,491.97 550.3,491.58 550.9,491.35 551.5,491.26 552.1,491.6 552.7,492.28 553.3,492.87 553.9,492.96 554.5,492.74 555.1,492.45 555.7,492.28 556.3,492.33 556.9,492.51 557.5,492.77 558.1,493.06 558.7,493.5 559.3,494.05 559.9,494.56 560.5,494.94 561.1,495.23 561.7,495.52 562.3,495.88 562.9,496.4 563.5,497.04 564.1,497.69 564.7,498.27 565.3,498.82 565.9,499.34 566.5,499.87 567.1,500.42 567.7,501.05 568.3,501.84 568.9,502.51 569.5,502.76 570.1,502.57 570.7,502.23 571.3,501.94 571.9,502.01 572.5,502.82 573.1,504.02 573.7,505.19 574.3,505.87 574.9,505.92 575.5,505.92 576.1,505.92 576.7,505.92 577.3,505.92 577.9,505.92 578.5,505.92 579.1,505.47 579.7,503.02 580.3,500.69 580.9,498.88 581.5,497.66 582.1,497.61 582.7,497.7 583.3,497.85 583.9,498.05 584.5,498.67 585.1,499.49 585.7,499.88 586.3,498.81 586.9,496.48 587.5,494.14 588.1,492.99 588.7,493.2 589.3,493.73 589.9,494.36 590.5,494.88 591.1,495.35 591.7,495.82 592.3,496.29 592.9,496.79 593.5,497.32 594.1,497.9 594.7,498.51 595.3,499.13 595.9,499.72 596.5,500.26 597.1,500.75 597.7,501.28 598.3,501.71 598.9,501.9 599.5,501.68 600.1,501.15 600.7,500.53 601.3,500.04 601.9,499.89 602.5,499.89 603.1,499.89 603.7,499.89 604.3,499.83 604.9,499.56 605.5,499.23 606.1,499.02 606.7,498.93 607.3,498.85 607.9,498.78 608.5,498.75 609.1,498.74 609.7,498.75 610.3,498.8 610.9,498.86 611.5,498.96 612.1,499.14 612.7,499.81 613.3,500.95 613.9,504 614.5,507.77 615.1,511.5 615.7,512.39 616.3,512.39 616.9,512.39 617.5,512.39 618.1,512.39 618.7,512.39 619.3,512.39 619.9,512.44 620.5,513.41 621.1,514.87 621.7,515.89 622.3,515.95 622.9,515.85 623.5,515.74 624.1,515.69 624.7,515.91 625.3,516.31 625.9,516.64 626.5,516.7 626.65,516.7"/>
</g>
<rect x="68.5" y="458.3" width="558.15" height="142.8" fill="none" stroke="#262626" stroke-width="1"/>
<path stroke="#1a1a1a" stroke-width="1" fill="none" d="M63.1 458.35H68.5M63.1 486.9H68.5M63.1 515.45H68.5M63.1 544H68.5M63.1 572.55H68.5M63.1 601.1H68.5M68.5 458.35V601.1"/><text transform="translate(56.3 458.35) rotate(-90)" text-anchor="middle" class="s" font-size="7.7">2.5</text><text transform="translate(56.3 486.9) rotate(-90)" text-anchor="middle" class="s" font-size="7.7">2.0</text><text transform="translate(56.3 515.45) rotate(-90)" text-anchor="middle" class="s" font-size="7.7">1.5</text><text transform="translate(56.3 544) rotate(-90)" text-anchor="middle" class="s" font-size="7.7">1.0</text><text transform="translate(56.3 572.55) rotate(-90)" text-anchor="middle" class="s" font-size="7.7">0.5</text><text transform="translate(56.3 601.1) rotate(-90)" text-anchor="middle" class="s" font-size="7.7">0.0</text>
<path stroke="#1a1a1a" stroke-width="1" fill="none" d="M626.65 474.28H632.05M626.65 493.4H632.05M626.65 512.52H632.05M626.65 531.64H632.05M626.65 550.76H632.05M626.65 569.88H632.05M626.65 589H632.05M626.65 474.28V589"/><text transform="translate(644.2 474.28) rotate(-90)" text-anchor="middle" class="s" font-size="7.7">1026</text><text transform="translate(644.2 512.52) rotate(-90)" text-anchor="middle" class="s" font-size="7.7">1022</text><text transform="translate(644.2 550.76) rotate(-90)" text-anchor="middle" class="s" font-size="7.7">1018</text><text transform="translate(644.2 589) rotate(-90)" text-anchor="middle" class="s" font-size="7.7">1014</text>
<text transform="translate(14.3 529.7) rotate(-90)" text-anchor="middle" font-size="12.4">precipitation sum</text><text transform="translate(28.8 529.7) rotate(-90)" text-anchor="middle" font-size="12.4">[km m^-2 / h]</text>
<text transform="translate(658.2 529.7) rotate(-90)" text-anchor="middle" font-size="12.4">surface pressure</text><text transform="translate(672.6 529.7) rotate(-90)" text-anchor="middle" font-size="12.4">[hetcopascal]</text>
</g>
<g id="p4">
<rect x="68.5" y="602.7" width="4.45" height="287.2" fill="#f2f2f2"/><rect x="127.4" y="602.7" width="54.45" height="287.2" fill="#f2f2f2"/><rect x="236.3" y="602.7" width="54.45" height="287.2" fill="#f2f2f2"/><rect x="345.2" y="602.7" width="54.45" height="287.2" fill="#f2f2f2"/><rect x="454.1" y="602.7" width="54.45" height="287.2" fill="#f2f2f2"/><rect x="563" y="602.7" width="54.45" height="287.2" fill="#f2f2f2"/>
<g stroke-width="0.75" stroke-dasharray="3 3" stroke-linecap="round" fill="none"><path stroke="#b4b4b4" d="M100.18 889.9V602.7M154.62 889.9V602.7M209.07 889.9V602.7M263.53 889.9V602.7M317.98 889.9V602.7M372.43 889.9V602.7M426.88 889.9V602.7M481.32 889.9V602.7M535.78 889.9V602.7M590.23 889.9V602.7"/><path stroke="#666666" d="M127.4 889.9V602.7M181.85 889.9V602.7M236.3 889.9V602.7M290.75 889.9V602.7M345.2 889.9V602.7M399.65 889.9V602.7M454.1 889.9V602.7M508.55 889.9V602.7M563 889.9V602.7M617.45 889.9V602.7"/><path stroke="#6e6e6e" d="M72.95 889.9V602.7"/></g>
<path stroke="#989898" stroke-width="0.75" stroke-dasharray="3 3" stroke-linecap="round" fill="none" d="M68.5 610H626.65M68.5 666H626.65M68.5 722H626.65M68.5 778H626.65M68.5 834H626.65"/>
<g clip-path="url(#c4)">
<polygon fill="#0000ff" fill-opacity="0.12" points="68.5,745.96 70.77,745.96 73.04,760.36 93.46,760.36 95.72,745.96 100.26,745.96 102.53,760.36 107.07,760.36 111.61,789.17 116.14,789.17 118.41,774.77 138.83,774.77 141.1,760.36 145.64,760.36 150.18,731.56 159.25,731.56 166.06,774.77 168.32,774.77 170.59,789.17 172.86,789.17 175.13,774.77 186.47,774.77 188.74,789.17 191.01,789.17 193.28,774.77 195.55,789.17 197.82,774.77 200.09,774.77 202.36,760.36 204.62,760.36 206.89,745.96 215.97,745.96 218.24,760.36 222.77,760.36 225.04,745.96 234.12,745.96 236.39,760.36 238.66,745.96 243.19,745.96 245.46,760.36 247.73,760.36 250,774.77 252.27,774.77 254.54,760.36 256.81,774.77 259.07,760.36 265.88,760.36 268.15,774.77 272.69,774.77 274.96,789.17 288.57,789.17 290.84,803.58 293.11,803.58 295.38,789.17 302.18,789.17 304.45,803.58 308.99,803.58 311.26,789.17 322.6,789.17 324.87,774.77 327.14,774.77 329.41,789.17 347.56,789.17 349.82,803.58 352.09,789.17 361.17,789.17 363.44,774.77 381.59,774.77 383.86,789.17 386.12,803.58 388.39,803.58 390.66,789.17 417.89,789.17 420.16,774.77 422.42,789.17 424.69,774.77 426.96,774.77 429.23,760.36 431.5,774.77 438.31,774.77 440.57,789.17 442.84,789.17 445.11,774.77 465.53,774.77 467.8,760.36 481.41,760.36 483.68,745.96 488.22,745.96 492.76,774.77 529.06,774.77 533.59,745.96 540.4,745.96 542.67,760.36 544.94,760.36 547.21,774.77 549.47,774.77 551.74,760.36 560.82,760.36 563.09,774.77 574.43,774.77 576.7,760.36 581.24,760.36 583.51,745.96 588.04,745.96 590.31,731.56 626.5,731.56 626.65,889.9 68.5,889.9"/>
<path stroke="#8a8a8a" stroke-opacity="0.75" stroke-width="1" fill="none" d="M68.5 750V754M70.77 745.56V749.86M73.04 741.23V745.83M75.31 739.71V744.61M77.58 739.18V744.38M79.84 738.75V744.25M82.11 737.82V743.62M84.38 735.57V741.67M86.65 733.15V739.55M88.92 733.08V739.78M91.19 733.39V740.39M93.46 732.06V739.36M95.72 730.25V737.85M97.99 727.46V735.36M100.26 724.31V732.51M102.53 722.66V731.16M104.8 721.95V730.75M107.07 721.16V730.26M109.34 720.43V729.83M111.61 721.02V730.72M113.88 721.73V731.73M116.14 722.16V732.46M118.41 721.89V732.49M120.68 719.99V730.89M122.95 717.57V728.77M125.22 715.71V727.21M127.49 714.65V726.45M129.76 714.5V726.6M132.02 720.67V733.08M134.29 720.81V733.51M136.56 721.76V734.76M138.83 723.56V736.86M141.1 725.68V739.27M143.37 728.04V741.94M145.64 729.39V743.59M147.91 727.84V742.34M150.18 725.47V740.27M152.44 723.42V738.52M154.71 722.19V737.59M156.98 721.2V736.9M159.25 720.25V736.25M161.52 721.61V737.91M163.79 722.61V739.21M166.06 722.91V739.81M168.32 721.53V738.74M170.59 719.39V736.89M172.86 716.67V734.47M175.13 714.36V732.46M177.4 712.7V731.1M179.67 711.48V730.18M181.94 710.48V729.48M184.21 710.02V729.32M186.47 709.83V729.43M188.74 709.98V729.88M191.01 710.84V731.04M193.28 711.79V732.29M195.55 711.94V732.74M197.82 711.81V732.91M200.09 711.35V732.75M202.36 710.53V732.23M204.62 709.62V731.62M206.89 708.72V731.02M209.16 707.58V730.18M211.43 706.22V729.12M213.7 703.56V726.76M215.97 705.33V728.83M218.24 708.83V732.63M220.51 712.45V736.54M222.77 710.48V734.88M225.04 708.73V733.43M227.31 707.37V732.37M229.58 703.69V728.99M231.85 699.17V724.77M234.12 698.26V724.16M236.39 696.76V722.96M238.66 694.34V720.84M243.19 690.95V718.05M245.46 693.3V720.7M247.73 696.15V723.85M250 701.75V729.75M252.27 704.1V732.4M256.81 704.55V733.45M259.07 704.9V734.1M261.34 707.25V736.75M263.61 709.6V739.4M265.88 710.7V740.8M268.15 715.55V745.95M270.42 721.65V752.35M272.69 727V758M274.96 738.85V770.15M277.23 737.45V769.05M279.49 736.8V768.7M281.76 735.4V767.6M284.03 733.25V765.75M286.3 729.35V762.15M288.57 725.45V758.55M290.84 722.3V755.7M293.11 722.15V755.85M295.38 720V754M297.64 718.6V752.9M299.91 718.45V753.05M302.18 719.55V754.45M304.45 723.15V758.35M306.72 725.5V761M308.99 726.1V761.9M313.52 724.3V760.7M315.79 729.15V765.85M318.06 738V775M320.33 740.85V778.15M322.6 745.7V783.3M324.87 753.8V791.7M327.14 756.65V794.85M329.41 761.5V800M331.67 757.6V796.4M333.94 754.95V794.05M336.21 753.05V792.45M338.48 744.65V784.35M340.75 744V784M343.02 744.35V784.65M345.29 744.2V784.8M347.56 737.05V777.95M349.82 738.4V779.6M352.09 740.16V778.84M354.36 744.1V787.4M356.63 738.12V784.88M358.9 743.65V790.35M361.17 736.55V779.95M363.44 735.97V775.53M365.71 739.84V778.16M367.97 738.57V779.43M370.24 735.51V780.99M372.51 738.8V787.7M374.78 737.62V786.38M377.05 725.05V770.45M379.32 746.25V787.75M381.59 758.24V798.26M383.86 758.34V800.66M386.12 764.18V810.82M388.39 763.39V813.11M390.66 761.89V811.11M392.93 746.24V791.76M395.2 743.78V785.22M397.47 723.23V763.27M399.74 718.3V760.7M402.01 709.89V756.61M404.27 701.38V751.12M406.54 718.66V767.84M408.81 718.03V763.47M411.08 729.31V770.69M413.35 726.98V767.02M417.89 721.6V768.4M420.16 715.86V765.64M422.42 724.94V774.06M424.69 721.82V767.18M426.96 725.84V767.16M429.23 729.47V769.53M431.5 730.73V773.27M433.77 742.81V789.69M436.04 750.1V799.9M438.31 763.71V812.79M440.57 758.86V804.14M442.84 753.87V795.13M445.11 748.96V789.04M447.38 738.19V780.81M449.65 731.02V777.98M451.92 723.34V773.16M454.19 721.23V770.27M456.46 721.4V766.6M458.72 720.15V761.35M460.99 724.95V765.05M463.26 718.65V761.35M465.53 717.98V765.02M467.8 719.08V768.92M470.07 720.51V769.49M472.34 725.7V770.8M474.61 721.42V762.58M476.87 719.45V759.55M479.14 715.62V758.38M481.41 709.69V756.81M483.68 709.57V759.43M485.95 713.78V762.72M488.22 715.24V760.26M490.49 726.45V767.55M492.76 728.19V768.31M495.02 729.33V772.17M497.29 728.4V775.6M499.56 714.56V764.44M501.83 707.56V756.44M504.1 704.53V749.47M506.37 703.98V745.02M508.64 703.18V743.32M510.91 701.29V744.21M513.17 691.62V738.88M515.44 691.55V741.45M517.71 694.59V743.41M519.98 697.07V741.93M522.25 701V742M524.52 699.92V740.08M526.79 701.75V744.75M529.06 700.33V747.67M531.33 690.29V740.21M533.59 685.12V733.88M535.86 685.12V729.88M538.13 685.28V726.22M540.4 685.16V725.34M542.67 683.68V726.75M544.94 685.47V732.88M547.21 675.6V725.53M549.47 676.56V725.27M551.74 678.57V723.26M554.01 691.31V732.2M556.28 687V727.21M558.55 683.64V726.79M560.82 678.54V726.03M563.09 675.6V725.54M565.36 678.82V727.48M567.62 649.52V694.13M569.89 657.25V698.1M572.16 657.56V697.79M574.43 687.9V731.13M576.7 694V741.56M578.97 698.83V748.78M581.24 711.9V760.5M583.51 710.15V754.67M585.77 705.12V745.93M588.04 701.09V741.35M590.31 700.43V743.74M592.58 699.47V747.1M594.85 698.82V748.79M597.12 719.67V768.21M599.39 721.38V765.81M601.66 699.12V739.88M603.92 702.8V743.09M606.19 690.06V733.45M608.46 690.48V738.19M610.73 685.91V735.88M613 682.01V730.49M615.27 701.63V745.98M617.54 704.31V745.02M619.81 704.5V744.82M622.07 702.59V746.05M624.34 700.78V748.55M626.61 701.39V751.38"/>
<polyline fill="none" stroke="#ff0000" stroke-width="1.5" stroke-linejoin="miter" points="68.5,645.13 73.04,673.94 84.38,673.94 86.65,688.34 91.19,659.54 93.46,659.54 95.72,645.13 100.26,645.13 102.53,659.54 107.07,659.54 116.14,717.15 118.41,702.75 122.95,702.75 125.22,688.34 127.49,702.75 129.76,688.34 141.1,688.34 152.44,616.32 159.25,616.32 161.52,630.73 163.79,659.54 170.59,702.75 197.82,702.75 202.36,673.94 204.62,673.94 209.16,645.13 222.77,645.13 225.04,659.54 229.58,659.54 231.85,645.13 234.12,645.13 236.39,659.54 238.66,645.13 243.19,645.13 247.73,673.94 254.54,673.94 256.81,688.34 259.07,688.34 261.34,673.94 268.15,673.94 277.23,731.56 279.49,731.56 281.76,745.96 284.03,745.96 286.3,731.56 288.57,731.56 290.84,745.96 313.52,745.96 318.06,717.15 327.14,717.15 331.67,745.96 356.63,745.96 358.9,731.56 361.17,731.56 363.44,717.15 370.24,717.15 372.51,702.75 381.59,702.75 388.39,745.96 395.2,745.96 397.47,731.56 408.81,731.56 411.08,745.96 417.89,745.96 420.16,731.56 422.42,717.15 426.96,702.75 431.5,702.75 433.77,717.15 436.04,717.15 438.31,745.96 445.11,745.96 447.38,731.56 451.92,745.96 454.19,745.96 456.46,731.56 463.26,731.56 465.53,717.15 470.07,717.15 472.34,702.75 474.61,702.75 476.87,688.34 479.14,688.34 481.41,673.94 483.68,688.34 488.22,688.34 490.49,673.94 492.76,688.34 495.02,688.34 497.29,702.75 501.83,702.75 504.1,717.15 517.71,717.15 522.25,731.56 524.52,731.56 526.79,717.15 529.06,717.15 533.59,688.34 535.86,702.75 538.13,688.34 544.94,688.34 547.21,717.15 549.47,717.15 551.74,731.56 556.28,731.56 558.55,702.75 574.43,702.75 576.7,688.34 578.97,688.34 581.24,673.94 590.31,673.94 592.58,659.54 594.85,659.54 597.12,673.94 599.39,673.94 601.66,659.54 603.92,659.54 606.19,673.94 615.27,673.94 617.54,659.54 626.5,659.54"/>
<polyline fill="none" stroke="#0000ff" stroke-width="1.5" stroke-linejoin="miter" points="68.5,745.96 70.77,745.96 73.04,760.36 93.46,760.36 95.72,745.96 100.26,745.96 102.53,760.36 107.07,760.36 111.61,789.17 116.14,789.17 118.41,774.77 138.83,774.77 141.1,760.36 145.64,760.36 150.18,731.56 159.25,731.56 166.06,774.77 168.32,774.77 170.59,789.17 172.86,789.17 175.13,774.77 186.47,774.77 188.74,789.17 191.01,789.17 193.28,774.77 195.55,789.17 197.82,774.77 200.09,774.77 202.36,760.36 204.62,760.36 206.89,745.96 215.97,745.96 218.24,760.36 222.77,760.36 225.04,745.96 234.12,745.96 236.39,760.36 238.66,745.96 243.19,745.96 245.46,760.36 247.73,760.36 250,774.77 252.27,774.77 254.54,760.36 256.81,774.77 259.07,760.36 265.88,760.36 268.15,774.77 272.69,774.77 274.96,789.17 288.57,789.17 290.84,803.58 293.11,803.58 295.38,789.17 302.18,789.17 304.45,803.58 308.99,803.58 311.26,789.17 322.6,789.17 324.87,774.77 327.14,774.77 329.41,789.17 347.56,789.17 349.82,803.58 352.09,789.17 361.17,789.17 363.44,774.77 381.59,774.77 383.86,789.17 386.12,803.58 388.39,803.58 390.66,789.17 417.89,789.17 420.16,774.77 422.42,789.17 424.69,774.77 426.96,774.77 429.23,760.36 431.5,774.77 438.31,774.77 440.57,789.17 442.84,789.17 445.11,774.77 465.53,774.77 467.8,760.36 481.41,760.36 483.68,745.96 488.22,745.96 492.76,774.77 529.06,774.77 533.59,745.96 540.4,745.96 542.67,760.36 544.94,760.36 547.21,774.77 549.47,774.77 551.74,760.36 560.82,760.36 563.09,774.77 574.43,774.77 576.7,760.36 581.24,760.36 583.51,745.96 588.04,745.96 590.31,731.56 626.5,731.56"/>
<g fill="#1c1c1c" fill-opacity="0.5" stroke="#1c1c1c" stroke-width="1.3"><circle cx="68.5" cy="752" r="1.35"/><circle cx="70.77" cy="747.71" r="1.35"/><circle cx="73.04" cy="743.53" r="1.35"/><circle cx="75.31" cy="742.16" r="1.35"/><circle cx="77.58" cy="741.78" r="1.35"/><circle cx="79.84" cy="741.5" r="1.35"/><circle cx="82.11" cy="740.72" r="1.35"/><circle cx="84.38" cy="738.62" r="1.35"/><circle cx="86.65" cy="736.35" r="1.35"/><circle cx="88.92" cy="736.43" r="1.35"/><circle cx="91.19" cy="736.89" r="1.35"/><circle cx="93.46" cy="735.71" r="1.35"/><circle cx="95.72" cy="734.05" r="1.35"/><circle cx="97.99" cy="731.41" r="1.35"/><circle cx="100.26" cy="728.41" r="1.35"/><circle cx="102.53" cy="726.91" r="1.35"/><circle cx="104.8" cy="726.35" r="1.35"/><circle cx="107.07" cy="725.71" r="1.35"/><circle cx="109.34" cy="725.13" r="1.35"/><circle cx="111.61" cy="725.87" r="1.35"/><circle cx="113.88" cy="726.73" r="1.35"/><circle cx="116.14" cy="727.31" r="1.35"/><circle cx="118.41" cy="727.19" r="1.35"/><circle cx="120.68" cy="725.44" r="1.35"/><circle cx="122.95" cy="723.17" r="1.35"/><circle cx="125.22" cy="721.46" r="1.35"/><circle cx="127.49" cy="720.55" r="1.35"/><circle cx="129.76" cy="720.55" r="1.35"/><circle cx="132.02" cy="726.88" r="1.35"/><circle cx="134.29" cy="727.16" r="1.35"/><circle cx="136.56" cy="728.26" r="1.35"/><circle cx="138.83" cy="730.21" r="1.35"/><circle cx="141.1" cy="732.48" r="1.35"/><circle cx="143.37" cy="734.99" r="1.35"/><circle cx="145.64" cy="736.49" r="1.35"/><circle cx="147.91" cy="735.09" r="1.35"/><circle cx="150.18" cy="732.87" r="1.35"/><circle cx="152.44" cy="730.97" r="1.35"/><circle cx="154.71" cy="729.89" r="1.35"/><circle cx="156.98" cy="729.05" r="1.35"/><circle cx="159.25" cy="728.25" r="1.35"/><circle cx="161.52" cy="729.76" r="1.35"/><circle cx="163.79" cy="730.91" r="1.35"/><circle cx="166.06" cy="731.36" r="1.35"/><circle cx="168.32" cy="730.13" r="1.35"/><circle cx="170.59" cy="728.14" r="1.35"/><circle cx="172.86" cy="725.57" r="1.35"/><circle cx="175.13" cy="723.41" r="1.35"/><circle cx="177.4" cy="721.9" r="1.35"/><circle cx="179.67" cy="720.83" r="1.35"/><circle cx="181.94" cy="719.98" r="1.35"/><circle cx="184.21" cy="719.67" r="1.35"/><circle cx="186.47" cy="719.63" r="1.35"/><circle cx="188.74" cy="719.93" r="1.35"/><circle cx="191.01" cy="720.94" r="1.35"/><circle cx="193.28" cy="722.04" r="1.35"/><circle cx="195.55" cy="722.34" r="1.35"/><circle cx="197.82" cy="722.36" r="1.35"/><circle cx="200.09" cy="722.05" r="1.35"/><circle cx="202.36" cy="721.38" r="1.35"/><circle cx="204.62" cy="720.62" r="1.35"/><circle cx="206.89" cy="719.87" r="1.35"/><circle cx="209.16" cy="718.88" r="1.35"/><circle cx="211.43" cy="717.67" r="1.35"/><circle cx="213.7" cy="715.16" r="1.35"/><circle cx="215.97" cy="717.08" r="1.35"/><circle cx="218.24" cy="720.73" r="1.35"/><circle cx="220.51" cy="724.5" r="1.35"/><circle cx="222.77" cy="722.68" r="1.35"/><circle cx="225.04" cy="721.08" r="1.35"/><circle cx="227.31" cy="719.87" r="1.35"/><circle cx="229.58" cy="716.34" r="1.35"/><circle cx="231.85" cy="711.97" r="1.35"/><circle cx="234.12" cy="711.21" r="1.35"/><circle cx="236.39" cy="709.86" r="1.35"/><circle cx="238.66" cy="707.59" r="1.35"/><circle cx="243.19" cy="704.5" r="1.35"/><circle cx="245.46" cy="707" r="1.35"/><circle cx="247.73" cy="710" r="1.35"/><circle cx="250" cy="715.75" r="1.35"/><circle cx="252.27" cy="718.25" r="1.35"/><circle cx="256.81" cy="719" r="1.35"/><circle cx="259.07" cy="719.5" r="1.35"/><circle cx="261.34" cy="722" r="1.35"/><circle cx="263.61" cy="724.5" r="1.35"/><circle cx="265.88" cy="725.75" r="1.35"/><circle cx="268.15" cy="730.75" r="1.35"/><circle cx="270.42" cy="737" r="1.35"/><circle cx="272.69" cy="742.5" r="1.35"/><circle cx="274.96" cy="754.5" r="1.35"/><circle cx="277.23" cy="753.25" r="1.35"/><circle cx="279.49" cy="752.75" r="1.35"/><circle cx="281.76" cy="751.5" r="1.35"/><circle cx="284.03" cy="749.5" r="1.35"/><circle cx="286.3" cy="745.75" r="1.35"/><circle cx="288.57" cy="742" r="1.35"/><circle cx="290.84" cy="739" r="1.35"/><circle cx="293.11" cy="739" r="1.35"/><circle cx="295.38" cy="737" r="1.35"/><circle cx="297.64" cy="735.75" r="1.35"/><circle cx="299.91" cy="735.75" r="1.35"/><circle cx="302.18" cy="737" r="1.35"/><circle cx="304.45" cy="740.75" r="1.35"/><circle cx="306.72" cy="743.25" r="1.35"/><circle cx="308.99" cy="744" r="1.35"/><circle cx="313.52" cy="742.5" r="1.35"/><circle cx="315.79" cy="747.5" r="1.35"/><circle cx="318.06" cy="756.5" r="1.35"/><circle cx="320.33" cy="759.5" r="1.35"/><circle cx="322.6" cy="764.5" r="1.35"/><circle cx="324.87" cy="772.75" r="1.35"/><circle cx="327.14" cy="775.75" r="1.35"/><circle cx="329.41" cy="780.75" r="1.35"/><circle cx="331.67" cy="777" r="1.35"/><circle cx="333.94" cy="774.5" r="1.35"/><circle cx="336.21" cy="772.75" r="1.35"/><circle cx="338.48" cy="764.5" r="1.35"/><circle cx="340.75" cy="764" r="1.35"/><circle cx="343.02" cy="764.5" r="1.35"/><circle cx="345.29" cy="764.5" r="1.35"/><circle cx="347.56" cy="757.5" r="1.35"/><circle cx="349.82" cy="759" r="1.35"/><circle cx="352.09" cy="759.5" r="1.35"/><circle cx="354.36" cy="765.75" r="1.35"/><circle cx="356.63" cy="761.5" r="1.35"/><circle cx="358.9" cy="767" r="1.35"/><circle cx="361.17" cy="758.25" r="1.35"/><circle cx="363.44" cy="755.75" r="1.35"/><circle cx="365.71" cy="759" r="1.35"/><circle cx="367.97" cy="759" r="1.35"/><circle cx="370.24" cy="758.25" r="1.35"/><circle cx="372.51" cy="763.25" r="1.35"/><circle cx="374.78" cy="762" r="1.35"/><circle cx="377.05" cy="747.75" r="1.35"/><circle cx="379.32" cy="767" r="1.35"/><circle cx="381.59" cy="778.25" r="1.35"/><circle cx="383.86" cy="779.5" r="1.35"/><circle cx="386.12" cy="787.5" r="1.35"/><circle cx="388.39" cy="788.25" r="1.35"/><circle cx="390.66" cy="786.5" r="1.35"/><circle cx="392.93" cy="769" r="1.35"/><circle cx="395.2" cy="764.5" r="1.35"/><circle cx="397.47" cy="743.25" r="1.35"/><circle cx="399.74" cy="739.5" r="1.35"/><circle cx="402.01" cy="733.25" r="1.35"/><circle cx="404.27" cy="726.25" r="1.35"/><circle cx="406.54" cy="743.25" r="1.35"/><circle cx="408.81" cy="740.75" r="1.35"/><circle cx="411.08" cy="750" r="1.35"/><circle cx="413.35" cy="747" r="1.35"/><circle cx="417.89" cy="745" r="1.35"/><circle cx="420.16" cy="740.75" r="1.35"/><circle cx="422.42" cy="749.5" r="1.35"/><circle cx="424.69" cy="744.5" r="1.35"/><circle cx="426.96" cy="746.5" r="1.35"/><circle cx="429.23" cy="749.5" r="1.35"/><circle cx="431.5" cy="752" r="1.35"/><circle cx="433.77" cy="766.25" r="1.35"/><circle cx="436.04" cy="775" r="1.35"/><circle cx="438.31" cy="788.25" r="1.35"/><circle cx="440.57" cy="781.5" r="1.35"/><circle cx="442.84" cy="774.5" r="1.35"/><circle cx="445.11" cy="769" r="1.35"/><circle cx="447.38" cy="759.5" r="1.35"/><circle cx="449.65" cy="754.5" r="1.35"/><circle cx="451.92" cy="748.25" r="1.35"/><circle cx="454.19" cy="745.75" r="1.35"/><circle cx="456.46" cy="744" r="1.35"/><circle cx="458.72" cy="740.75" r="1.35"/><circle cx="460.99" cy="745" r="1.35"/><circle cx="463.26" cy="740" r="1.35"/><circle cx="465.53" cy="741.5" r="1.35"/><circle cx="467.8" cy="744" r="1.35"/><circle cx="470.07" cy="745" r="1.35"/><circle cx="472.34" cy="748.25" r="1.35"/><circle cx="474.61" cy="742" r="1.35"/><circle cx="476.87" cy="739.5" r="1.35"/><circle cx="479.14" cy="737" r="1.35"/><circle cx="481.41" cy="733.25" r="1.35"/><circle cx="483.68" cy="734.5" r="1.35"/><circle cx="485.95" cy="738.25" r="1.35"/><circle cx="488.22" cy="737.75" r="1.35"/><circle cx="490.49" cy="747" r="1.35"/><circle cx="492.76" cy="748.25" r="1.35"/><circle cx="495.02" cy="750.75" r="1.35"/><circle cx="497.29" cy="752" r="1.35"/><circle cx="499.56" cy="739.5" r="1.35"/><circle cx="501.83" cy="732" r="1.35"/><circle cx="504.1" cy="727" r="1.35"/><circle cx="506.37" cy="724.5" r="1.35"/><circle cx="508.64" cy="723.25" r="1.35"/><circle cx="510.91" cy="722.75" r="1.35"/><circle cx="513.17" cy="715.25" r="1.35"/><circle cx="515.44" cy="716.5" r="1.35"/><circle cx="517.71" cy="719" r="1.35"/><circle cx="519.98" cy="719.5" r="1.35"/><circle cx="522.25" cy="721.5" r="1.35"/><circle cx="524.52" cy="720" r="1.35"/><circle cx="526.79" cy="723.25" r="1.35"/><circle cx="529.06" cy="724" r="1.35"/><circle cx="531.33" cy="715.25" r="1.35"/><circle cx="533.59" cy="709.5" r="1.35"/><circle cx="535.86" cy="707.5" r="1.35"/><circle cx="538.13" cy="705.75" r="1.35"/><circle cx="540.4" cy="705.25" r="1.35"/><circle cx="542.67" cy="705.22" r="1.35"/><circle cx="544.94" cy="709.17" r="1.35"/><circle cx="547.21" cy="700.57" r="1.35"/><circle cx="549.47" cy="700.91" r="1.35"/><circle cx="551.74" cy="700.91" r="1.35"/><circle cx="554.01" cy="711.76" r="1.35"/><circle cx="556.28" cy="707.11" r="1.35"/><circle cx="558.55" cy="705.22" r="1.35"/><circle cx="560.82" cy="702.29" r="1.35"/><circle cx="563.09" cy="700.57" r="1.35"/><circle cx="565.36" cy="703.15" r="1.35"/><circle cx="567.62" cy="671.82" r="1.35"/><circle cx="569.89" cy="677.68" r="1.35"/><circle cx="572.16" cy="677.68" r="1.35"/><circle cx="574.43" cy="709.52" r="1.35"/><circle cx="576.7" cy="717.78" r="1.35"/><circle cx="578.97" cy="723.8" r="1.35"/><circle cx="581.24" cy="736.2" r="1.35"/><circle cx="583.51" cy="732.41" r="1.35"/><circle cx="585.77" cy="725.52" r="1.35"/><circle cx="588.04" cy="721.22" r="1.35"/><circle cx="590.31" cy="722.08" r="1.35"/><circle cx="592.58" cy="723.29" r="1.35"/><circle cx="594.85" cy="723.8" r="1.35"/><circle cx="597.12" cy="743.94" r="1.35"/><circle cx="599.39" cy="743.6" r="1.35"/><circle cx="601.66" cy="719.5" r="1.35"/><circle cx="603.92" cy="722.94" r="1.35"/><circle cx="606.19" cy="711.76" r="1.35"/><circle cx="608.46" cy="714.34" r="1.35"/><circle cx="610.73" cy="710.9" r="1.35"/><circle cx="613" cy="706.25" r="1.35"/><circle cx="615.27" cy="723.8" r="1.35"/><circle cx="617.54" cy="724.66" r="1.35"/><circle cx="619.81" cy="724.66" r="1.35"/><circle cx="622.07" cy="724.32" r="1.35"/><circle cx="624.34" cy="724.66" r="1.35"/><circle cx="626.61" cy="726.39" r="1.35"/></g>
</g>
<rect x="68.5" y="602.7" width="558.15" height="287.2" fill="none" stroke="#262626" stroke-width="1"/>
<path stroke="#1a1a1a" stroke-width="1" fill="none" d="M63.1 610H68.5M63.1 666H68.5M63.1 722H68.5M63.1 778H68.5M63.1 834H68.5M63.1 890H68.5M68.5 610V890"/><text transform="translate(56.3 610) rotate(-90)" text-anchor="middle" class="s" font-size="7.7">10</text><text transform="translate(56.3 666) rotate(-90)" text-anchor="middle" class="s" font-size="7.7">8</text><text transform="translate(56.3 722) rotate(-90)" text-anchor="middle" class="s" font-size="7.7">6</text><text transform="translate(56.3 778) rotate(-90)" text-anchor="middle" class="s" font-size="7.7">4</text><text transform="translate(56.3 834) rotate(-90)" text-anchor="middle" class="s" font-size="7.7">2</text><text transform="translate(56.3 890) rotate(-90)" text-anchor="middle" class="s" font-size="7.7">0</text>
<path stroke="#1a1a1a" stroke-width="1" fill="none" d="M626.65 679.45H632.05M626.65 746.2H632.05M626.65 812.95H632.05M626.65 679.45V812.95"/><text transform="translate(644.2 679.45) rotate(-90)" text-anchor="middle" class="s" font-size="7.7">270</text><text transform="translate(644.2 746.2) rotate(-90)" text-anchor="middle" class="s" font-size="7.7">180</text><text transform="translate(644.2 812.95) rotate(-90)" text-anchor="middle" class="s" font-size="7.7">90</text>
<text transform="translate(14.3 746.3) rotate(-90)" text-anchor="middle" font-size="12.4">wind speed and maximum</text><text transform="translate(28.8 746.3) rotate(-90)" text-anchor="middle" font-size="12.4">hourly wind gust [m/s]</text>
<text transform="translate(658.2 746.3) rotate(-90)" text-anchor="middle" font-size="12.4">wind direction</text><text transform="translate(672.6 746.3) rotate(-90)" text-anchor="middle" font-size="12.4">[degrees]</text>
<path stroke="#1a1a1a" stroke-width="1" fill="none" d="M72.95 889.9V895.2M127.4 889.9V895.2M181.85 889.9V895.2M236.3 889.9V895.2M290.75 889.9V895.2M345.2 889.9V895.2M399.65 889.9V895.2M454.1 889.9V895.2M508.55 889.9V895.2M563 889.9V895.2M617.45 889.9V895.2"/>
<path stroke="#000" stroke-width="1.3" fill="none" d="M72.95 890H617.45"/>
<text x="100.18" y="907" text-anchor="middle" class="s" font-size="7.7">Feb 26</text>
<text x="154.62" y="907" text-anchor="middle" class="s" font-size="7.7">Feb 27</text>
<text x="209.07" y="907" text-anchor="middle" class="s" font-size="7.7">Feb 28</text>
<text x="263.53" y="907" text-anchor="middle" class="s" font-size="7.7">Mar 01</text>
<text x="317.98" y="907" text-anchor="middle" class="s" font-size="7.7">Mar 02</text>
<text x="372.43" y="907" text-anchor="middle" class="s" font-size="7.7">Mar 03</text>
<text x="426.88" y="907" text-anchor="middle" class="s" font-size="7.7">Mar 04</text>
<text x="481.32" y="907" text-anchor="middle" class="s" font-size="7.7">Mar 05</text>
<text x="535.78" y="907" text-anchor="middle" class="s" font-size="7.7">Mar 06</text>
<text x="590.23" y="907" text-anchor="middle" class="s" font-size="7.7">Mar 07</text>
</g>
</svg>
</div>
</body></html>
